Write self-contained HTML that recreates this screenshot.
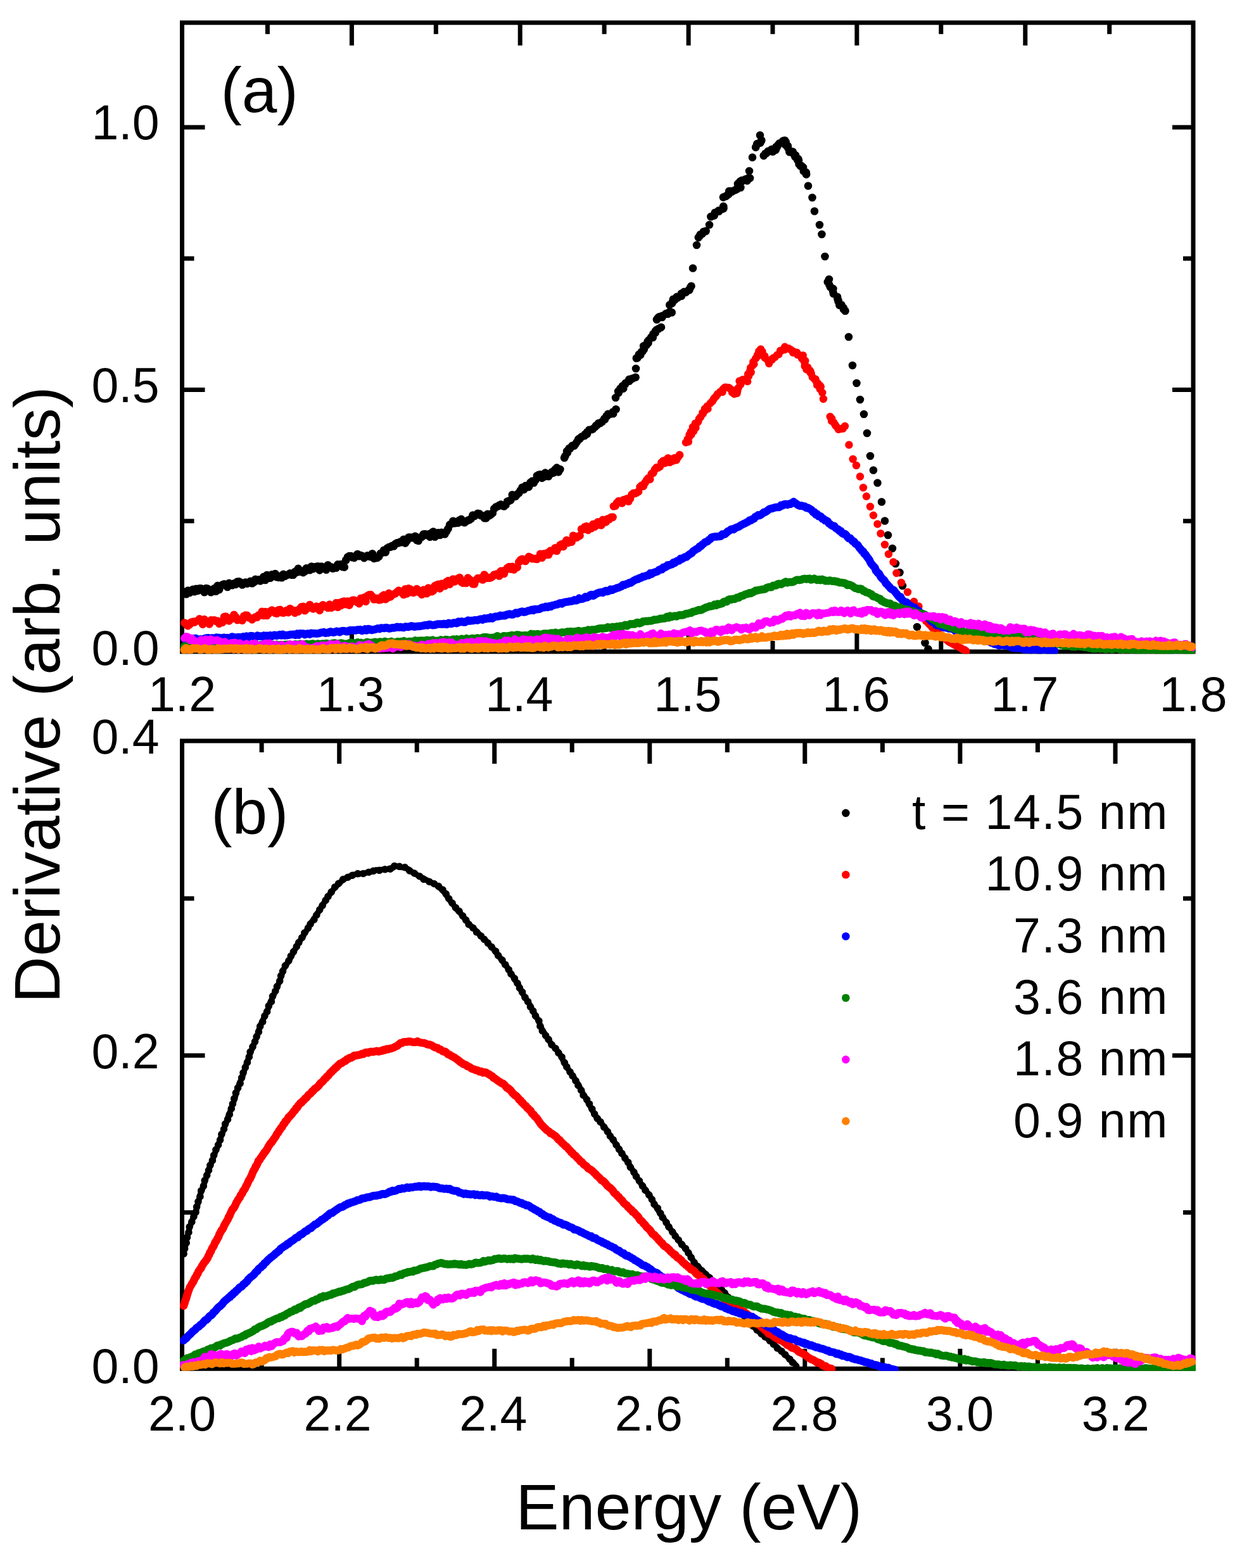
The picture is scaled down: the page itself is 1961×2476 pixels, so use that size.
<!DOCTYPE html>
<html><head><meta charset="utf-8"><title>Derivative plot</title>
<style>html,body{margin:0;padding:0;background:#fff;}svg{display:block;}</style>
</head><body>
<svg width="1961" height="2476" viewBox="0 0 1961 2476">
<rect x="0" y="0" width="1961" height="2476" fill="#ffffff"/>
<rect x="287.5" y="35.8" width="1596.5" height="993.2" fill="none" stroke="#000" stroke-width="7.0"/>
<line x1="555.4" y1="1029.0" x2="555.4" y2="997.5" stroke="#000" stroke-width="7.0"/>
<line x1="555.4" y1="35.8" x2="555.4" y2="71.8" stroke="#000" stroke-width="7.0"/>
<line x1="821.2" y1="1029.0" x2="821.2" y2="997.5" stroke="#000" stroke-width="7.0"/>
<line x1="821.2" y1="35.8" x2="821.2" y2="71.8" stroke="#000" stroke-width="7.0"/>
<line x1="1087.1" y1="1029.0" x2="1087.1" y2="997.5" stroke="#000" stroke-width="7.0"/>
<line x1="1087.1" y1="35.8" x2="1087.1" y2="71.8" stroke="#000" stroke-width="7.0"/>
<line x1="1352.9" y1="1029.0" x2="1352.9" y2="997.5" stroke="#000" stroke-width="7.0"/>
<line x1="1352.9" y1="35.8" x2="1352.9" y2="71.8" stroke="#000" stroke-width="7.0"/>
<line x1="1618.8" y1="1029.0" x2="1618.8" y2="997.5" stroke="#000" stroke-width="7.0"/>
<line x1="1618.8" y1="35.8" x2="1618.8" y2="71.8" stroke="#000" stroke-width="7.0"/>
<line x1="422.4" y1="1029.0" x2="422.4" y2="1012.0" stroke="#000" stroke-width="7.0"/>
<line x1="422.4" y1="35.8" x2="422.4" y2="53.8" stroke="#000" stroke-width="7.0"/>
<line x1="688.3" y1="1029.0" x2="688.3" y2="1012.0" stroke="#000" stroke-width="7.0"/>
<line x1="688.3" y1="35.8" x2="688.3" y2="53.8" stroke="#000" stroke-width="7.0"/>
<line x1="954.1" y1="1029.0" x2="954.1" y2="1012.0" stroke="#000" stroke-width="7.0"/>
<line x1="954.1" y1="35.8" x2="954.1" y2="53.8" stroke="#000" stroke-width="7.0"/>
<line x1="1220.0" y1="1029.0" x2="1220.0" y2="1012.0" stroke="#000" stroke-width="7.0"/>
<line x1="1220.0" y1="35.8" x2="1220.0" y2="53.8" stroke="#000" stroke-width="7.0"/>
<line x1="1485.8" y1="1029.0" x2="1485.8" y2="1012.0" stroke="#000" stroke-width="7.0"/>
<line x1="1485.8" y1="35.8" x2="1485.8" y2="53.8" stroke="#000" stroke-width="7.0"/>
<line x1="1751.7" y1="1029.0" x2="1751.7" y2="1012.0" stroke="#000" stroke-width="7.0"/>
<line x1="1751.7" y1="35.8" x2="1751.7" y2="53.8" stroke="#000" stroke-width="7.0"/>
<line x1="287.5" y1="615.5" x2="323.5" y2="615.5" stroke="#000" stroke-width="7.0"/>
<line x1="1884.0" y1="615.5" x2="1851.0" y2="615.5" stroke="#000" stroke-width="7.0"/>
<line x1="287.5" y1="201.0" x2="323.5" y2="201.0" stroke="#000" stroke-width="7.0"/>
<line x1="1884.0" y1="201.0" x2="1851.0" y2="201.0" stroke="#000" stroke-width="7.0"/>
<line x1="287.5" y1="822.8" x2="306.5" y2="822.8" stroke="#000" stroke-width="7.0"/>
<line x1="1884.0" y1="822.8" x2="1868.0" y2="822.8" stroke="#000" stroke-width="7.0"/>
<line x1="287.5" y1="408.2" x2="306.5" y2="408.2" stroke="#000" stroke-width="7.0"/>
<line x1="1884.0" y1="408.2" x2="1868.0" y2="408.2" stroke="#000" stroke-width="7.0"/>
<rect x="287.5" y="1170.0" width="1596.5" height="991.3000000000002" fill="none" stroke="#000" stroke-width="7.0"/>
<line x1="535.7" y1="2161.3" x2="535.7" y2="2129.8" stroke="#000" stroke-width="7.0"/>
<line x1="535.7" y1="1170.0" x2="535.7" y2="1206.0" stroke="#000" stroke-width="7.0"/>
<line x1="780.7" y1="2161.3" x2="780.7" y2="2129.8" stroke="#000" stroke-width="7.0"/>
<line x1="780.7" y1="1170.0" x2="780.7" y2="1206.0" stroke="#000" stroke-width="7.0"/>
<line x1="1025.8" y1="2161.3" x2="1025.8" y2="2129.8" stroke="#000" stroke-width="7.0"/>
<line x1="1025.8" y1="1170.0" x2="1025.8" y2="1206.0" stroke="#000" stroke-width="7.0"/>
<line x1="1270.8" y1="2161.3" x2="1270.8" y2="2129.8" stroke="#000" stroke-width="7.0"/>
<line x1="1270.8" y1="1170.0" x2="1270.8" y2="1206.0" stroke="#000" stroke-width="7.0"/>
<line x1="1515.9" y1="2161.3" x2="1515.9" y2="2129.8" stroke="#000" stroke-width="7.0"/>
<line x1="1515.9" y1="1170.0" x2="1515.9" y2="1206.0" stroke="#000" stroke-width="7.0"/>
<line x1="1761.0" y1="2161.3" x2="1761.0" y2="2129.8" stroke="#000" stroke-width="7.0"/>
<line x1="1761.0" y1="1170.0" x2="1761.0" y2="1206.0" stroke="#000" stroke-width="7.0"/>
<line x1="413.1" y1="2161.3" x2="413.1" y2="2144.3" stroke="#000" stroke-width="7.0"/>
<line x1="413.1" y1="1170.0" x2="413.1" y2="1188.0" stroke="#000" stroke-width="7.0"/>
<line x1="658.2" y1="2161.3" x2="658.2" y2="2144.3" stroke="#000" stroke-width="7.0"/>
<line x1="658.2" y1="1170.0" x2="658.2" y2="1188.0" stroke="#000" stroke-width="7.0"/>
<line x1="903.2" y1="2161.3" x2="903.2" y2="2144.3" stroke="#000" stroke-width="7.0"/>
<line x1="903.2" y1="1170.0" x2="903.2" y2="1188.0" stroke="#000" stroke-width="7.0"/>
<line x1="1148.3" y1="2161.3" x2="1148.3" y2="2144.3" stroke="#000" stroke-width="7.0"/>
<line x1="1148.3" y1="1170.0" x2="1148.3" y2="1188.0" stroke="#000" stroke-width="7.0"/>
<line x1="1393.4" y1="2161.3" x2="1393.4" y2="2144.3" stroke="#000" stroke-width="7.0"/>
<line x1="1393.4" y1="1170.0" x2="1393.4" y2="1188.0" stroke="#000" stroke-width="7.0"/>
<line x1="1638.4" y1="2161.3" x2="1638.4" y2="2144.3" stroke="#000" stroke-width="7.0"/>
<line x1="1638.4" y1="1170.0" x2="1638.4" y2="1188.0" stroke="#000" stroke-width="7.0"/>
<line x1="287.5" y1="1666.7" x2="323.5" y2="1666.7" stroke="#000" stroke-width="7.0"/>
<line x1="1884.0" y1="1666.7" x2="1851.0" y2="1666.7" stroke="#000" stroke-width="7.0"/>
<line x1="287.5" y1="1914.6" x2="306.5" y2="1914.6" stroke="#000" stroke-width="7.0"/>
<line x1="1884.0" y1="1914.6" x2="1868.0" y2="1914.6" stroke="#000" stroke-width="7.0"/>
<line x1="287.5" y1="1418.8" x2="306.5" y2="1418.8" stroke="#000" stroke-width="7.0"/>
<line x1="1884.0" y1="1418.8" x2="1868.0" y2="1418.8" stroke="#000" stroke-width="7.0"/>
<defs><clipPath id="ca"><rect x="284" y="32" width="1604" height="1000.5"/></clipPath><clipPath id="cb"><rect x="284" y="1166" width="1604" height="998.8"/></clipPath></defs>
<g id="pa" clip-path="url(#ca)">
<path d="M285.1,934.7a6.4,6.4 0 1,0 12.8,0a6.4,6.4 0 1,0 -12.8,0M287.7,938.2a6.4,6.4 0 1,0 12.8,0a6.4,6.4 0 1,0 -12.8,0M290.3,932.7a6.4,6.4 0 1,0 12.8,0a6.4,6.4 0 1,0 -12.8,0M292.9,935.9a6.4,6.4 0 1,0 12.8,0a6.4,6.4 0 1,0 -12.8,0M295.5,933.9a6.4,6.4 0 1,0 12.8,0a6.4,6.4 0 1,0 -12.8,0M298.1,930.8a6.4,6.4 0 1,0 12.8,0a6.4,6.4 0 1,0 -12.8,0M300.7,934.1a6.4,6.4 0 1,0 12.8,0a6.4,6.4 0 1,0 -12.8,0M303.3,929.8a6.4,6.4 0 1,0 12.8,0a6.4,6.4 0 1,0 -12.8,0M305.9,932.8a6.4,6.4 0 1,0 12.8,0a6.4,6.4 0 1,0 -12.8,0M308.5,929.5a6.4,6.4 0 1,0 12.8,0a6.4,6.4 0 1,0 -12.8,0M311.1,929.4a6.4,6.4 0 1,0 12.8,0a6.4,6.4 0 1,0 -12.8,0M313.7,932.0a6.4,6.4 0 1,0 12.8,0a6.4,6.4 0 1,0 -12.8,0M316.3,935.2a6.4,6.4 0 1,0 12.8,0a6.4,6.4 0 1,0 -12.8,0M318.9,929.1a6.4,6.4 0 1,0 12.8,0a6.4,6.4 0 1,0 -12.8,0M321.5,929.7a6.4,6.4 0 1,0 12.8,0a6.4,6.4 0 1,0 -12.8,0M324.1,932.8a6.4,6.4 0 1,0 12.8,0a6.4,6.4 0 1,0 -12.8,0M326.7,935.1a6.4,6.4 0 1,0 12.8,0a6.4,6.4 0 1,0 -12.8,0M329.3,931.5a6.4,6.4 0 1,0 12.8,0a6.4,6.4 0 1,0 -12.8,0M331.9,929.4a6.4,6.4 0 1,0 12.8,0a6.4,6.4 0 1,0 -12.8,0M334.5,933.6a6.4,6.4 0 1,0 12.8,0a6.4,6.4 0 1,0 -12.8,0M337.1,925.0a6.4,6.4 0 1,0 12.8,0a6.4,6.4 0 1,0 -12.8,0M339.7,931.0a6.4,6.4 0 1,0 12.8,0a6.4,6.4 0 1,0 -12.8,0M342.3,925.4a6.4,6.4 0 1,0 12.8,0a6.4,6.4 0 1,0 -12.8,0M344.9,923.4a6.4,6.4 0 1,0 12.8,0a6.4,6.4 0 1,0 -12.8,0M347.5,922.4a6.4,6.4 0 1,0 12.8,0a6.4,6.4 0 1,0 -12.8,0M350.1,923.3a6.4,6.4 0 1,0 12.8,0a6.4,6.4 0 1,0 -12.8,0M352.7,926.9a6.4,6.4 0 1,0 12.8,0a6.4,6.4 0 1,0 -12.8,0M355.3,921.0a6.4,6.4 0 1,0 12.8,0a6.4,6.4 0 1,0 -12.8,0M357.9,923.9a6.4,6.4 0 1,0 12.8,0a6.4,6.4 0 1,0 -12.8,0M360.5,924.0a6.4,6.4 0 1,0 12.8,0a6.4,6.4 0 1,0 -12.8,0M363.1,921.5a6.4,6.4 0 1,0 12.8,0a6.4,6.4 0 1,0 -12.8,0M365.7,922.8a6.4,6.4 0 1,0 12.8,0a6.4,6.4 0 1,0 -12.8,0M368.3,918.6a6.4,6.4 0 1,0 12.8,0a6.4,6.4 0 1,0 -12.8,0M370.9,918.4a6.4,6.4 0 1,0 12.8,0a6.4,6.4 0 1,0 -12.8,0M373.5,919.6a6.4,6.4 0 1,0 12.8,0a6.4,6.4 0 1,0 -12.8,0M376.1,923.4a6.4,6.4 0 1,0 12.8,0a6.4,6.4 0 1,0 -12.8,0M378.7,921.0a6.4,6.4 0 1,0 12.8,0a6.4,6.4 0 1,0 -12.8,0M381.3,919.7a6.4,6.4 0 1,0 12.8,0a6.4,6.4 0 1,0 -12.8,0M383.9,921.5a6.4,6.4 0 1,0 12.8,0a6.4,6.4 0 1,0 -12.8,0M386.5,919.8a6.4,6.4 0 1,0 12.8,0a6.4,6.4 0 1,0 -12.8,0M389.1,917.8a6.4,6.4 0 1,0 12.8,0a6.4,6.4 0 1,0 -12.8,0M391.7,921.2a6.4,6.4 0 1,0 12.8,0a6.4,6.4 0 1,0 -12.8,0M394.3,919.5a6.4,6.4 0 1,0 12.8,0a6.4,6.4 0 1,0 -12.8,0M396.9,914.8a6.4,6.4 0 1,0 12.8,0a6.4,6.4 0 1,0 -12.8,0M399.5,916.6a6.4,6.4 0 1,0 12.8,0a6.4,6.4 0 1,0 -12.8,0M402.1,915.3a6.4,6.4 0 1,0 12.8,0a6.4,6.4 0 1,0 -12.8,0M404.7,917.3a6.4,6.4 0 1,0 12.8,0a6.4,6.4 0 1,0 -12.8,0M407.3,915.3a6.4,6.4 0 1,0 12.8,0a6.4,6.4 0 1,0 -12.8,0M409.9,910.8a6.4,6.4 0 1,0 12.8,0a6.4,6.4 0 1,0 -12.8,0M412.5,915.9a6.4,6.4 0 1,0 12.8,0a6.4,6.4 0 1,0 -12.8,0M415.1,908.1a6.4,6.4 0 1,0 12.8,0a6.4,6.4 0 1,0 -12.8,0M417.7,910.2a6.4,6.4 0 1,0 12.8,0a6.4,6.4 0 1,0 -12.8,0M420.3,912.7a6.4,6.4 0 1,0 12.8,0a6.4,6.4 0 1,0 -12.8,0M422.9,907.4a6.4,6.4 0 1,0 12.8,0a6.4,6.4 0 1,0 -12.8,0M425.5,910.0a6.4,6.4 0 1,0 12.8,0a6.4,6.4 0 1,0 -12.8,0M428.1,906.1a6.4,6.4 0 1,0 12.8,0a6.4,6.4 0 1,0 -12.8,0M430.7,911.2a6.4,6.4 0 1,0 12.8,0a6.4,6.4 0 1,0 -12.8,0M433.3,911.8a6.4,6.4 0 1,0 12.8,0a6.4,6.4 0 1,0 -12.8,0M435.9,909.9a6.4,6.4 0 1,0 12.8,0a6.4,6.4 0 1,0 -12.8,0M438.5,912.1a6.4,6.4 0 1,0 12.8,0a6.4,6.4 0 1,0 -12.8,0M441.1,906.9a6.4,6.4 0 1,0 12.8,0a6.4,6.4 0 1,0 -12.8,0M443.7,909.6a6.4,6.4 0 1,0 12.8,0a6.4,6.4 0 1,0 -12.8,0M446.3,908.1a6.4,6.4 0 1,0 12.8,0a6.4,6.4 0 1,0 -12.8,0M448.9,907.3a6.4,6.4 0 1,0 12.8,0a6.4,6.4 0 1,0 -12.8,0M451.5,905.4a6.4,6.4 0 1,0 12.8,0a6.4,6.4 0 1,0 -12.8,0M454.1,907.8a6.4,6.4 0 1,0 12.8,0a6.4,6.4 0 1,0 -12.8,0M456.7,907.8a6.4,6.4 0 1,0 12.8,0a6.4,6.4 0 1,0 -12.8,0M459.3,903.0a6.4,6.4 0 1,0 12.8,0a6.4,6.4 0 1,0 -12.8,0M461.9,903.8a6.4,6.4 0 1,0 12.8,0a6.4,6.4 0 1,0 -12.8,0M464.5,898.0a6.4,6.4 0 1,0 12.8,0a6.4,6.4 0 1,0 -12.8,0M467.1,902.7a6.4,6.4 0 1,0 12.8,0a6.4,6.4 0 1,0 -12.8,0M469.7,901.6a6.4,6.4 0 1,0 12.8,0a6.4,6.4 0 1,0 -12.8,0M472.3,904.0a6.4,6.4 0 1,0 12.8,0a6.4,6.4 0 1,0 -12.8,0M474.9,902.2a6.4,6.4 0 1,0 12.8,0a6.4,6.4 0 1,0 -12.8,0M477.5,897.4a6.4,6.4 0 1,0 12.8,0a6.4,6.4 0 1,0 -12.8,0M480.1,898.0a6.4,6.4 0 1,0 12.8,0a6.4,6.4 0 1,0 -12.8,0M482.7,900.2a6.4,6.4 0 1,0 12.8,0a6.4,6.4 0 1,0 -12.8,0M485.3,894.6a6.4,6.4 0 1,0 12.8,0a6.4,6.4 0 1,0 -12.8,0M487.9,898.1a6.4,6.4 0 1,0 12.8,0a6.4,6.4 0 1,0 -12.8,0M490.5,895.4a6.4,6.4 0 1,0 12.8,0a6.4,6.4 0 1,0 -12.8,0M493.1,895.0a6.4,6.4 0 1,0 12.8,0a6.4,6.4 0 1,0 -12.8,0M495.7,894.5a6.4,6.4 0 1,0 12.8,0a6.4,6.4 0 1,0 -12.8,0M498.3,900.3a6.4,6.4 0 1,0 12.8,0a6.4,6.4 0 1,0 -12.8,0M500.9,894.7a6.4,6.4 0 1,0 12.8,0a6.4,6.4 0 1,0 -12.8,0M503.5,895.3a6.4,6.4 0 1,0 12.8,0a6.4,6.4 0 1,0 -12.8,0M506.1,896.1a6.4,6.4 0 1,0 12.8,0a6.4,6.4 0 1,0 -12.8,0M508.7,899.6a6.4,6.4 0 1,0 12.8,0a6.4,6.4 0 1,0 -12.8,0M511.3,892.4a6.4,6.4 0 1,0 12.8,0a6.4,6.4 0 1,0 -12.8,0M513.9,895.0a6.4,6.4 0 1,0 12.8,0a6.4,6.4 0 1,0 -12.8,0M516.5,895.3a6.4,6.4 0 1,0 12.8,0a6.4,6.4 0 1,0 -12.8,0M519.1,897.6a6.4,6.4 0 1,0 12.8,0a6.4,6.4 0 1,0 -12.8,0M521.7,896.6a6.4,6.4 0 1,0 12.8,0a6.4,6.4 0 1,0 -12.8,0M524.3,896.7a6.4,6.4 0 1,0 12.8,0a6.4,6.4 0 1,0 -12.8,0M526.9,891.5a6.4,6.4 0 1,0 12.8,0a6.4,6.4 0 1,0 -12.8,0M529.5,892.2a6.4,6.4 0 1,0 12.8,0a6.4,6.4 0 1,0 -12.8,0M532.1,891.2a6.4,6.4 0 1,0 12.8,0a6.4,6.4 0 1,0 -12.8,0M534.7,895.2a6.4,6.4 0 1,0 12.8,0a6.4,6.4 0 1,0 -12.8,0M537.3,895.5a6.4,6.4 0 1,0 12.8,0a6.4,6.4 0 1,0 -12.8,0M539.9,884.4a6.4,6.4 0 1,0 12.8,0a6.4,6.4 0 1,0 -12.8,0M542.5,879.7a6.4,6.4 0 1,0 12.8,0a6.4,6.4 0 1,0 -12.8,0M545.1,878.1a6.4,6.4 0 1,0 12.8,0a6.4,6.4 0 1,0 -12.8,0M547.7,878.1a6.4,6.4 0 1,0 12.8,0a6.4,6.4 0 1,0 -12.8,0M550.3,880.1a6.4,6.4 0 1,0 12.8,0a6.4,6.4 0 1,0 -12.8,0M552.9,880.8a6.4,6.4 0 1,0 12.8,0a6.4,6.4 0 1,0 -12.8,0M555.5,877.7a6.4,6.4 0 1,0 12.8,0a6.4,6.4 0 1,0 -12.8,0M558.1,875.1a6.4,6.4 0 1,0 12.8,0a6.4,6.4 0 1,0 -12.8,0M560.7,878.1a6.4,6.4 0 1,0 12.8,0a6.4,6.4 0 1,0 -12.8,0M563.3,877.2a6.4,6.4 0 1,0 12.8,0a6.4,6.4 0 1,0 -12.8,0M565.9,878.2a6.4,6.4 0 1,0 12.8,0a6.4,6.4 0 1,0 -12.8,0M568.5,881.0a6.4,6.4 0 1,0 12.8,0a6.4,6.4 0 1,0 -12.8,0M571.1,878.9a6.4,6.4 0 1,0 12.8,0a6.4,6.4 0 1,0 -12.8,0M573.7,877.5a6.4,6.4 0 1,0 12.8,0a6.4,6.4 0 1,0 -12.8,0M576.3,878.5a6.4,6.4 0 1,0 12.8,0a6.4,6.4 0 1,0 -12.8,0M578.9,879.2a6.4,6.4 0 1,0 12.8,0a6.4,6.4 0 1,0 -12.8,0M581.5,874.3a6.4,6.4 0 1,0 12.8,0a6.4,6.4 0 1,0 -12.8,0M584.1,881.8a6.4,6.4 0 1,0 12.8,0a6.4,6.4 0 1,0 -12.8,0M586.7,881.2a6.4,6.4 0 1,0 12.8,0a6.4,6.4 0 1,0 -12.8,0M589.3,880.6a6.4,6.4 0 1,0 12.8,0a6.4,6.4 0 1,0 -12.8,0M591.9,878.6a6.4,6.4 0 1,0 12.8,0a6.4,6.4 0 1,0 -12.8,0M594.5,874.0a6.4,6.4 0 1,0 12.8,0a6.4,6.4 0 1,0 -12.8,0M597.1,872.8a6.4,6.4 0 1,0 12.8,0a6.4,6.4 0 1,0 -12.8,0M599.7,868.9a6.4,6.4 0 1,0 12.8,0a6.4,6.4 0 1,0 -12.8,0M602.3,872.0a6.4,6.4 0 1,0 12.8,0a6.4,6.4 0 1,0 -12.8,0M604.9,865.7a6.4,6.4 0 1,0 12.8,0a6.4,6.4 0 1,0 -12.8,0M607.5,864.2a6.4,6.4 0 1,0 12.8,0a6.4,6.4 0 1,0 -12.8,0M610.1,863.7a6.4,6.4 0 1,0 12.8,0a6.4,6.4 0 1,0 -12.8,0M612.7,862.0a6.4,6.4 0 1,0 12.8,0a6.4,6.4 0 1,0 -12.8,0M615.3,862.4a6.4,6.4 0 1,0 12.8,0a6.4,6.4 0 1,0 -12.8,0M617.9,858.9a6.4,6.4 0 1,0 12.8,0a6.4,6.4 0 1,0 -12.8,0M620.5,857.3a6.4,6.4 0 1,0 12.8,0a6.4,6.4 0 1,0 -12.8,0M623.1,857.3a6.4,6.4 0 1,0 12.8,0a6.4,6.4 0 1,0 -12.8,0M625.7,855.6a6.4,6.4 0 1,0 12.8,0a6.4,6.4 0 1,0 -12.8,0M628.3,856.2a6.4,6.4 0 1,0 12.8,0a6.4,6.4 0 1,0 -12.8,0M630.9,851.9a6.4,6.4 0 1,0 12.8,0a6.4,6.4 0 1,0 -12.8,0M633.5,857.5a6.4,6.4 0 1,0 12.8,0a6.4,6.4 0 1,0 -12.8,0M636.1,854.0a6.4,6.4 0 1,0 12.8,0a6.4,6.4 0 1,0 -12.8,0M638.7,848.7a6.4,6.4 0 1,0 12.8,0a6.4,6.4 0 1,0 -12.8,0M641.3,848.6a6.4,6.4 0 1,0 12.8,0a6.4,6.4 0 1,0 -12.8,0M643.9,849.1a6.4,6.4 0 1,0 12.8,0a6.4,6.4 0 1,0 -12.8,0M646.5,849.1a6.4,6.4 0 1,0 12.8,0a6.4,6.4 0 1,0 -12.8,0M649.1,846.9a6.4,6.4 0 1,0 12.8,0a6.4,6.4 0 1,0 -12.8,0M651.7,852.9a6.4,6.4 0 1,0 12.8,0a6.4,6.4 0 1,0 -12.8,0M654.3,853.9a6.4,6.4 0 1,0 12.8,0a6.4,6.4 0 1,0 -12.8,0M656.9,848.6a6.4,6.4 0 1,0 12.8,0a6.4,6.4 0 1,0 -12.8,0M659.5,847.9a6.4,6.4 0 1,0 12.8,0a6.4,6.4 0 1,0 -12.8,0M662.1,843.7a6.4,6.4 0 1,0 12.8,0a6.4,6.4 0 1,0 -12.8,0M664.7,843.4a6.4,6.4 0 1,0 12.8,0a6.4,6.4 0 1,0 -12.8,0M667.3,844.9a6.4,6.4 0 1,0 12.8,0a6.4,6.4 0 1,0 -12.8,0M669.9,843.7a6.4,6.4 0 1,0 12.8,0a6.4,6.4 0 1,0 -12.8,0M672.5,847.8a6.4,6.4 0 1,0 12.8,0a6.4,6.4 0 1,0 -12.8,0M675.1,841.5a6.4,6.4 0 1,0 12.8,0a6.4,6.4 0 1,0 -12.8,0M677.7,839.6a6.4,6.4 0 1,0 12.8,0a6.4,6.4 0 1,0 -12.8,0M680.3,847.6a6.4,6.4 0 1,0 12.8,0a6.4,6.4 0 1,0 -12.8,0M682.9,844.3a6.4,6.4 0 1,0 12.8,0a6.4,6.4 0 1,0 -12.8,0M685.5,841.3a6.4,6.4 0 1,0 12.8,0a6.4,6.4 0 1,0 -12.8,0M688.1,844.9a6.4,6.4 0 1,0 12.8,0a6.4,6.4 0 1,0 -12.8,0M690.7,840.9a6.4,6.4 0 1,0 12.8,0a6.4,6.4 0 1,0 -12.8,0M693.3,843.0a6.4,6.4 0 1,0 12.8,0a6.4,6.4 0 1,0 -12.8,0M695.9,843.4a6.4,6.4 0 1,0 12.8,0a6.4,6.4 0 1,0 -12.8,0M698.5,839.3a6.4,6.4 0 1,0 12.8,0a6.4,6.4 0 1,0 -12.8,0M701.1,835.0a6.4,6.4 0 1,0 12.8,0a6.4,6.4 0 1,0 -12.8,0M703.7,828.7a6.4,6.4 0 1,0 12.8,0a6.4,6.4 0 1,0 -12.8,0M706.3,827.0a6.4,6.4 0 1,0 12.8,0a6.4,6.4 0 1,0 -12.8,0M708.9,822.9a6.4,6.4 0 1,0 12.8,0a6.4,6.4 0 1,0 -12.8,0M711.5,826.2a6.4,6.4 0 1,0 12.8,0a6.4,6.4 0 1,0 -12.8,0M714.1,823.9a6.4,6.4 0 1,0 12.8,0a6.4,6.4 0 1,0 -12.8,0M716.7,825.6a6.4,6.4 0 1,0 12.8,0a6.4,6.4 0 1,0 -12.8,0M719.3,821.4a6.4,6.4 0 1,0 12.8,0a6.4,6.4 0 1,0 -12.8,0M721.9,820.0a6.4,6.4 0 1,0 12.8,0a6.4,6.4 0 1,0 -12.8,0M724.5,824.3a6.4,6.4 0 1,0 12.8,0a6.4,6.4 0 1,0 -12.8,0M727.1,825.1a6.4,6.4 0 1,0 12.8,0a6.4,6.4 0 1,0 -12.8,0M729.7,823.1a6.4,6.4 0 1,0 12.8,0a6.4,6.4 0 1,0 -12.8,0M732.3,821.7a6.4,6.4 0 1,0 12.8,0a6.4,6.4 0 1,0 -12.8,0M734.9,820.8a6.4,6.4 0 1,0 12.8,0a6.4,6.4 0 1,0 -12.8,0M737.5,819.0a6.4,6.4 0 1,0 12.8,0a6.4,6.4 0 1,0 -12.8,0M740.1,813.6a6.4,6.4 0 1,0 12.8,0a6.4,6.4 0 1,0 -12.8,0M742.7,814.9a6.4,6.4 0 1,0 12.8,0a6.4,6.4 0 1,0 -12.8,0M745.3,813.3a6.4,6.4 0 1,0 12.8,0a6.4,6.4 0 1,0 -12.8,0M747.9,810.9a6.4,6.4 0 1,0 12.8,0a6.4,6.4 0 1,0 -12.8,0M750.5,811.4a6.4,6.4 0 1,0 12.8,0a6.4,6.4 0 1,0 -12.8,0M753.1,814.0a6.4,6.4 0 1,0 12.8,0a6.4,6.4 0 1,0 -12.8,0M755.7,814.4a6.4,6.4 0 1,0 12.8,0a6.4,6.4 0 1,0 -12.8,0M758.3,818.0a6.4,6.4 0 1,0 12.8,0a6.4,6.4 0 1,0 -12.8,0M760.9,818.2a6.4,6.4 0 1,0 12.8,0a6.4,6.4 0 1,0 -12.8,0M763.5,811.9a6.4,6.4 0 1,0 12.8,0a6.4,6.4 0 1,0 -12.8,0M766.1,814.1a6.4,6.4 0 1,0 12.8,0a6.4,6.4 0 1,0 -12.8,0M768.7,812.5a6.4,6.4 0 1,0 12.8,0a6.4,6.4 0 1,0 -12.8,0M771.3,810.3a6.4,6.4 0 1,0 12.8,0a6.4,6.4 0 1,0 -12.8,0M773.9,803.3a6.4,6.4 0 1,0 12.8,0a6.4,6.4 0 1,0 -12.8,0M776.5,800.7a6.4,6.4 0 1,0 12.8,0a6.4,6.4 0 1,0 -12.8,0M779.1,799.6a6.4,6.4 0 1,0 12.8,0a6.4,6.4 0 1,0 -12.8,0M781.7,798.0a6.4,6.4 0 1,0 12.8,0a6.4,6.4 0 1,0 -12.8,0M784.3,796.7a6.4,6.4 0 1,0 12.8,0a6.4,6.4 0 1,0 -12.8,0M786.9,798.7a6.4,6.4 0 1,0 12.8,0a6.4,6.4 0 1,0 -12.8,0M789.5,799.4a6.4,6.4 0 1,0 12.8,0a6.4,6.4 0 1,0 -12.8,0M792.1,797.3a6.4,6.4 0 1,0 12.8,0a6.4,6.4 0 1,0 -12.8,0M794.7,791.8a6.4,6.4 0 1,0 12.8,0a6.4,6.4 0 1,0 -12.8,0M797.3,790.9a6.4,6.4 0 1,0 12.8,0a6.4,6.4 0 1,0 -12.8,0M799.9,789.7a6.4,6.4 0 1,0 12.8,0a6.4,6.4 0 1,0 -12.8,0M802.5,781.3a6.4,6.4 0 1,0 12.8,0a6.4,6.4 0 1,0 -12.8,0M805.1,783.9a6.4,6.4 0 1,0 12.8,0a6.4,6.4 0 1,0 -12.8,0M807.7,783.8a6.4,6.4 0 1,0 12.8,0a6.4,6.4 0 1,0 -12.8,0M810.3,780.6a6.4,6.4 0 1,0 12.8,0a6.4,6.4 0 1,0 -12.8,0M812.9,778.4a6.4,6.4 0 1,0 12.8,0a6.4,6.4 0 1,0 -12.8,0M815.5,774.2a6.4,6.4 0 1,0 12.8,0a6.4,6.4 0 1,0 -12.8,0M818.1,769.8a6.4,6.4 0 1,0 12.8,0a6.4,6.4 0 1,0 -12.8,0M820.7,773.0a6.4,6.4 0 1,0 12.8,0a6.4,6.4 0 1,0 -12.8,0M823.3,767.2a6.4,6.4 0 1,0 12.8,0a6.4,6.4 0 1,0 -12.8,0M825.9,769.3a6.4,6.4 0 1,0 12.8,0a6.4,6.4 0 1,0 -12.8,0M828.5,768.8a6.4,6.4 0 1,0 12.8,0a6.4,6.4 0 1,0 -12.8,0M831.1,762.0a6.4,6.4 0 1,0 12.8,0a6.4,6.4 0 1,0 -12.8,0M833.7,760.0a6.4,6.4 0 1,0 12.8,0a6.4,6.4 0 1,0 -12.8,0M836.3,762.4a6.4,6.4 0 1,0 12.8,0a6.4,6.4 0 1,0 -12.8,0M838.9,758.3a6.4,6.4 0 1,0 12.8,0a6.4,6.4 0 1,0 -12.8,0M841.5,751.3a6.4,6.4 0 1,0 12.8,0a6.4,6.4 0 1,0 -12.8,0M844.1,749.9a6.4,6.4 0 1,0 12.8,0a6.4,6.4 0 1,0 -12.8,0M846.7,749.3a6.4,6.4 0 1,0 12.8,0a6.4,6.4 0 1,0 -12.8,0M849.3,754.8a6.4,6.4 0 1,0 12.8,0a6.4,6.4 0 1,0 -12.8,0M851.9,753.1a6.4,6.4 0 1,0 12.8,0a6.4,6.4 0 1,0 -12.8,0M854.5,746.7a6.4,6.4 0 1,0 12.8,0a6.4,6.4 0 1,0 -12.8,0M857.1,751.6a6.4,6.4 0 1,0 12.8,0a6.4,6.4 0 1,0 -12.8,0M859.7,752.1a6.4,6.4 0 1,0 12.8,0a6.4,6.4 0 1,0 -12.8,0M862.3,748.7a6.4,6.4 0 1,0 12.8,0a6.4,6.4 0 1,0 -12.8,0M864.9,745.5a6.4,6.4 0 1,0 12.8,0a6.4,6.4 0 1,0 -12.8,0M867.5,746.5a6.4,6.4 0 1,0 12.8,0a6.4,6.4 0 1,0 -12.8,0M870.1,741.3a6.4,6.4 0 1,0 12.8,0a6.4,6.4 0 1,0 -12.8,0M872.7,738.7a6.4,6.4 0 1,0 12.8,0a6.4,6.4 0 1,0 -12.8,0M875.3,745.3a6.4,6.4 0 1,0 12.8,0a6.4,6.4 0 1,0 -12.8,0M877.9,741.1a6.4,6.4 0 1,0 12.8,0a6.4,6.4 0 1,0 -12.8,0" fill="#000"/>
<path d="M884.7,722.9a6.4,6.4 0 1,0 12.8,0a6.4,6.4 0 1,0 -12.8,0M886.1,720.1a6.4,6.4 0 1,0 12.8,0a6.4,6.4 0 1,0 -12.8,0M889.5,714.7a6.4,6.4 0 1,0 12.8,0a6.4,6.4 0 1,0 -12.8,0M888.7,712.5a6.4,6.4 0 1,0 12.8,0a6.4,6.4 0 1,0 -12.8,0M890.4,711.3a6.4,6.4 0 1,0 12.8,0a6.4,6.4 0 1,0 -12.8,0M892.3,708.1a6.4,6.4 0 1,0 12.8,0a6.4,6.4 0 1,0 -12.8,0M893.8,708.1a6.4,6.4 0 1,0 12.8,0a6.4,6.4 0 1,0 -12.8,0M897.0,704.0a6.4,6.4 0 1,0 12.8,0a6.4,6.4 0 1,0 -12.8,0M900.3,703.8a6.4,6.4 0 1,0 12.8,0a6.4,6.4 0 1,0 -12.8,0M901.8,701.8a6.4,6.4 0 1,0 12.8,0a6.4,6.4 0 1,0 -12.8,0M904.4,698.0a6.4,6.4 0 1,0 12.8,0a6.4,6.4 0 1,0 -12.8,0M906.7,693.7a6.4,6.4 0 1,0 12.8,0a6.4,6.4 0 1,0 -12.8,0M908.6,692.3a6.4,6.4 0 1,0 12.8,0a6.4,6.4 0 1,0 -12.8,0M909.0,693.0a6.4,6.4 0 1,0 12.8,0a6.4,6.4 0 1,0 -12.8,0M912.0,689.6a6.4,6.4 0 1,0 12.8,0a6.4,6.4 0 1,0 -12.8,0M916.7,688.0a6.4,6.4 0 1,0 12.8,0a6.4,6.4 0 1,0 -12.8,0M917.3,685.9a6.4,6.4 0 1,0 12.8,0a6.4,6.4 0 1,0 -12.8,0M920.6,685.1a6.4,6.4 0 1,0 12.8,0a6.4,6.4 0 1,0 -12.8,0M920.9,682.1a6.4,6.4 0 1,0 12.8,0a6.4,6.4 0 1,0 -12.8,0M923.9,678.9a6.4,6.4 0 1,0 12.8,0a6.4,6.4 0 1,0 -12.8,0M928.5,678.0a6.4,6.4 0 1,0 12.8,0a6.4,6.4 0 1,0 -12.8,0M929.9,677.1a6.4,6.4 0 1,0 12.8,0a6.4,6.4 0 1,0 -12.8,0M933.7,673.8a6.4,6.4 0 1,0 12.8,0a6.4,6.4 0 1,0 -12.8,0M934.7,672.1a6.4,6.4 0 1,0 12.8,0a6.4,6.4 0 1,0 -12.8,0M936.6,671.0a6.4,6.4 0 1,0 12.8,0a6.4,6.4 0 1,0 -12.8,0M938.7,668.3a6.4,6.4 0 1,0 12.8,0a6.4,6.4 0 1,0 -12.8,0M941.1,668.1a6.4,6.4 0 1,0 12.8,0a6.4,6.4 0 1,0 -12.8,0M944.4,665.9a6.4,6.4 0 1,0 12.8,0a6.4,6.4 0 1,0 -12.8,0M947.8,661.2a6.4,6.4 0 1,0 12.8,0a6.4,6.4 0 1,0 -12.8,0M948.5,662.3a6.4,6.4 0 1,0 12.8,0a6.4,6.4 0 1,0 -12.8,0M952.1,656.9a6.4,6.4 0 1,0 12.8,0a6.4,6.4 0 1,0 -12.8,0M951.4,656.5a6.4,6.4 0 1,0 12.8,0a6.4,6.4 0 1,0 -12.8,0M953.7,653.8a6.4,6.4 0 1,0 12.8,0a6.4,6.4 0 1,0 -12.8,0M956.1,654.0a6.4,6.4 0 1,0 12.8,0a6.4,6.4 0 1,0 -12.8,0M961.7,653.2a6.4,6.4 0 1,0 12.8,0a6.4,6.4 0 1,0 -12.8,0M961.4,650.6a6.4,6.4 0 1,0 12.8,0a6.4,6.4 0 1,0 -12.8,0M966.1,646.3a6.4,6.4 0 1,0 12.8,0a6.4,6.4 0 1,0 -12.8,0" fill="#000"/>
<path d="M970.3,620.1a6.4,6.4 0 1,0 12.8,0a6.4,6.4 0 1,0 -12.8,0M969.7,618.0a6.4,6.4 0 1,0 12.8,0a6.4,6.4 0 1,0 -12.8,0M972.8,613.9a6.4,6.4 0 1,0 12.8,0a6.4,6.4 0 1,0 -12.8,0M977.7,613.5a6.4,6.4 0 1,0 12.8,0a6.4,6.4 0 1,0 -12.8,0M976.3,609.7a6.4,6.4 0 1,0 12.8,0a6.4,6.4 0 1,0 -12.8,0M980.2,607.3a6.4,6.4 0 1,0 12.8,0a6.4,6.4 0 1,0 -12.8,0M981.1,605.2a6.4,6.4 0 1,0 12.8,0a6.4,6.4 0 1,0 -12.8,0M985.7,601.9a6.4,6.4 0 1,0 12.8,0a6.4,6.4 0 1,0 -12.8,0M987.2,601.7a6.4,6.4 0 1,0 12.8,0a6.4,6.4 0 1,0 -12.8,0M987.1,599.1a6.4,6.4 0 1,0 12.8,0a6.4,6.4 0 1,0 -12.8,0M991.9,597.9a6.4,6.4 0 1,0 12.8,0a6.4,6.4 0 1,0 -12.8,0M991.7,597.9a6.4,6.4 0 1,0 12.8,0a6.4,6.4 0 1,0 -12.8,0M997.1,595.8a6.4,6.4 0 1,0 12.8,0a6.4,6.4 0 1,0 -12.8,0" fill="#000"/>
<path d="M998.5,565.6a6.4,6.4 0 1,0 12.8,0a6.4,6.4 0 1,0 -12.8,0M999.8,565.2a6.4,6.4 0 1,0 12.8,0a6.4,6.4 0 1,0 -12.8,0M1002.4,559.7a6.4,6.4 0 1,0 12.8,0a6.4,6.4 0 1,0 -12.8,0M1004.7,560.5a6.4,6.4 0 1,0 12.8,0a6.4,6.4 0 1,0 -12.8,0M1008.1,555.0a6.4,6.4 0 1,0 12.8,0a6.4,6.4 0 1,0 -12.8,0M1006.8,555.3a6.4,6.4 0 1,0 12.8,0a6.4,6.4 0 1,0 -12.8,0M1010.3,551.7a6.4,6.4 0 1,0 12.8,0a6.4,6.4 0 1,0 -12.8,0M1009.8,546.3a6.4,6.4 0 1,0 12.8,0a6.4,6.4 0 1,0 -12.8,0M1014.0,545.3a6.4,6.4 0 1,0 12.8,0a6.4,6.4 0 1,0 -12.8,0M1012.9,545.0a6.4,6.4 0 1,0 12.8,0a6.4,6.4 0 1,0 -12.8,0M1017.0,541.8a6.4,6.4 0 1,0 12.8,0a6.4,6.4 0 1,0 -12.8,0M1016.2,539.4a6.4,6.4 0 1,0 12.8,0a6.4,6.4 0 1,0 -12.8,0M1018.1,537.1a6.4,6.4 0 1,0 12.8,0a6.4,6.4 0 1,0 -12.8,0M1021.8,532.6a6.4,6.4 0 1,0 12.8,0a6.4,6.4 0 1,0 -12.8,0M1024.3,532.9a6.4,6.4 0 1,0 12.8,0a6.4,6.4 0 1,0 -12.8,0M1025.1,527.2a6.4,6.4 0 1,0 12.8,0a6.4,6.4 0 1,0 -12.8,0M1028.3,525.5a6.4,6.4 0 1,0 12.8,0a6.4,6.4 0 1,0 -12.8,0M1028.5,522.9a6.4,6.4 0 1,0 12.8,0a6.4,6.4 0 1,0 -12.8,0M1030.3,520.8a6.4,6.4 0 1,0 12.8,0a6.4,6.4 0 1,0 -12.8,0M1033.5,519.1a6.4,6.4 0 1,0 12.8,0a6.4,6.4 0 1,0 -12.8,0M1037.5,516.8a6.4,6.4 0 1,0 12.8,0a6.4,6.4 0 1,0 -12.8,0" fill="#000"/>
<path d="M1030.6,504.6a6.4,6.4 0 1,0 12.8,0a6.4,6.4 0 1,0 -12.8,0M1032.4,502.1a6.4,6.4 0 1,0 12.8,0a6.4,6.4 0 1,0 -12.8,0M1034.4,500.3a6.4,6.4 0 1,0 12.8,0a6.4,6.4 0 1,0 -12.8,0M1039.0,500.9a6.4,6.4 0 1,0 12.8,0a6.4,6.4 0 1,0 -12.8,0M1039.0,498.8a6.4,6.4 0 1,0 12.8,0a6.4,6.4 0 1,0 -12.8,0M1044.8,495.5a6.4,6.4 0 1,0 12.8,0a6.4,6.4 0 1,0 -12.8,0M1046.9,495.5a6.4,6.4 0 1,0 12.8,0a6.4,6.4 0 1,0 -12.8,0M1048.1,495.7a6.4,6.4 0 1,0 12.8,0a6.4,6.4 0 1,0 -12.8,0M1050.3,492.8a6.4,6.4 0 1,0 12.8,0a6.4,6.4 0 1,0 -12.8,0M1054.2,493.4a6.4,6.4 0 1,0 12.8,0a6.4,6.4 0 1,0 -12.8,0" fill="#000"/>
<path d="M1050.9,481.5a6.4,6.4 0 1,0 12.8,0a6.4,6.4 0 1,0 -12.8,0M1054.8,478.7a6.4,6.4 0 1,0 12.8,0a6.4,6.4 0 1,0 -12.8,0M1055.8,475.5a6.4,6.4 0 1,0 12.8,0a6.4,6.4 0 1,0 -12.8,0M1056.6,472.6a6.4,6.4 0 1,0 12.8,0a6.4,6.4 0 1,0 -12.8,0M1059.0,473.4a6.4,6.4 0 1,0 12.8,0a6.4,6.4 0 1,0 -12.8,0M1062.1,469.0a6.4,6.4 0 1,0 12.8,0a6.4,6.4 0 1,0 -12.8,0M1063.7,470.0a6.4,6.4 0 1,0 12.8,0a6.4,6.4 0 1,0 -12.8,0M1069.5,467.4a6.4,6.4 0 1,0 12.8,0a6.4,6.4 0 1,0 -12.8,0M1069.3,463.7a6.4,6.4 0 1,0 12.8,0a6.4,6.4 0 1,0 -12.8,0M1071.7,462.8a6.4,6.4 0 1,0 12.8,0a6.4,6.4 0 1,0 -12.8,0M1073.6,461.0a6.4,6.4 0 1,0 12.8,0a6.4,6.4 0 1,0 -12.8,0M1076.5,461.5a6.4,6.4 0 1,0 12.8,0a6.4,6.4 0 1,0 -12.8,0M1082.0,457.9a6.4,6.4 0 1,0 12.8,0a6.4,6.4 0 1,0 -12.8,0M1081.2,457.9a6.4,6.4 0 1,0 12.8,0a6.4,6.4 0 1,0 -12.8,0M1083.9,453.5a6.4,6.4 0 1,0 12.8,0a6.4,6.4 0 1,0 -12.8,0M1085.0,451.8a6.4,6.4 0 1,0 12.8,0a6.4,6.4 0 1,0 -12.8,0" fill="#000"/>
<path d="M1096.5,375.0a6.4,6.4 0 1,0 12.8,0a6.4,6.4 0 1,0 -12.8,0M1097.8,373.3a6.4,6.4 0 1,0 12.8,0a6.4,6.4 0 1,0 -12.8,0M1099.4,370.4a6.4,6.4 0 1,0 12.8,0a6.4,6.4 0 1,0 -12.8,0M1102.2,369.3a6.4,6.4 0 1,0 12.8,0a6.4,6.4 0 1,0 -12.8,0M1104.5,365.8a6.4,6.4 0 1,0 12.8,0a6.4,6.4 0 1,0 -12.8,0M1108.1,365.0a6.4,6.4 0 1,0 12.8,0a6.4,6.4 0 1,0 -12.8,0" fill="#000"/>
<path d="M1116.0,342.1a6.4,6.4 0 1,0 12.8,0a6.4,6.4 0 1,0 -12.8,0M1119.1,340.9a6.4,6.4 0 1,0 12.8,0a6.4,6.4 0 1,0 -12.8,0M1121.4,340.1a6.4,6.4 0 1,0 12.8,0a6.4,6.4 0 1,0 -12.8,0M1122.4,335.9a6.4,6.4 0 1,0 12.8,0a6.4,6.4 0 1,0 -12.8,0M1127.4,333.3a6.4,6.4 0 1,0 12.8,0a6.4,6.4 0 1,0 -12.8,0M1128.7,333.7a6.4,6.4 0 1,0 12.8,0a6.4,6.4 0 1,0 -12.8,0M1128.1,332.7a6.4,6.4 0 1,0 12.8,0a6.4,6.4 0 1,0 -12.8,0M1134.3,330.0a6.4,6.4 0 1,0 12.8,0a6.4,6.4 0 1,0 -12.8,0M1136.0,329.1a6.4,6.4 0 1,0 12.8,0a6.4,6.4 0 1,0 -12.8,0M1135.8,326.0a6.4,6.4 0 1,0 12.8,0a6.4,6.4 0 1,0 -12.8,0" fill="#000"/>
<path d="M1135.6,311.5a6.4,6.4 0 1,0 12.8,0a6.4,6.4 0 1,0 -12.8,0M1139.5,309.9a6.4,6.4 0 1,0 12.8,0a6.4,6.4 0 1,0 -12.8,0M1141.2,308.7a6.4,6.4 0 1,0 12.8,0a6.4,6.4 0 1,0 -12.8,0M1144.2,306.4a6.4,6.4 0 1,0 12.8,0a6.4,6.4 0 1,0 -12.8,0M1144.8,301.9a6.4,6.4 0 1,0 12.8,0a6.4,6.4 0 1,0 -12.8,0M1147.0,301.9a6.4,6.4 0 1,0 12.8,0a6.4,6.4 0 1,0 -12.8,0M1149.5,302.5a6.4,6.4 0 1,0 12.8,0a6.4,6.4 0 1,0 -12.8,0M1154.1,300.1a6.4,6.4 0 1,0 12.8,0a6.4,6.4 0 1,0 -12.8,0M1157.0,298.8a6.4,6.4 0 1,0 12.8,0a6.4,6.4 0 1,0 -12.8,0M1159.0,294.3a6.4,6.4 0 1,0 12.8,0a6.4,6.4 0 1,0 -12.8,0M1162.9,296.1a6.4,6.4 0 1,0 12.8,0a6.4,6.4 0 1,0 -12.8,0" fill="#000"/>
<path d="M1158.6,290.2a6.4,6.4 0 1,0 12.8,0a6.4,6.4 0 1,0 -12.8,0M1162.0,286.7a6.4,6.4 0 1,0 12.8,0a6.4,6.4 0 1,0 -12.8,0M1165.1,286.2a6.4,6.4 0 1,0 12.8,0a6.4,6.4 0 1,0 -12.8,0M1164.9,284.9a6.4,6.4 0 1,0 12.8,0a6.4,6.4 0 1,0 -12.8,0M1170.5,283.2a6.4,6.4 0 1,0 12.8,0a6.4,6.4 0 1,0 -12.8,0M1173.3,285.3a6.4,6.4 0 1,0 12.8,0a6.4,6.4 0 1,0 -12.8,0M1174.9,281.3a6.4,6.4 0 1,0 12.8,0a6.4,6.4 0 1,0 -12.8,0M1177.6,281.3a6.4,6.4 0 1,0 12.8,0a6.4,6.4 0 1,0 -12.8,0" fill="#000"/>
<path d="M1186.8,232.5a6.4,6.4 0 1,0 12.8,0a6.4,6.4 0 1,0 -12.8,0M1188.7,228.3a6.4,6.4 0 1,0 12.8,0a6.4,6.4 0 1,0 -12.8,0M1188.9,227.2a6.4,6.4 0 1,0 12.8,0a6.4,6.4 0 1,0 -12.8,0M1194.0,225.5a6.4,6.4 0 1,0 12.8,0a6.4,6.4 0 1,0 -12.8,0M1195.6,222.4a6.4,6.4 0 1,0 12.8,0a6.4,6.4 0 1,0 -12.8,0M1195.9,221.6a6.4,6.4 0 1,0 12.8,0a6.4,6.4 0 1,0 -12.8,0" fill="#000"/>
<path d="M1199.4,245.8a6.4,6.4 0 1,0 12.8,0a6.4,6.4 0 1,0 -12.8,0M1202.0,242.6a6.4,6.4 0 1,0 12.8,0a6.4,6.4 0 1,0 -12.8,0M1203.9,241.8a6.4,6.4 0 1,0 12.8,0a6.4,6.4 0 1,0 -12.8,0M1206.3,238.8a6.4,6.4 0 1,0 12.8,0a6.4,6.4 0 1,0 -12.8,0M1210.8,237.7a6.4,6.4 0 1,0 12.8,0a6.4,6.4 0 1,0 -12.8,0M1213.7,239.4a6.4,6.4 0 1,0 12.8,0a6.4,6.4 0 1,0 -12.8,0M1212.1,235.8a6.4,6.4 0 1,0 12.8,0a6.4,6.4 0 1,0 -12.8,0M1218.3,236.6a6.4,6.4 0 1,0 12.8,0a6.4,6.4 0 1,0 -12.8,0M1219.1,231.8a6.4,6.4 0 1,0 12.8,0a6.4,6.4 0 1,0 -12.8,0M1220.2,232.6a6.4,6.4 0 1,0 12.8,0a6.4,6.4 0 1,0 -12.8,0M1222.3,228.9a6.4,6.4 0 1,0 12.8,0a6.4,6.4 0 1,0 -12.8,0M1224.2,226.5a6.4,6.4 0 1,0 12.8,0a6.4,6.4 0 1,0 -12.8,0M1229.9,222.6a6.4,6.4 0 1,0 12.8,0a6.4,6.4 0 1,0 -12.8,0M1231.4,222.1a6.4,6.4 0 1,0 12.8,0a6.4,6.4 0 1,0 -12.8,0" fill="#000"/>
<path d="M1232.8,221.9a6.4,6.4 0 1,0 12.8,0a6.4,6.4 0 1,0 -12.8,0M1231.5,225.3a6.4,6.4 0 1,0 12.8,0a6.4,6.4 0 1,0 -12.8,0M1234.2,224.0a6.4,6.4 0 1,0 12.8,0a6.4,6.4 0 1,0 -12.8,0M1233.7,228.6a6.4,6.4 0 1,0 12.8,0a6.4,6.4 0 1,0 -12.8,0M1237.3,230.3a6.4,6.4 0 1,0 12.8,0a6.4,6.4 0 1,0 -12.8,0M1237.5,233.1a6.4,6.4 0 1,0 12.8,0a6.4,6.4 0 1,0 -12.8,0M1239.9,237.8a6.4,6.4 0 1,0 12.8,0a6.4,6.4 0 1,0 -12.8,0M1240.1,240.0a6.4,6.4 0 1,0 12.8,0a6.4,6.4 0 1,0 -12.8,0M1245.4,239.7a6.4,6.4 0 1,0 12.8,0a6.4,6.4 0 1,0 -12.8,0M1247.7,244.6a6.4,6.4 0 1,0 12.8,0a6.4,6.4 0 1,0 -12.8,0M1249.5,245.1a6.4,6.4 0 1,0 12.8,0a6.4,6.4 0 1,0 -12.8,0M1249.1,247.8a6.4,6.4 0 1,0 12.8,0a6.4,6.4 0 1,0 -12.8,0M1253.8,251.0a6.4,6.4 0 1,0 12.8,0a6.4,6.4 0 1,0 -12.8,0M1252.9,252.6a6.4,6.4 0 1,0 12.8,0a6.4,6.4 0 1,0 -12.8,0M1254.5,253.2a6.4,6.4 0 1,0 12.8,0a6.4,6.4 0 1,0 -12.8,0M1255.3,259.2a6.4,6.4 0 1,0 12.8,0a6.4,6.4 0 1,0 -12.8,0M1257.7,262.3a6.4,6.4 0 1,0 12.8,0a6.4,6.4 0 1,0 -12.8,0M1259.0,262.0a6.4,6.4 0 1,0 12.8,0a6.4,6.4 0 1,0 -12.8,0M1261.6,264.3a6.4,6.4 0 1,0 12.8,0a6.4,6.4 0 1,0 -12.8,0M1262.5,270.3a6.4,6.4 0 1,0 12.8,0a6.4,6.4 0 1,0 -12.8,0M1266.3,272.2a6.4,6.4 0 1,0 12.8,0a6.4,6.4 0 1,0 -12.8,0M1266.7,275.3a6.4,6.4 0 1,0 12.8,0a6.4,6.4 0 1,0 -12.8,0" fill="#000"/>
<path d="M1300.5,445.2a6.4,6.4 0 1,0 12.8,0a6.4,6.4 0 1,0 -12.8,0M1301.3,445.5a6.4,6.4 0 1,0 12.8,0a6.4,6.4 0 1,0 -12.8,0M1303.0,449.8a6.4,6.4 0 1,0 12.8,0a6.4,6.4 0 1,0 -12.8,0M1304.8,453.2a6.4,6.4 0 1,0 12.8,0a6.4,6.4 0 1,0 -12.8,0M1304.5,453.1a6.4,6.4 0 1,0 12.8,0a6.4,6.4 0 1,0 -12.8,0M1309.0,456.0a6.4,6.4 0 1,0 12.8,0a6.4,6.4 0 1,0 -12.8,0M1308.7,459.4a6.4,6.4 0 1,0 12.8,0a6.4,6.4 0 1,0 -12.8,0M1309.6,463.7a6.4,6.4 0 1,0 12.8,0a6.4,6.4 0 1,0 -12.8,0" fill="#000"/>
<path d="M1315.7,468.9a6.4,6.4 0 1,0 12.8,0a6.4,6.4 0 1,0 -12.8,0M1316.0,471.6a6.4,6.4 0 1,0 12.8,0a6.4,6.4 0 1,0 -12.8,0M1317.2,474.6a6.4,6.4 0 1,0 12.8,0a6.4,6.4 0 1,0 -12.8,0M1317.2,476.1a6.4,6.4 0 1,0 12.8,0a6.4,6.4 0 1,0 -12.8,0M1319.1,481.9a6.4,6.4 0 1,0 12.8,0a6.4,6.4 0 1,0 -12.8,0M1322.0,481.4a6.4,6.4 0 1,0 12.8,0a6.4,6.4 0 1,0 -12.8,0M1325.5,487.3a6.4,6.4 0 1,0 12.8,0a6.4,6.4 0 1,0 -12.8,0M1325.2,486.1a6.4,6.4 0 1,0 12.8,0a6.4,6.4 0 1,0 -12.8,0M1325.7,488.4a6.4,6.4 0 1,0 12.8,0a6.4,6.4 0 1,0 -12.8,0M1328.1,490.9a6.4,6.4 0 1,0 12.8,0a6.4,6.4 0 1,0 -12.8,0" fill="#000"/>
<path d="M965.7,628.0a6.3,6.3 0 1,0 12.6,0a6.3,6.3 0 1,0 -12.6,0M997.7,582.0a6.3,6.3 0 1,0 12.6,0a6.3,6.3 0 1,0 -12.6,0M1087.7,423.5a6.3,6.3 0 1,0 12.6,0a6.3,6.3 0 1,0 -12.6,0M1093.7,387.0a6.3,6.3 0 1,0 12.6,0a6.3,6.3 0 1,0 -12.6,0M1113.7,355.0a6.3,6.3 0 1,0 12.6,0a6.3,6.3 0 1,0 -12.6,0M1176.7,270.0a6.3,6.3 0 1,0 12.6,0a6.3,6.3 0 1,0 -12.6,0M1181.7,248.5a6.3,6.3 0 1,0 12.6,0a6.3,6.3 0 1,0 -12.6,0M1193.7,213.5a6.3,6.3 0 1,0 12.6,0a6.3,6.3 0 1,0 -12.6,0M1269.7,293.5a6.3,6.3 0 1,0 12.6,0a6.3,6.3 0 1,0 -12.6,0M1276.2,312.0a6.3,6.3 0 1,0 12.6,0a6.3,6.3 0 1,0 -12.6,0M1279.7,333.5a6.3,6.3 0 1,0 12.6,0a6.3,6.3 0 1,0 -12.6,0M1287.7,355.0a6.3,6.3 0 1,0 12.6,0a6.3,6.3 0 1,0 -12.6,0M1291.2,370.0a6.3,6.3 0 1,0 12.6,0a6.3,6.3 0 1,0 -12.6,0M1296.2,405.0a6.3,6.3 0 1,0 12.6,0a6.3,6.3 0 1,0 -12.6,0M1302.7,441.0a6.3,6.3 0 1,0 12.6,0a6.3,6.3 0 1,0 -12.6,0M1333.7,532.0a6.3,6.3 0 1,0 12.6,0a6.3,6.3 0 1,0 -12.6,0M1339.7,577.0a6.3,6.3 0 1,0 12.6,0a6.3,6.3 0 1,0 -12.6,0M1346.2,605.0a6.3,6.3 0 1,0 12.6,0a6.3,6.3 0 1,0 -12.6,0M1351.7,631.0a6.3,6.3 0 1,0 12.6,0a6.3,6.3 0 1,0 -12.6,0M1357.7,654.0a6.3,6.3 0 1,0 12.6,0a6.3,6.3 0 1,0 -12.6,0M1362.7,684.0a6.3,6.3 0 1,0 12.6,0a6.3,6.3 0 1,0 -12.6,0M1367.7,720.0a6.3,6.3 0 1,0 12.6,0a6.3,6.3 0 1,0 -12.6,0M1372.7,742.5a6.3,6.3 0 1,0 12.6,0a6.3,6.3 0 1,0 -12.6,0M1379.2,762.5a6.3,6.3 0 1,0 12.6,0a6.3,6.3 0 1,0 -12.6,0M1385.7,792.5a6.3,6.3 0 1,0 12.6,0a6.3,6.3 0 1,0 -12.6,0M1390.7,822.5a6.3,6.3 0 1,0 12.6,0a6.3,6.3 0 1,0 -12.6,0M1395.7,845.0a6.3,6.3 0 1,0 12.6,0a6.3,6.3 0 1,0 -12.6,0M1402.7,866.0a6.3,6.3 0 1,0 12.6,0a6.3,6.3 0 1,0 -12.6,0M1407.7,890.0a6.3,6.3 0 1,0 12.6,0a6.3,6.3 0 1,0 -12.6,0M1414.2,904.0a6.3,6.3 0 1,0 12.6,0a6.3,6.3 0 1,0 -12.6,0M1418.7,925.0a6.3,6.3 0 1,0 12.6,0a6.3,6.3 0 1,0 -12.6,0M1441.7,990.0a6.3,6.3 0 1,0 12.6,0a6.3,6.3 0 1,0 -12.6,0M1454.2,1015.0a6.3,6.3 0 1,0 12.6,0a6.3,6.3 0 1,0 -12.6,0M1459.2,1025.0a6.3,6.3 0 1,0 12.6,0a6.3,6.3 0 1,0 -12.6,0" fill="#000"/>
<path d="M285.1,983.6a6.4,6.4 0 1,0 12.8,0a6.4,6.4 0 1,0 -12.8,0M287.7,985.9a6.4,6.4 0 1,0 12.8,0a6.4,6.4 0 1,0 -12.8,0M290.3,988.2a6.4,6.4 0 1,0 12.8,0a6.4,6.4 0 1,0 -12.8,0M292.9,986.3a6.4,6.4 0 1,0 12.8,0a6.4,6.4 0 1,0 -12.8,0M295.5,982.6a6.4,6.4 0 1,0 12.8,0a6.4,6.4 0 1,0 -12.8,0M298.1,982.0a6.4,6.4 0 1,0 12.8,0a6.4,6.4 0 1,0 -12.8,0M300.7,982.5a6.4,6.4 0 1,0 12.8,0a6.4,6.4 0 1,0 -12.8,0M303.3,980.8a6.4,6.4 0 1,0 12.8,0a6.4,6.4 0 1,0 -12.8,0M305.9,980.2a6.4,6.4 0 1,0 12.8,0a6.4,6.4 0 1,0 -12.8,0M308.5,977.5a6.4,6.4 0 1,0 12.8,0a6.4,6.4 0 1,0 -12.8,0M311.1,979.4a6.4,6.4 0 1,0 12.8,0a6.4,6.4 0 1,0 -12.8,0M313.7,985.8a6.4,6.4 0 1,0 12.8,0a6.4,6.4 0 1,0 -12.8,0M316.3,978.2a6.4,6.4 0 1,0 12.8,0a6.4,6.4 0 1,0 -12.8,0M318.9,981.8a6.4,6.4 0 1,0 12.8,0a6.4,6.4 0 1,0 -12.8,0M321.5,983.1a6.4,6.4 0 1,0 12.8,0a6.4,6.4 0 1,0 -12.8,0M324.1,985.4a6.4,6.4 0 1,0 12.8,0a6.4,6.4 0 1,0 -12.8,0M326.7,979.5a6.4,6.4 0 1,0 12.8,0a6.4,6.4 0 1,0 -12.8,0M329.3,979.9a6.4,6.4 0 1,0 12.8,0a6.4,6.4 0 1,0 -12.8,0M331.9,979.5a6.4,6.4 0 1,0 12.8,0a6.4,6.4 0 1,0 -12.8,0M334.5,980.6a6.4,6.4 0 1,0 12.8,0a6.4,6.4 0 1,0 -12.8,0M337.1,980.7a6.4,6.4 0 1,0 12.8,0a6.4,6.4 0 1,0 -12.8,0M339.7,984.8a6.4,6.4 0 1,0 12.8,0a6.4,6.4 0 1,0 -12.8,0M342.3,983.2a6.4,6.4 0 1,0 12.8,0a6.4,6.4 0 1,0 -12.8,0M344.9,982.8a6.4,6.4 0 1,0 12.8,0a6.4,6.4 0 1,0 -12.8,0M347.5,974.2a6.4,6.4 0 1,0 12.8,0a6.4,6.4 0 1,0 -12.8,0M350.1,973.6a6.4,6.4 0 1,0 12.8,0a6.4,6.4 0 1,0 -12.8,0M352.7,979.2a6.4,6.4 0 1,0 12.8,0a6.4,6.4 0 1,0 -12.8,0M355.3,980.3a6.4,6.4 0 1,0 12.8,0a6.4,6.4 0 1,0 -12.8,0M357.9,975.8a6.4,6.4 0 1,0 12.8,0a6.4,6.4 0 1,0 -12.8,0M360.5,976.5a6.4,6.4 0 1,0 12.8,0a6.4,6.4 0 1,0 -12.8,0M363.1,970.8a6.4,6.4 0 1,0 12.8,0a6.4,6.4 0 1,0 -12.8,0M365.7,974.2a6.4,6.4 0 1,0 12.8,0a6.4,6.4 0 1,0 -12.8,0M368.3,979.0a6.4,6.4 0 1,0 12.8,0a6.4,6.4 0 1,0 -12.8,0M370.9,978.1a6.4,6.4 0 1,0 12.8,0a6.4,6.4 0 1,0 -12.8,0M373.5,978.4a6.4,6.4 0 1,0 12.8,0a6.4,6.4 0 1,0 -12.8,0M376.1,979.6a6.4,6.4 0 1,0 12.8,0a6.4,6.4 0 1,0 -12.8,0M378.7,972.9a6.4,6.4 0 1,0 12.8,0a6.4,6.4 0 1,0 -12.8,0M381.3,971.6a6.4,6.4 0 1,0 12.8,0a6.4,6.4 0 1,0 -12.8,0M383.9,972.0a6.4,6.4 0 1,0 12.8,0a6.4,6.4 0 1,0 -12.8,0M386.5,975.2a6.4,6.4 0 1,0 12.8,0a6.4,6.4 0 1,0 -12.8,0M389.1,976.3a6.4,6.4 0 1,0 12.8,0a6.4,6.4 0 1,0 -12.8,0M391.7,978.3a6.4,6.4 0 1,0 12.8,0a6.4,6.4 0 1,0 -12.8,0M394.3,975.8a6.4,6.4 0 1,0 12.8,0a6.4,6.4 0 1,0 -12.8,0M396.9,974.5a6.4,6.4 0 1,0 12.8,0a6.4,6.4 0 1,0 -12.8,0M399.5,974.8a6.4,6.4 0 1,0 12.8,0a6.4,6.4 0 1,0 -12.8,0M402.1,971.3a6.4,6.4 0 1,0 12.8,0a6.4,6.4 0 1,0 -12.8,0M404.7,971.3a6.4,6.4 0 1,0 12.8,0a6.4,6.4 0 1,0 -12.8,0M407.3,965.8a6.4,6.4 0 1,0 12.8,0a6.4,6.4 0 1,0 -12.8,0M409.9,971.9a6.4,6.4 0 1,0 12.8,0a6.4,6.4 0 1,0 -12.8,0M412.5,966.2a6.4,6.4 0 1,0 12.8,0a6.4,6.4 0 1,0 -12.8,0M415.1,971.9a6.4,6.4 0 1,0 12.8,0a6.4,6.4 0 1,0 -12.8,0M417.7,968.9a6.4,6.4 0 1,0 12.8,0a6.4,6.4 0 1,0 -12.8,0M420.3,965.4a6.4,6.4 0 1,0 12.8,0a6.4,6.4 0 1,0 -12.8,0M422.9,963.6a6.4,6.4 0 1,0 12.8,0a6.4,6.4 0 1,0 -12.8,0M425.5,964.6a6.4,6.4 0 1,0 12.8,0a6.4,6.4 0 1,0 -12.8,0M428.1,968.0a6.4,6.4 0 1,0 12.8,0a6.4,6.4 0 1,0 -12.8,0M430.7,968.6a6.4,6.4 0 1,0 12.8,0a6.4,6.4 0 1,0 -12.8,0M433.3,963.3a6.4,6.4 0 1,0 12.8,0a6.4,6.4 0 1,0 -12.8,0M435.9,963.0a6.4,6.4 0 1,0 12.8,0a6.4,6.4 0 1,0 -12.8,0M438.5,967.2a6.4,6.4 0 1,0 12.8,0a6.4,6.4 0 1,0 -12.8,0M441.1,967.7a6.4,6.4 0 1,0 12.8,0a6.4,6.4 0 1,0 -12.8,0M443.7,965.7a6.4,6.4 0 1,0 12.8,0a6.4,6.4 0 1,0 -12.8,0M446.3,963.9a6.4,6.4 0 1,0 12.8,0a6.4,6.4 0 1,0 -12.8,0M448.9,967.0a6.4,6.4 0 1,0 12.8,0a6.4,6.4 0 1,0 -12.8,0M451.5,961.1a6.4,6.4 0 1,0 12.8,0a6.4,6.4 0 1,0 -12.8,0M454.1,963.2a6.4,6.4 0 1,0 12.8,0a6.4,6.4 0 1,0 -12.8,0M456.7,964.0a6.4,6.4 0 1,0 12.8,0a6.4,6.4 0 1,0 -12.8,0M459.3,967.8a6.4,6.4 0 1,0 12.8,0a6.4,6.4 0 1,0 -12.8,0M461.9,964.2a6.4,6.4 0 1,0 12.8,0a6.4,6.4 0 1,0 -12.8,0M464.5,965.7a6.4,6.4 0 1,0 12.8,0a6.4,6.4 0 1,0 -12.8,0M467.1,961.2a6.4,6.4 0 1,0 12.8,0a6.4,6.4 0 1,0 -12.8,0M469.7,958.4a6.4,6.4 0 1,0 12.8,0a6.4,6.4 0 1,0 -12.8,0M472.3,958.0a6.4,6.4 0 1,0 12.8,0a6.4,6.4 0 1,0 -12.8,0M474.9,964.2a6.4,6.4 0 1,0 12.8,0a6.4,6.4 0 1,0 -12.8,0M477.5,961.6a6.4,6.4 0 1,0 12.8,0a6.4,6.4 0 1,0 -12.8,0M480.1,957.8a6.4,6.4 0 1,0 12.8,0a6.4,6.4 0 1,0 -12.8,0M482.7,955.1a6.4,6.4 0 1,0 12.8,0a6.4,6.4 0 1,0 -12.8,0M485.3,959.6a6.4,6.4 0 1,0 12.8,0a6.4,6.4 0 1,0 -12.8,0M487.9,961.3a6.4,6.4 0 1,0 12.8,0a6.4,6.4 0 1,0 -12.8,0M490.5,959.1a6.4,6.4 0 1,0 12.8,0a6.4,6.4 0 1,0 -12.8,0M493.1,957.7a6.4,6.4 0 1,0 12.8,0a6.4,6.4 0 1,0 -12.8,0M495.7,961.5a6.4,6.4 0 1,0 12.8,0a6.4,6.4 0 1,0 -12.8,0M498.3,963.8a6.4,6.4 0 1,0 12.8,0a6.4,6.4 0 1,0 -12.8,0M500.9,957.3a6.4,6.4 0 1,0 12.8,0a6.4,6.4 0 1,0 -12.8,0M503.5,955.3a6.4,6.4 0 1,0 12.8,0a6.4,6.4 0 1,0 -12.8,0M506.1,957.7a6.4,6.4 0 1,0 12.8,0a6.4,6.4 0 1,0 -12.8,0M508.7,958.0a6.4,6.4 0 1,0 12.8,0a6.4,6.4 0 1,0 -12.8,0M511.3,959.8a6.4,6.4 0 1,0 12.8,0a6.4,6.4 0 1,0 -12.8,0M513.9,954.7a6.4,6.4 0 1,0 12.8,0a6.4,6.4 0 1,0 -12.8,0M516.5,959.6a6.4,6.4 0 1,0 12.8,0a6.4,6.4 0 1,0 -12.8,0M519.1,958.4a6.4,6.4 0 1,0 12.8,0a6.4,6.4 0 1,0 -12.8,0M521.7,955.5a6.4,6.4 0 1,0 12.8,0a6.4,6.4 0 1,0 -12.8,0M524.3,952.2a6.4,6.4 0 1,0 12.8,0a6.4,6.4 0 1,0 -12.8,0M526.9,958.7a6.4,6.4 0 1,0 12.8,0a6.4,6.4 0 1,0 -12.8,0M529.5,952.0a6.4,6.4 0 1,0 12.8,0a6.4,6.4 0 1,0 -12.8,0M532.1,956.0a6.4,6.4 0 1,0 12.8,0a6.4,6.4 0 1,0 -12.8,0M534.7,950.1a6.4,6.4 0 1,0 12.8,0a6.4,6.4 0 1,0 -12.8,0M537.3,949.6a6.4,6.4 0 1,0 12.8,0a6.4,6.4 0 1,0 -12.8,0M539.9,954.2a6.4,6.4 0 1,0 12.8,0a6.4,6.4 0 1,0 -12.8,0M542.5,949.7a6.4,6.4 0 1,0 12.8,0a6.4,6.4 0 1,0 -12.8,0M545.1,955.5a6.4,6.4 0 1,0 12.8,0a6.4,6.4 0 1,0 -12.8,0M547.7,951.1a6.4,6.4 0 1,0 12.8,0a6.4,6.4 0 1,0 -12.8,0M550.3,947.9a6.4,6.4 0 1,0 12.8,0a6.4,6.4 0 1,0 -12.8,0M552.9,947.9a6.4,6.4 0 1,0 12.8,0a6.4,6.4 0 1,0 -12.8,0M555.5,949.3a6.4,6.4 0 1,0 12.8,0a6.4,6.4 0 1,0 -12.8,0M558.1,951.1a6.4,6.4 0 1,0 12.8,0a6.4,6.4 0 1,0 -12.8,0M560.7,953.0a6.4,6.4 0 1,0 12.8,0a6.4,6.4 0 1,0 -12.8,0M563.3,944.9a6.4,6.4 0 1,0 12.8,0a6.4,6.4 0 1,0 -12.8,0M565.9,946.3a6.4,6.4 0 1,0 12.8,0a6.4,6.4 0 1,0 -12.8,0M568.5,943.7a6.4,6.4 0 1,0 12.8,0a6.4,6.4 0 1,0 -12.8,0M571.1,949.7a6.4,6.4 0 1,0 12.8,0a6.4,6.4 0 1,0 -12.8,0M573.7,941.0a6.4,6.4 0 1,0 12.8,0a6.4,6.4 0 1,0 -12.8,0M576.3,939.5a6.4,6.4 0 1,0 12.8,0a6.4,6.4 0 1,0 -12.8,0M578.9,939.2a6.4,6.4 0 1,0 12.8,0a6.4,6.4 0 1,0 -12.8,0M581.5,942.0a6.4,6.4 0 1,0 12.8,0a6.4,6.4 0 1,0 -12.8,0M584.1,946.4a6.4,6.4 0 1,0 12.8,0a6.4,6.4 0 1,0 -12.8,0M586.7,946.1a6.4,6.4 0 1,0 12.8,0a6.4,6.4 0 1,0 -12.8,0M589.3,944.8a6.4,6.4 0 1,0 12.8,0a6.4,6.4 0 1,0 -12.8,0M591.9,947.3a6.4,6.4 0 1,0 12.8,0a6.4,6.4 0 1,0 -12.8,0M594.5,946.9a6.4,6.4 0 1,0 12.8,0a6.4,6.4 0 1,0 -12.8,0M597.1,941.5a6.4,6.4 0 1,0 12.8,0a6.4,6.4 0 1,0 -12.8,0M599.7,939.7a6.4,6.4 0 1,0 12.8,0a6.4,6.4 0 1,0 -12.8,0M602.3,946.2a6.4,6.4 0 1,0 12.8,0a6.4,6.4 0 1,0 -12.8,0M604.9,944.1a6.4,6.4 0 1,0 12.8,0a6.4,6.4 0 1,0 -12.8,0M607.5,937.0a6.4,6.4 0 1,0 12.8,0a6.4,6.4 0 1,0 -12.8,0M610.1,942.3a6.4,6.4 0 1,0 12.8,0a6.4,6.4 0 1,0 -12.8,0M612.7,939.1a6.4,6.4 0 1,0 12.8,0a6.4,6.4 0 1,0 -12.8,0M615.3,938.3a6.4,6.4 0 1,0 12.8,0a6.4,6.4 0 1,0 -12.8,0M617.9,937.1a6.4,6.4 0 1,0 12.8,0a6.4,6.4 0 1,0 -12.8,0M620.5,934.9a6.4,6.4 0 1,0 12.8,0a6.4,6.4 0 1,0 -12.8,0M623.1,932.6a6.4,6.4 0 1,0 12.8,0a6.4,6.4 0 1,0 -12.8,0M625.7,934.4a6.4,6.4 0 1,0 12.8,0a6.4,6.4 0 1,0 -12.8,0M628.3,934.2a6.4,6.4 0 1,0 12.8,0a6.4,6.4 0 1,0 -12.8,0M630.9,938.9a6.4,6.4 0 1,0 12.8,0a6.4,6.4 0 1,0 -12.8,0M633.5,930.4a6.4,6.4 0 1,0 12.8,0a6.4,6.4 0 1,0 -12.8,0M636.1,937.3a6.4,6.4 0 1,0 12.8,0a6.4,6.4 0 1,0 -12.8,0M638.7,929.5a6.4,6.4 0 1,0 12.8,0a6.4,6.4 0 1,0 -12.8,0M641.3,930.5a6.4,6.4 0 1,0 12.8,0a6.4,6.4 0 1,0 -12.8,0M643.9,935.2a6.4,6.4 0 1,0 12.8,0a6.4,6.4 0 1,0 -12.8,0M646.5,935.8a6.4,6.4 0 1,0 12.8,0a6.4,6.4 0 1,0 -12.8,0M649.1,932.9a6.4,6.4 0 1,0 12.8,0a6.4,6.4 0 1,0 -12.8,0M651.7,930.1a6.4,6.4 0 1,0 12.8,0a6.4,6.4 0 1,0 -12.8,0M654.3,934.8a6.4,6.4 0 1,0 12.8,0a6.4,6.4 0 1,0 -12.8,0M656.9,934.2a6.4,6.4 0 1,0 12.8,0a6.4,6.4 0 1,0 -12.8,0M659.5,938.8a6.4,6.4 0 1,0 12.8,0a6.4,6.4 0 1,0 -12.8,0M662.1,931.7a6.4,6.4 0 1,0 12.8,0a6.4,6.4 0 1,0 -12.8,0M664.7,932.8a6.4,6.4 0 1,0 12.8,0a6.4,6.4 0 1,0 -12.8,0M667.3,937.2a6.4,6.4 0 1,0 12.8,0a6.4,6.4 0 1,0 -12.8,0M669.9,928.6a6.4,6.4 0 1,0 12.8,0a6.4,6.4 0 1,0 -12.8,0M672.5,931.3a6.4,6.4 0 1,0 12.8,0a6.4,6.4 0 1,0 -12.8,0M675.1,934.2a6.4,6.4 0 1,0 12.8,0a6.4,6.4 0 1,0 -12.8,0M677.7,932.8a6.4,6.4 0 1,0 12.8,0a6.4,6.4 0 1,0 -12.8,0M680.3,925.1a6.4,6.4 0 1,0 12.8,0a6.4,6.4 0 1,0 -12.8,0M682.9,923.9a6.4,6.4 0 1,0 12.8,0a6.4,6.4 0 1,0 -12.8,0M685.5,922.9a6.4,6.4 0 1,0 12.8,0a6.4,6.4 0 1,0 -12.8,0M688.1,929.3a6.4,6.4 0 1,0 12.8,0a6.4,6.4 0 1,0 -12.8,0M690.7,921.9a6.4,6.4 0 1,0 12.8,0a6.4,6.4 0 1,0 -12.8,0M693.3,925.0a6.4,6.4 0 1,0 12.8,0a6.4,6.4 0 1,0 -12.8,0M695.9,925.1a6.4,6.4 0 1,0 12.8,0a6.4,6.4 0 1,0 -12.8,0M698.5,918.8a6.4,6.4 0 1,0 12.8,0a6.4,6.4 0 1,0 -12.8,0M701.1,917.2a6.4,6.4 0 1,0 12.8,0a6.4,6.4 0 1,0 -12.8,0M703.7,922.5a6.4,6.4 0 1,0 12.8,0a6.4,6.4 0 1,0 -12.8,0M706.3,918.6a6.4,6.4 0 1,0 12.8,0a6.4,6.4 0 1,0 -12.8,0M708.9,914.6a6.4,6.4 0 1,0 12.8,0a6.4,6.4 0 1,0 -12.8,0M711.5,918.3a6.4,6.4 0 1,0 12.8,0a6.4,6.4 0 1,0 -12.8,0M714.1,914.7a6.4,6.4 0 1,0 12.8,0a6.4,6.4 0 1,0 -12.8,0M716.7,914.5a6.4,6.4 0 1,0 12.8,0a6.4,6.4 0 1,0 -12.8,0M719.3,912.1a6.4,6.4 0 1,0 12.8,0a6.4,6.4 0 1,0 -12.8,0M721.9,919.0a6.4,6.4 0 1,0 12.8,0a6.4,6.4 0 1,0 -12.8,0M724.5,920.5a6.4,6.4 0 1,0 12.8,0a6.4,6.4 0 1,0 -12.8,0M727.1,917.8a6.4,6.4 0 1,0 12.8,0a6.4,6.4 0 1,0 -12.8,0M729.7,920.7a6.4,6.4 0 1,0 12.8,0a6.4,6.4 0 1,0 -12.8,0M732.3,912.7a6.4,6.4 0 1,0 12.8,0a6.4,6.4 0 1,0 -12.8,0M734.9,915.0a6.4,6.4 0 1,0 12.8,0a6.4,6.4 0 1,0 -12.8,0M737.5,917.4a6.4,6.4 0 1,0 12.8,0a6.4,6.4 0 1,0 -12.8,0M740.1,922.0a6.4,6.4 0 1,0 12.8,0a6.4,6.4 0 1,0 -12.8,0M742.7,922.1a6.4,6.4 0 1,0 12.8,0a6.4,6.4 0 1,0 -12.8,0M745.3,915.9a6.4,6.4 0 1,0 12.8,0a6.4,6.4 0 1,0 -12.8,0M747.9,913.2a6.4,6.4 0 1,0 12.8,0a6.4,6.4 0 1,0 -12.8,0M750.5,913.4a6.4,6.4 0 1,0 12.8,0a6.4,6.4 0 1,0 -12.8,0M753.1,912.6a6.4,6.4 0 1,0 12.8,0a6.4,6.4 0 1,0 -12.8,0M755.7,915.4a6.4,6.4 0 1,0 12.8,0a6.4,6.4 0 1,0 -12.8,0M758.3,907.6a6.4,6.4 0 1,0 12.8,0a6.4,6.4 0 1,0 -12.8,0M760.9,912.9a6.4,6.4 0 1,0 12.8,0a6.4,6.4 0 1,0 -12.8,0M763.5,912.0a6.4,6.4 0 1,0 12.8,0a6.4,6.4 0 1,0 -12.8,0M766.1,912.6a6.4,6.4 0 1,0 12.8,0a6.4,6.4 0 1,0 -12.8,0M768.7,912.0a6.4,6.4 0 1,0 12.8,0a6.4,6.4 0 1,0 -12.8,0M771.3,910.3a6.4,6.4 0 1,0 12.8,0a6.4,6.4 0 1,0 -12.8,0M773.9,907.6a6.4,6.4 0 1,0 12.8,0a6.4,6.4 0 1,0 -12.8,0M776.5,906.8a6.4,6.4 0 1,0 12.8,0a6.4,6.4 0 1,0 -12.8,0M779.1,906.4a6.4,6.4 0 1,0 12.8,0a6.4,6.4 0 1,0 -12.8,0M781.7,909.4a6.4,6.4 0 1,0 12.8,0a6.4,6.4 0 1,0 -12.8,0M784.3,902.0a6.4,6.4 0 1,0 12.8,0a6.4,6.4 0 1,0 -12.8,0M786.9,902.0a6.4,6.4 0 1,0 12.8,0a6.4,6.4 0 1,0 -12.8,0M789.5,905.9a6.4,6.4 0 1,0 12.8,0a6.4,6.4 0 1,0 -12.8,0M792.1,900.0a6.4,6.4 0 1,0 12.8,0a6.4,6.4 0 1,0 -12.8,0M794.7,896.9a6.4,6.4 0 1,0 12.8,0a6.4,6.4 0 1,0 -12.8,0M797.3,895.2a6.4,6.4 0 1,0 12.8,0a6.4,6.4 0 1,0 -12.8,0M799.9,898.5a6.4,6.4 0 1,0 12.8,0a6.4,6.4 0 1,0 -12.8,0M802.5,894.9a6.4,6.4 0 1,0 12.8,0a6.4,6.4 0 1,0 -12.8,0M805.1,899.4a6.4,6.4 0 1,0 12.8,0a6.4,6.4 0 1,0 -12.8,0M807.7,896.6a6.4,6.4 0 1,0 12.8,0a6.4,6.4 0 1,0 -12.8,0M810.3,895.8a6.4,6.4 0 1,0 12.8,0a6.4,6.4 0 1,0 -12.8,0M812.9,887.5a6.4,6.4 0 1,0 12.8,0a6.4,6.4 0 1,0 -12.8,0M815.5,884.2a6.4,6.4 0 1,0 12.8,0a6.4,6.4 0 1,0 -12.8,0M818.1,882.9a6.4,6.4 0 1,0 12.8,0a6.4,6.4 0 1,0 -12.8,0M820.7,885.3a6.4,6.4 0 1,0 12.8,0a6.4,6.4 0 1,0 -12.8,0M823.3,886.0a6.4,6.4 0 1,0 12.8,0a6.4,6.4 0 1,0 -12.8,0M825.9,882.4a6.4,6.4 0 1,0 12.8,0a6.4,6.4 0 1,0 -12.8,0M828.5,879.2a6.4,6.4 0 1,0 12.8,0a6.4,6.4 0 1,0 -12.8,0M831.1,880.3a6.4,6.4 0 1,0 12.8,0a6.4,6.4 0 1,0 -12.8,0M833.7,882.0a6.4,6.4 0 1,0 12.8,0a6.4,6.4 0 1,0 -12.8,0M836.3,882.2a6.4,6.4 0 1,0 12.8,0a6.4,6.4 0 1,0 -12.8,0M838.9,882.5a6.4,6.4 0 1,0 12.8,0a6.4,6.4 0 1,0 -12.8,0M841.5,882.9a6.4,6.4 0 1,0 12.8,0a6.4,6.4 0 1,0 -12.8,0M844.1,880.6a6.4,6.4 0 1,0 12.8,0a6.4,6.4 0 1,0 -12.8,0M846.7,874.9a6.4,6.4 0 1,0 12.8,0a6.4,6.4 0 1,0 -12.8,0M849.3,880.7a6.4,6.4 0 1,0 12.8,0a6.4,6.4 0 1,0 -12.8,0M851.9,874.7a6.4,6.4 0 1,0 12.8,0a6.4,6.4 0 1,0 -12.8,0M854.5,876.3a6.4,6.4 0 1,0 12.8,0a6.4,6.4 0 1,0 -12.8,0M857.1,873.5a6.4,6.4 0 1,0 12.8,0a6.4,6.4 0 1,0 -12.8,0M859.7,875.9a6.4,6.4 0 1,0 12.8,0a6.4,6.4 0 1,0 -12.8,0M862.3,870.0a6.4,6.4 0 1,0 12.8,0a6.4,6.4 0 1,0 -12.8,0M864.9,869.6a6.4,6.4 0 1,0 12.8,0a6.4,6.4 0 1,0 -12.8,0M867.5,868.5a6.4,6.4 0 1,0 12.8,0a6.4,6.4 0 1,0 -12.8,0M870.1,865.3a6.4,6.4 0 1,0 12.8,0a6.4,6.4 0 1,0 -12.8,0M872.7,869.9a6.4,6.4 0 1,0 12.8,0a6.4,6.4 0 1,0 -12.8,0M875.3,865.0a6.4,6.4 0 1,0 12.8,0a6.4,6.4 0 1,0 -12.8,0M877.9,860.7a6.4,6.4 0 1,0 12.8,0a6.4,6.4 0 1,0 -12.8,0M880.5,859.4a6.4,6.4 0 1,0 12.8,0a6.4,6.4 0 1,0 -12.8,0M883.1,863.0a6.4,6.4 0 1,0 12.8,0a6.4,6.4 0 1,0 -12.8,0M885.7,857.0a6.4,6.4 0 1,0 12.8,0a6.4,6.4 0 1,0 -12.8,0M888.3,853.1a6.4,6.4 0 1,0 12.8,0a6.4,6.4 0 1,0 -12.8,0M890.9,857.0a6.4,6.4 0 1,0 12.8,0a6.4,6.4 0 1,0 -12.8,0M893.5,854.2a6.4,6.4 0 1,0 12.8,0a6.4,6.4 0 1,0 -12.8,0M896.1,855.7a6.4,6.4 0 1,0 12.8,0a6.4,6.4 0 1,0 -12.8,0M898.7,845.9a6.4,6.4 0 1,0 12.8,0a6.4,6.4 0 1,0 -12.8,0M901.3,847.6a6.4,6.4 0 1,0 12.8,0a6.4,6.4 0 1,0 -12.8,0M903.9,848.9a6.4,6.4 0 1,0 12.8,0a6.4,6.4 0 1,0 -12.8,0M906.5,847.1a6.4,6.4 0 1,0 12.8,0a6.4,6.4 0 1,0 -12.8,0M909.1,845.7a6.4,6.4 0 1,0 12.8,0a6.4,6.4 0 1,0 -12.8,0M911.7,835.6a6.4,6.4 0 1,0 12.8,0a6.4,6.4 0 1,0 -12.8,0M914.3,835.8a6.4,6.4 0 1,0 12.8,0a6.4,6.4 0 1,0 -12.8,0M916.9,832.1a6.4,6.4 0 1,0 12.8,0a6.4,6.4 0 1,0 -12.8,0M919.5,831.2a6.4,6.4 0 1,0 12.8,0a6.4,6.4 0 1,0 -12.8,0M922.1,837.0a6.4,6.4 0 1,0 12.8,0a6.4,6.4 0 1,0 -12.8,0M924.7,832.2a6.4,6.4 0 1,0 12.8,0a6.4,6.4 0 1,0 -12.8,0M927.3,834.2a6.4,6.4 0 1,0 12.8,0a6.4,6.4 0 1,0 -12.8,0M929.9,828.0a6.4,6.4 0 1,0 12.8,0a6.4,6.4 0 1,0 -12.8,0M932.5,831.6a6.4,6.4 0 1,0 12.8,0a6.4,6.4 0 1,0 -12.8,0M935.1,826.9a6.4,6.4 0 1,0 12.8,0a6.4,6.4 0 1,0 -12.8,0M937.7,824.4a6.4,6.4 0 1,0 12.8,0a6.4,6.4 0 1,0 -12.8,0M940.3,828.5a6.4,6.4 0 1,0 12.8,0a6.4,6.4 0 1,0 -12.8,0M942.9,829.3a6.4,6.4 0 1,0 12.8,0a6.4,6.4 0 1,0 -12.8,0M945.5,820.9a6.4,6.4 0 1,0 12.8,0a6.4,6.4 0 1,0 -12.8,0M948.1,824.6a6.4,6.4 0 1,0 12.8,0a6.4,6.4 0 1,0 -12.8,0M950.7,824.0a6.4,6.4 0 1,0 12.8,0a6.4,6.4 0 1,0 -12.8,0M953.3,819.3a6.4,6.4 0 1,0 12.8,0a6.4,6.4 0 1,0 -12.8,0M955.9,819.8a6.4,6.4 0 1,0 12.8,0a6.4,6.4 0 1,0 -12.8,0M958.5,816.9a6.4,6.4 0 1,0 12.8,0a6.4,6.4 0 1,0 -12.8,0M961.1,816.6a6.4,6.4 0 1,0 12.8,0a6.4,6.4 0 1,0 -12.8,0" fill="#ff0000"/>
<path d="M962.6,799.4a6.4,6.4 0 1,0 12.8,0a6.4,6.4 0 1,0 -12.8,0M965.2,798.7a6.4,6.4 0 1,0 12.8,0a6.4,6.4 0 1,0 -12.8,0M967.8,794.0a6.4,6.4 0 1,0 12.8,0a6.4,6.4 0 1,0 -12.8,0M970.4,791.3a6.4,6.4 0 1,0 12.8,0a6.4,6.4 0 1,0 -12.8,0M973.0,792.7a6.4,6.4 0 1,0 12.8,0a6.4,6.4 0 1,0 -12.8,0M975.6,794.4a6.4,6.4 0 1,0 12.8,0a6.4,6.4 0 1,0 -12.8,0M978.2,789.4a6.4,6.4 0 1,0 12.8,0a6.4,6.4 0 1,0 -12.8,0M980.8,789.4a6.4,6.4 0 1,0 12.8,0a6.4,6.4 0 1,0 -12.8,0M983.4,787.6a6.4,6.4 0 1,0 12.8,0a6.4,6.4 0 1,0 -12.8,0M986.0,791.6a6.4,6.4 0 1,0 12.8,0a6.4,6.4 0 1,0 -12.8,0M988.6,787.3a6.4,6.4 0 1,0 12.8,0a6.4,6.4 0 1,0 -12.8,0M991.2,781.0a6.4,6.4 0 1,0 12.8,0a6.4,6.4 0 1,0 -12.8,0M993.8,779.0a6.4,6.4 0 1,0 12.8,0a6.4,6.4 0 1,0 -12.8,0M996.4,779.0a6.4,6.4 0 1,0 12.8,0a6.4,6.4 0 1,0 -12.8,0M999.0,777.9a6.4,6.4 0 1,0 12.8,0a6.4,6.4 0 1,0 -12.8,0M1001.6,776.2a6.4,6.4 0 1,0 12.8,0a6.4,6.4 0 1,0 -12.8,0M1004.2,769.0a6.4,6.4 0 1,0 12.8,0a6.4,6.4 0 1,0 -12.8,0M1006.8,766.6a6.4,6.4 0 1,0 12.8,0a6.4,6.4 0 1,0 -12.8,0M1009.4,767.8a6.4,6.4 0 1,0 12.8,0a6.4,6.4 0 1,0 -12.8,0M1012.0,762.4a6.4,6.4 0 1,0 12.8,0a6.4,6.4 0 1,0 -12.8,0M1014.6,758.2a6.4,6.4 0 1,0 12.8,0a6.4,6.4 0 1,0 -12.8,0M1017.2,755.1a6.4,6.4 0 1,0 12.8,0a6.4,6.4 0 1,0 -12.8,0M1019.8,756.8a6.4,6.4 0 1,0 12.8,0a6.4,6.4 0 1,0 -12.8,0M1022.4,748.2a6.4,6.4 0 1,0 12.8,0a6.4,6.4 0 1,0 -12.8,0M1025.0,746.6a6.4,6.4 0 1,0 12.8,0a6.4,6.4 0 1,0 -12.8,0M1027.6,741.4a6.4,6.4 0 1,0 12.8,0a6.4,6.4 0 1,0 -12.8,0M1030.2,738.3a6.4,6.4 0 1,0 12.8,0a6.4,6.4 0 1,0 -12.8,0M1032.8,738.4a6.4,6.4 0 1,0 12.8,0a6.4,6.4 0 1,0 -12.8,0M1035.4,736.7a6.4,6.4 0 1,0 12.8,0a6.4,6.4 0 1,0 -12.8,0M1038.0,730.5a6.4,6.4 0 1,0 12.8,0a6.4,6.4 0 1,0 -12.8,0M1040.6,728.0a6.4,6.4 0 1,0 12.8,0a6.4,6.4 0 1,0 -12.8,0M1043.2,731.2a6.4,6.4 0 1,0 12.8,0a6.4,6.4 0 1,0 -12.8,0M1045.8,726.0a6.4,6.4 0 1,0 12.8,0a6.4,6.4 0 1,0 -12.8,0M1048.4,723.6a6.4,6.4 0 1,0 12.8,0a6.4,6.4 0 1,0 -12.8,0M1051.0,729.9a6.4,6.4 0 1,0 12.8,0a6.4,6.4 0 1,0 -12.8,0M1053.6,725.2a6.4,6.4 0 1,0 12.8,0a6.4,6.4 0 1,0 -12.8,0M1056.2,727.5a6.4,6.4 0 1,0 12.8,0a6.4,6.4 0 1,0 -12.8,0M1058.8,723.4a6.4,6.4 0 1,0 12.8,0a6.4,6.4 0 1,0 -12.8,0M1061.4,726.3a6.4,6.4 0 1,0 12.8,0a6.4,6.4 0 1,0 -12.8,0M1064.0,721.9a6.4,6.4 0 1,0 12.8,0a6.4,6.4 0 1,0 -12.8,0M1066.6,718.5a6.4,6.4 0 1,0 12.8,0a6.4,6.4 0 1,0 -12.8,0" fill="#ff0000"/>
<path d="M1076.7,698.7a6.2,6.2 0 1,0 12.4,0a6.2,6.2 0 1,0 -12.4,0M1080.7,697.5a6.2,6.2 0 1,0 12.4,0a6.2,6.2 0 1,0 -12.4,0M1079.5,693.5a6.2,6.2 0 1,0 12.4,0a6.2,6.2 0 1,0 -12.4,0M1082.0,690.1a6.2,6.2 0 1,0 12.4,0a6.2,6.2 0 1,0 -12.4,0M1082.3,686.4a6.2,6.2 0 1,0 12.4,0a6.2,6.2 0 1,0 -12.4,0M1085.2,686.4a6.2,6.2 0 1,0 12.4,0a6.2,6.2 0 1,0 -12.4,0M1084.6,681.7a6.2,6.2 0 1,0 12.4,0a6.2,6.2 0 1,0 -12.4,0M1088.9,681.0a6.2,6.2 0 1,0 12.4,0a6.2,6.2 0 1,0 -12.4,0M1087.6,674.5a6.2,6.2 0 1,0 12.4,0a6.2,6.2 0 1,0 -12.4,0M1092.2,675.5a6.2,6.2 0 1,0 12.4,0a6.2,6.2 0 1,0 -12.4,0M1091.5,668.7a6.2,6.2 0 1,0 12.4,0a6.2,6.2 0 1,0 -12.4,0M1094.8,667.4a6.2,6.2 0 1,0 12.4,0a6.2,6.2 0 1,0 -12.4,0M1096.2,665.7a6.2,6.2 0 1,0 12.4,0a6.2,6.2 0 1,0 -12.4,0M1097.6,661.3a6.2,6.2 0 1,0 12.4,0a6.2,6.2 0 1,0 -12.4,0M1099.6,658.8a6.2,6.2 0 1,0 12.4,0a6.2,6.2 0 1,0 -12.4,0M1100.0,658.7a6.2,6.2 0 1,0 12.4,0a6.2,6.2 0 1,0 -12.4,0M1103.6,653.4a6.2,6.2 0 1,0 12.4,0a6.2,6.2 0 1,0 -12.4,0M1103.1,651.6a6.2,6.2 0 1,0 12.4,0a6.2,6.2 0 1,0 -12.4,0M1106.5,648.7a6.2,6.2 0 1,0 12.4,0a6.2,6.2 0 1,0 -12.4,0M1106.5,645.7a6.2,6.2 0 1,0 12.4,0a6.2,6.2 0 1,0 -12.4,0M1111.3,645.7a6.2,6.2 0 1,0 12.4,0a6.2,6.2 0 1,0 -12.4,0M1110.4,641.5a6.2,6.2 0 1,0 12.4,0a6.2,6.2 0 1,0 -12.4,0M1115.3,636.8a6.2,6.2 0 1,0 12.4,0a6.2,6.2 0 1,0 -12.4,0M1117.8,634.3a6.2,6.2 0 1,0 12.4,0a6.2,6.2 0 1,0 -12.4,0M1118.8,633.4a6.2,6.2 0 1,0 12.4,0a6.2,6.2 0 1,0 -12.4,0M1120.8,629.9a6.2,6.2 0 1,0 12.4,0a6.2,6.2 0 1,0 -12.4,0M1121.9,628.4a6.2,6.2 0 1,0 12.4,0a6.2,6.2 0 1,0 -12.4,0M1123.9,626.4a6.2,6.2 0 1,0 12.4,0a6.2,6.2 0 1,0 -12.4,0M1126.2,623.4a6.2,6.2 0 1,0 12.4,0a6.2,6.2 0 1,0 -12.4,0M1126.6,622.3a6.2,6.2 0 1,0 12.4,0a6.2,6.2 0 1,0 -12.4,0M1131.0,618.6a6.2,6.2 0 1,0 12.4,0a6.2,6.2 0 1,0 -12.4,0M1134.5,619.1a6.2,6.2 0 1,0 12.4,0a6.2,6.2 0 1,0 -12.4,0M1135.4,614.5a6.2,6.2 0 1,0 12.4,0a6.2,6.2 0 1,0 -12.4,0M1137.8,612.2a6.2,6.2 0 1,0 12.4,0a6.2,6.2 0 1,0 -12.4,0M1138.5,611.7a6.2,6.2 0 1,0 12.4,0a6.2,6.2 0 1,0 -12.4,0M1140.6,611.8a6.2,6.2 0 1,0 12.4,0a6.2,6.2 0 1,0 -12.4,0M1144.6,612.2a6.2,6.2 0 1,0 12.4,0a6.2,6.2 0 1,0 -12.4,0M1147.3,614.5a6.2,6.2 0 1,0 12.4,0a6.2,6.2 0 1,0 -12.4,0M1149.8,619.7a6.2,6.2 0 1,0 12.4,0a6.2,6.2 0 1,0 -12.4,0M1151.0,618.7a6.2,6.2 0 1,0 12.4,0a6.2,6.2 0 1,0 -12.4,0M1153.1,622.2a6.2,6.2 0 1,0 12.4,0a6.2,6.2 0 1,0 -12.4,0M1156.6,620.1a6.2,6.2 0 1,0 12.4,0a6.2,6.2 0 1,0 -12.4,0M1157.4,621.1a6.2,6.2 0 1,0 12.4,0a6.2,6.2 0 1,0 -12.4,0M1158.1,617.5a6.2,6.2 0 1,0 12.4,0a6.2,6.2 0 1,0 -12.4,0M1156.9,615.5a6.2,6.2 0 1,0 12.4,0a6.2,6.2 0 1,0 -12.4,0M1159.5,612.7a6.2,6.2 0 1,0 12.4,0a6.2,6.2 0 1,0 -12.4,0M1162.6,606.4a6.2,6.2 0 1,0 12.4,0a6.2,6.2 0 1,0 -12.4,0M1163.2,607.0a6.2,6.2 0 1,0 12.4,0a6.2,6.2 0 1,0 -12.4,0M1161.3,601.7a6.2,6.2 0 1,0 12.4,0a6.2,6.2 0 1,0 -12.4,0M1166.4,599.5a6.2,6.2 0 1,0 12.4,0a6.2,6.2 0 1,0 -12.4,0M1170.0,600.0a6.2,6.2 0 1,0 12.4,0a6.2,6.2 0 1,0 -12.4,0M1172.7,599.4a6.2,6.2 0 1,0 12.4,0a6.2,6.2 0 1,0 -12.4,0M1174.0,602.4a6.2,6.2 0 1,0 12.4,0a6.2,6.2 0 1,0 -12.4,0M1173.6,596.6a6.2,6.2 0 1,0 12.4,0a6.2,6.2 0 1,0 -12.4,0M1175.9,594.0a6.2,6.2 0 1,0 12.4,0a6.2,6.2 0 1,0 -12.4,0M1174.8,590.6a6.2,6.2 0 1,0 12.4,0a6.2,6.2 0 1,0 -12.4,0M1176.3,591.0a6.2,6.2 0 1,0 12.4,0a6.2,6.2 0 1,0 -12.4,0M1179.5,588.0a6.2,6.2 0 1,0 12.4,0a6.2,6.2 0 1,0 -12.4,0M1178.2,584.6a6.2,6.2 0 1,0 12.4,0a6.2,6.2 0 1,0 -12.4,0M1178.9,580.7a6.2,6.2 0 1,0 12.4,0a6.2,6.2 0 1,0 -12.4,0M1182.2,577.0a6.2,6.2 0 1,0 12.4,0a6.2,6.2 0 1,0 -12.4,0M1184.2,575.1a6.2,6.2 0 1,0 12.4,0a6.2,6.2 0 1,0 -12.4,0M1183.8,573.6a6.2,6.2 0 1,0 12.4,0a6.2,6.2 0 1,0 -12.4,0M1183.1,571.4a6.2,6.2 0 1,0 12.4,0a6.2,6.2 0 1,0 -12.4,0M1186.9,566.2a6.2,6.2 0 1,0 12.4,0a6.2,6.2 0 1,0 -12.4,0M1189.1,563.0a6.2,6.2 0 1,0 12.4,0a6.2,6.2 0 1,0 -12.4,0M1191.5,561.7a6.2,6.2 0 1,0 12.4,0a6.2,6.2 0 1,0 -12.4,0M1190.2,559.9a6.2,6.2 0 1,0 12.4,0a6.2,6.2 0 1,0 -12.4,0M1192.0,554.7a6.2,6.2 0 1,0 12.4,0a6.2,6.2 0 1,0 -12.4,0M1194.9,551.5a6.2,6.2 0 1,0 12.4,0a6.2,6.2 0 1,0 -12.4,0M1197.3,555.2a6.2,6.2 0 1,0 12.4,0a6.2,6.2 0 1,0 -12.4,0M1198.3,560.8a6.2,6.2 0 1,0 12.4,0a6.2,6.2 0 1,0 -12.4,0M1200.2,562.2a6.2,6.2 0 1,0 12.4,0a6.2,6.2 0 1,0 -12.4,0M1201.1,562.1a6.2,6.2 0 1,0 12.4,0a6.2,6.2 0 1,0 -12.4,0M1201.6,565.2a6.2,6.2 0 1,0 12.4,0a6.2,6.2 0 1,0 -12.4,0M1206.3,569.2a6.2,6.2 0 1,0 12.4,0a6.2,6.2 0 1,0 -12.4,0M1208.0,574.0a6.2,6.2 0 1,0 12.4,0a6.2,6.2 0 1,0 -12.4,0M1208.3,571.2a6.2,6.2 0 1,0 12.4,0a6.2,6.2 0 1,0 -12.4,0M1212.7,568.2a6.2,6.2 0 1,0 12.4,0a6.2,6.2 0 1,0 -12.4,0M1212.0,567.5a6.2,6.2 0 1,0 12.4,0a6.2,6.2 0 1,0 -12.4,0M1214.6,565.4a6.2,6.2 0 1,0 12.4,0a6.2,6.2 0 1,0 -12.4,0M1217.2,564.2a6.2,6.2 0 1,0 12.4,0a6.2,6.2 0 1,0 -12.4,0M1221.0,560.4a6.2,6.2 0 1,0 12.4,0a6.2,6.2 0 1,0 -12.4,0M1223.3,559.5a6.2,6.2 0 1,0 12.4,0a6.2,6.2 0 1,0 -12.4,0M1223.3,559.3a6.2,6.2 0 1,0 12.4,0a6.2,6.2 0 1,0 -12.4,0M1225.9,553.7a6.2,6.2 0 1,0 12.4,0a6.2,6.2 0 1,0 -12.4,0M1227.4,553.8a6.2,6.2 0 1,0 12.4,0a6.2,6.2 0 1,0 -12.4,0M1232.9,552.2a6.2,6.2 0 1,0 12.4,0a6.2,6.2 0 1,0 -12.4,0M1233.0,547.8a6.2,6.2 0 1,0 12.4,0a6.2,6.2 0 1,0 -12.4,0M1233.9,550.3a6.2,6.2 0 1,0 12.4,0a6.2,6.2 0 1,0 -12.4,0M1239.1,550.3a6.2,6.2 0 1,0 12.4,0a6.2,6.2 0 1,0 -12.4,0M1242.2,552.1a6.2,6.2 0 1,0 12.4,0a6.2,6.2 0 1,0 -12.4,0M1246.2,554.8a6.2,6.2 0 1,0 12.4,0a6.2,6.2 0 1,0 -12.4,0M1245.9,556.9a6.2,6.2 0 1,0 12.4,0a6.2,6.2 0 1,0 -12.4,0M1247.7,556.6a6.2,6.2 0 1,0 12.4,0a6.2,6.2 0 1,0 -12.4,0M1252.0,556.7a6.2,6.2 0 1,0 12.4,0a6.2,6.2 0 1,0 -12.4,0M1253.2,560.4a6.2,6.2 0 1,0 12.4,0a6.2,6.2 0 1,0 -12.4,0M1255.7,560.8a6.2,6.2 0 1,0 12.4,0a6.2,6.2 0 1,0 -12.4,0M1261.6,561.2a6.2,6.2 0 1,0 12.4,0a6.2,6.2 0 1,0 -12.4,0M1259.8,566.0a6.2,6.2 0 1,0 12.4,0a6.2,6.2 0 1,0 -12.4,0M1262.5,568.9a6.2,6.2 0 1,0 12.4,0a6.2,6.2 0 1,0 -12.4,0M1265.2,569.6a6.2,6.2 0 1,0 12.4,0a6.2,6.2 0 1,0 -12.4,0M1264.3,572.8a6.2,6.2 0 1,0 12.4,0a6.2,6.2 0 1,0 -12.4,0M1264.5,578.2a6.2,6.2 0 1,0 12.4,0a6.2,6.2 0 1,0 -12.4,0M1269.1,580.1a6.2,6.2 0 1,0 12.4,0a6.2,6.2 0 1,0 -12.4,0M1267.2,583.4a6.2,6.2 0 1,0 12.4,0a6.2,6.2 0 1,0 -12.4,0M1272.0,584.3a6.2,6.2 0 1,0 12.4,0a6.2,6.2 0 1,0 -12.4,0M1273.6,586.7a6.2,6.2 0 1,0 12.4,0a6.2,6.2 0 1,0 -12.4,0M1272.9,587.8a6.2,6.2 0 1,0 12.4,0a6.2,6.2 0 1,0 -12.4,0M1274.5,590.0a6.2,6.2 0 1,0 12.4,0a6.2,6.2 0 1,0 -12.4,0M1276.6,595.7a6.2,6.2 0 1,0 12.4,0a6.2,6.2 0 1,0 -12.4,0M1279.8,598.7a6.2,6.2 0 1,0 12.4,0a6.2,6.2 0 1,0 -12.4,0M1281.4,598.7a6.2,6.2 0 1,0 12.4,0a6.2,6.2 0 1,0 -12.4,0M1282.3,602.0a6.2,6.2 0 1,0 12.4,0a6.2,6.2 0 1,0 -12.4,0M1284.8,605.0a6.2,6.2 0 1,0 12.4,0a6.2,6.2 0 1,0 -12.4,0M1284.0,608.2a6.2,6.2 0 1,0 12.4,0a6.2,6.2 0 1,0 -12.4,0M1288.6,608.9a6.2,6.2 0 1,0 12.4,0a6.2,6.2 0 1,0 -12.4,0M1289.7,610.7a6.2,6.2 0 1,0 12.4,0a6.2,6.2 0 1,0 -12.4,0M1288.5,614.3a6.2,6.2 0 1,0 12.4,0a6.2,6.2 0 1,0 -12.4,0M1292.1,620.0a6.2,6.2 0 1,0 12.4,0a6.2,6.2 0 1,0 -12.4,0" fill="#ff0000"/>
<path d="M1304.5,658.0a6.2,6.2 0 1,0 12.4,0a6.2,6.2 0 1,0 -12.4,0M1307.0,660.8a6.2,6.2 0 1,0 12.4,0a6.2,6.2 0 1,0 -12.4,0M1306.9,664.9a6.2,6.2 0 1,0 12.4,0a6.2,6.2 0 1,0 -12.4,0M1310.2,667.1a6.2,6.2 0 1,0 12.4,0a6.2,6.2 0 1,0 -12.4,0M1312.4,670.7a6.2,6.2 0 1,0 12.4,0a6.2,6.2 0 1,0 -12.4,0M1313.6,672.7a6.2,6.2 0 1,0 12.4,0a6.2,6.2 0 1,0 -12.4,0M1316.4,675.6a6.2,6.2 0 1,0 12.4,0a6.2,6.2 0 1,0 -12.4,0M1317.7,678.0a6.2,6.2 0 1,0 12.4,0a6.2,6.2 0 1,0 -12.4,0M1320.5,677.3a6.2,6.2 0 1,0 12.4,0a6.2,6.2 0 1,0 -12.4,0M1322.3,677.1a6.2,6.2 0 1,0 12.4,0a6.2,6.2 0 1,0 -12.4,0M1324.7,676.8a6.2,6.2 0 1,0 12.4,0a6.2,6.2 0 1,0 -12.4,0M1327.8,673.0a6.2,6.2 0 1,0 12.4,0a6.2,6.2 0 1,0 -12.4,0" fill="#ff0000"/>
<path d="M1293.8,630.0a6.2,6.2 0 1,0 12.4,0a6.2,6.2 0 1,0 -12.4,0M1334.3,702.5a6.2,6.2 0 1,0 12.4,0a6.2,6.2 0 1,0 -12.4,0M1340.5,725.0a6.2,6.2 0 1,0 12.4,0a6.2,6.2 0 1,0 -12.4,0M1345.8,735.0a6.2,6.2 0 1,0 12.4,0a6.2,6.2 0 1,0 -12.4,0M1351.8,752.5a6.2,6.2 0 1,0 12.4,0a6.2,6.2 0 1,0 -12.4,0M1356.8,770.0a6.2,6.2 0 1,0 12.4,0a6.2,6.2 0 1,0 -12.4,0M1361.8,783.8a6.2,6.2 0 1,0 12.4,0a6.2,6.2 0 1,0 -12.4,0M1367.8,800.0a6.2,6.2 0 1,0 12.4,0a6.2,6.2 0 1,0 -12.4,0M1372.8,813.8a6.2,6.2 0 1,0 12.4,0a6.2,6.2 0 1,0 -12.4,0M1379.3,827.5a6.2,6.2 0 1,0 12.4,0a6.2,6.2 0 1,0 -12.4,0M1384.3,842.5a6.2,6.2 0 1,0 12.4,0a6.2,6.2 0 1,0 -12.4,0M1390.8,860.0a6.2,6.2 0 1,0 12.4,0a6.2,6.2 0 1,0 -12.4,0M1396.8,875.0a6.2,6.2 0 1,0 12.4,0a6.2,6.2 0 1,0 -12.4,0M1404.3,887.5a6.2,6.2 0 1,0 12.4,0a6.2,6.2 0 1,0 -12.4,0M1409.3,905.0a6.2,6.2 0 1,0 12.4,0a6.2,6.2 0 1,0 -12.4,0M1416.8,920.0a6.2,6.2 0 1,0 12.4,0a6.2,6.2 0 1,0 -12.4,0M1426.8,935.0a6.2,6.2 0 1,0 12.4,0a6.2,6.2 0 1,0 -12.4,0M1436.8,950.0a6.2,6.2 0 1,0 12.4,0a6.2,6.2 0 1,0 -12.4,0M1444.3,957.5a6.2,6.2 0 1,0 12.4,0a6.2,6.2 0 1,0 -12.4,0M1451.8,975.0a6.2,6.2 0 1,0 12.4,0a6.2,6.2 0 1,0 -12.4,0" fill="#ff0000"/>
<path d="M1462.0,980.9 L1463.3,981.5 L1464.7,983.0 L1466.0,984.2 L1467.4,986.0 L1468.8,987.5 L1470.1,988.3 L1471.5,990.5 L1472.8,992.0 L1474.2,992.6 L1475.5,995.0 L1477.1,996.2 L1478.6,996.6 L1480.2,998.8 L1481.8,1000.0 L1483.3,1001.6 L1484.9,1002.5 L1486.4,1003.8 L1488.0,1005.3 L1489.6,1006.2 L1491.1,1007.5 L1492.7,1009.1 L1494.2,1010.0 L1495.8,1011.2 L1497.4,1013.0 L1498.9,1013.8 L1500.5,1015.0 L1502.4,1015.1 L1504.3,1016.9 L1506.3,1017.9 L1508.2,1019.0 L1510.1,1019.8 L1512.0,1020.8 L1514.0,1021.5 L1515.9,1022.7 L1517.8,1023.7 L1519.7,1025.3 L1521.7,1025.6 L1523.6,1026.5 L1525.5,1028.1" fill="none" stroke="#ff0000" stroke-width="12" stroke-linecap="round" stroke-linejoin="round"/>
<path d="M291.5,1008.9 L294.0,1010.8 L296.5,1010.9 L299.0,1010.8 L301.5,1008.5 L304.0,1008.7 L306.5,1008.3 L309.0,1008.0 L311.5,1010.0 L314.0,1009.8 L316.5,1009.3 L319.0,1009.7 L321.5,1009.0 L324.0,1008.0 L326.5,1007.4 L329.0,1007.3 L331.5,1008.9 L334.0,1007.4 L336.5,1007.6 L339.0,1007.7 L341.5,1006.6 L344.0,1007.1 L346.5,1007.1 L349.0,1008.1 L351.5,1007.1 L354.0,1006.8 L356.5,1008.4 L359.0,1007.1 L361.5,1007.9 L364.0,1007.2 L366.5,1005.5 L369.0,1006.4 L371.5,1006.4 L374.0,1007.1 L376.5,1005.9 L379.0,1006.7 L381.5,1006.2 L384.0,1005.3 L386.5,1006.8 L389.0,1004.7 L391.5,1006.5 L394.0,1004.6 L396.5,1004.1 L399.0,1004.5 L401.5,1005.8 L404.0,1006.2 L406.5,1003.6 L409.0,1004.7 L411.5,1004.6 L414.0,1005.3 L416.5,1003.6 L419.0,1004.2 L421.5,1003.7 L424.0,1004.9 L426.5,1003.3 L429.0,1004.9 L431.5,1003.1 L434.0,1002.8 L436.5,1003.9 L439.0,1003.2 L441.5,1002.1 L444.0,1003.4 L446.5,1001.8 L449.0,1003.5 L451.5,1003.1 L454.0,1003.2 L456.5,1002.7 L459.0,1001.9 L461.5,1001.9 L464.0,1001.7 L466.5,1002.9 L469.0,1000.7 L471.5,1002.6 L474.0,1000.3 L476.5,1000.6 L479.0,1000.6 L481.5,1002.2 L484.0,1001.0 L486.5,1000.5 L489.0,1001.6 L491.5,999.8 L494.0,1000.2 L496.5,1000.2 L499.0,1000.6 L501.5,1000.4 L504.0,1000.0 L506.5,999.0 L509.0,998.8 L511.5,998.2 L514.0,999.8 L516.5,999.1 L519.0,999.2 L521.5,997.5 L524.0,998.0 L526.5,998.7 L529.0,998.1 L531.5,996.7 L534.0,997.4 L536.5,998.3 L539.0,996.5 L541.5,996.2 L544.0,996.3 L546.5,997.2 L549.0,997.3 L551.5,995.4 L554.0,995.2 L556.5,995.3 L559.0,995.3 L561.5,995.6 L564.0,994.5 L566.5,994.8 L569.0,994.2 L571.5,996.1 L574.0,995.3 L576.5,993.5 L579.0,995.6 L581.5,993.1 L584.0,993.7 L586.5,995.1 L589.1,994.4 L591.6,994.0 L594.2,993.1 L596.7,992.3 L599.2,993.2 L601.8,991.6 L604.3,991.7 L606.9,992.0 L609.4,990.9 L611.9,991.6 L614.5,992.5 L617.0,992.0 L619.6,991.3 L622.1,991.5 L624.6,990.9 L627.2,989.8 L629.7,990.8 L632.3,990.1 L634.8,990.8 L637.3,991.1 L639.9,989.6 L642.4,989.8 L645.0,990.1 L647.5,989.0 L650.0,988.4 L652.6,989.4 L655.1,989.7 L657.7,989.2 L660.2,988.8 L662.7,989.0 L665.3,988.4 L667.8,988.1 L670.4,987.4 L672.9,986.9 L675.4,987.5 L678.0,985.9 L680.5,986.6 L683.1,987.3 L685.6,987.0 L688.1,986.5 L690.7,985.4 L693.2,985.6 L695.8,985.5 L698.3,985.8 L700.8,985.0 L703.4,985.5 L705.9,986.0 L708.5,983.9 L711.0,984.9 L713.6,984.9 L716.1,983.5 L718.7,983.4 L721.2,984.3 L723.8,981.5 L726.3,982.5 L728.9,981.2 L731.4,982.4 L734.0,982.5 L736.6,981.0 L739.1,979.6 L741.7,980.5 L744.2,980.0 L746.8,980.1 L749.3,979.3 L751.9,979.2 L754.4,979.4 L757.0,978.2 L759.6,977.6 L762.1,978.6 L764.7,976.4 L767.2,977.2 L769.8,976.1 L772.3,976.7 L774.9,974.7 L777.4,976.6 L780.0,974.6 L782.5,973.4 L784.9,973.5 L787.4,973.3 L789.9,971.8 L792.4,972.4 L794.8,972.0 L797.3,972.2 L799.8,970.8 L802.3,970.1 L804.7,969.5 L807.2,970.4 L809.7,970.5 L812.2,968.9 L814.6,967.6 L817.1,968.7 L819.6,967.1 L822.1,966.2 L824.5,965.5 L827.0,966.7 L829.5,966.3 L832.0,965.3 L834.5,964.3 L837.0,964.1 L839.5,962.7 L842.0,964.0 L844.5,961.9 L847.0,962.2 L849.5,962.1 L852.1,961.6 L854.6,960.1 L857.1,959.1 L859.6,959.3 L862.1,957.7 L864.6,959.0 L867.1,957.2 L869.6,958.0 L872.1,955.9 L874.6,955.7 L877.1,954.7 L879.6,954.5 L882.1,953.3 L884.6,952.2 L887.0,953.4 L889.5,951.6 L892.0,950.9 L894.5,950.4 L897.0,950.3 L899.5,949.5 L902.0,949.4 L904.5,948.8 L907.0,947.4 L909.5,948.3 L911.9,947.4 L914.4,944.7 L916.9,946.1 L919.4,945.7 L921.9,944.7 L924.4,942.3 L926.9,943.4 L929.3,942.1 L931.8,939.8 L934.3,939.0 L936.8,940.8 L939.3,939.2 L941.7,937.5 L944.2,936.3 L946.7,935.7 L949.2,935.2 L951.6,935.9 L954.1,934.0 L956.6,932.8 L959.1,934.0 L961.6,933.0 L964.0,930.6 L966.5,931.8 L969.0,930.3 L971.4,929.8 L973.9,928.5 L976.3,928.1 L978.8,926.9 L981.2,926.1 L983.6,923.4 L986.1,923.8 L988.5,922.4 L990.9,922.0 L993.4,920.2 L995.8,920.4 L998.3,918.6 L1000.7,916.9 L1003.1,915.8 L1005.4,914.6 L1007.8,914.5 L1010.1,912.4 L1012.5,912.4 L1014.8,910.6 L1017.2,910.5 L1019.5,909.5 L1021.9,908.6 L1024.2,908.4 L1026.6,905.2 L1028.9,906.4 L1031.3,904.4 L1033.6,903.7 L1036.0,902.9 L1038.3,902.2 L1040.5,899.9 L1042.8,898.9 L1045.1,899.2 L1047.4,895.7 L1049.6,896.0 L1051.9,894.9 L1054.2,892.2 L1056.5,892.6 L1058.7,891.6 L1061.0,891.1 L1063.3,888.4 L1065.5,889.0 L1067.8,886.6 L1070.1,885.4 L1072.4,885.4 L1074.6,882.0 L1076.9,882.6 L1079.2,881.2 L1081.5,879.4 L1083.7,879.6 L1086.0,877.2 L1088.1,875.9 L1090.2,874.4 L1092.2,873.5 L1094.3,870.4 L1096.4,869.4 L1098.5,867.8 L1100.6,866.6 L1102.7,865.7 L1104.8,862.7 L1106.8,862.5 L1108.9,859.8 L1111.0,858.5 L1113.1,856.3 L1115.2,855.4 L1117.2,855.0 L1119.3,852.6 L1121.4,851.3 L1123.5,848.6 L1126.4,847.9 L1129.3,847.3 L1132.2,847.4 L1135.1,847.0 L1138.0,846.7 L1140.3,843.6 L1142.5,844.1 L1144.8,843.3 L1147.1,841.2 L1149.4,838.7 L1151.6,838.1 L1153.9,836.1 L1156.2,835.4 L1158.5,836.1 L1160.7,834.0 L1163.0,832.9 L1165.3,832.1 L1167.5,831.3 L1169.8,829.4 L1172.1,828.3 L1174.4,827.1 L1176.6,826.2 L1178.9,824.8 L1181.2,823.9 L1183.5,821.5 L1185.7,821.6 L1188.0,819.9 L1190.3,819.3 L1192.5,816.2 L1194.8,815.1 L1197.1,813.3 L1199.4,813.9 L1201.6,812.9 L1203.9,810.9 L1206.2,808.7 L1208.5,808.6 L1210.7,807.1 L1213.0,805.2 L1215.5,803.6 L1218.0,803.0 L1220.5,802.5 L1223.0,801.5 L1225.5,801.1 L1228.0,800.9 L1230.5,800.9 L1233.0,797.8 L1235.5,798.4 L1238.0,796.3 L1240.5,795.9 L1243.0,797.1 L1245.5,795.8 L1248.0,796.1 L1250.5,794.2 L1253.0,792.5 L1255.5,794.4 L1258.0,795.9 L1260.5,797.8 L1263.0,798.9 L1265.5,798.5 L1268.0,799.4 L1270.5,799.5 L1273.0,801.9 L1275.5,801.8 L1277.6,803.1 L1279.7,804.2 L1281.8,805.6 L1283.8,808.8 L1285.9,808.8 L1288.0,812.5 L1290.1,811.6 L1292.2,815.1 L1294.2,814.7 L1296.3,815.8 L1298.4,819.1 L1300.5,819.3 L1302.6,822.1 L1304.7,822.1 L1306.8,823.2 L1308.8,826.5 L1310.9,827.8 L1313.0,829.7 L1315.1,830.8 L1317.2,830.6 L1319.2,833.5 L1321.3,835.1 L1323.4,835.9 L1325.5,838.6 L1327.6,838.5 L1329.7,842.0 L1331.8,843.1 L1333.8,842.9 L1335.9,844.6 L1338.0,847.9 L1340.1,850.0 L1342.2,849.7 L1344.2,852.0 L1346.3,854.8 L1348.4,855.0 L1350.5,858.4 L1352.2,859.5 L1354.0,860.4 L1355.8,863.2 L1357.5,865.7 L1359.2,867.3 L1361.0,870.0 L1362.8,870.6 L1364.5,874.3 L1366.2,875.1 L1368.0,877.9 L1369.5,880.1 L1371.0,881.8 L1372.5,884.0 L1374.0,887.2 L1375.5,889.9 L1377.0,891.7 L1378.5,893.4 L1380.0,895.0 L1381.5,896.6 L1383.0,901.2 L1384.6,902.6 L1386.2,904.9 L1387.8,905.7 L1389.4,908.5 L1391.0,911.5 L1392.5,913.1 L1394.1,914.6 L1395.7,915.9 L1397.3,918.2 L1398.9,921.5 L1400.5,922.2 L1402.3,924.8 L1404.1,926.3 L1405.9,928.9 L1407.6,930.4 L1409.4,930.9 L1411.2,931.9 L1413.0,934.4 L1414.8,936.6 L1416.6,938.8 L1418.4,941.2 L1420.1,943.2 L1421.9,942.7 L1423.7,946.6 L1425.5,948.3 L1427.6,949.9 L1429.7,950.6 L1431.8,951.3 L1433.8,954.2 L1435.9,955.6 L1438.0,956.7 L1440.1,958.8 L1442.2,958.8 L1444.2,959.5 L1446.3,962.2 L1448.4,964.3 L1450.5,964.2 L1452.6,967.3 L1454.7,969.4 L1456.8,969.2 L1459.0,971.7 L1461.1,973.5 L1463.2,974.6 L1465.3,975.5 L1467.4,977.3 L1469.5,980.2 L1471.7,981.9 L1473.8,982.7 L1475.9,983.3 L1478.0,986.8 L1480.5,987.5 L1483.0,986.9 L1485.5,988.6 L1488.0,990.2 L1490.5,990.9 L1493.0,990.8 L1495.5,991.4 L1498.0,992.5 L1500.5,992.3 L1503.0,993.1 L1505.5,993.8 L1508.0,996.0 L1510.5,995.9 L1513.0,997.2 L1515.5,997.6 L1517.9,998.7 L1520.4,998.6 L1522.8,999.2 L1525.3,1002.5 L1527.8,1001.7 L1530.2,1001.9 L1532.7,1004.1 L1535.2,1005.4 L1537.6,1004.6 L1540.1,1006.6 L1542.5,1006.8 L1545.0,1008.1 L1547.5,1007.5 L1550.0,1008.4 L1552.5,1011.6 L1555.0,1012.1 L1557.5,1011.9 L1560.0,1012.9 L1562.5,1012.9 L1565.0,1015.0 L1567.5,1014.9 L1570.0,1017.0 L1572.5,1017.3 L1575.0,1018.3 L1577.5,1019.4 L1580.0,1018.4 L1582.5,1018.2 L1585.0,1019.0 L1587.5,1019.3 L1590.0,1019.4 L1592.5,1019.7 L1595.0,1021.4 L1597.5,1022.6 L1600.0,1021.9 L1602.5,1023.5 L1605.0,1023.8 L1607.5,1022.0 L1610.0,1023.8 L1612.5,1023.6 L1615.0,1023.3 L1617.5,1025.8 L1620.0,1024.4 L1622.5,1025.3 L1625.0,1025.6 L1627.5,1026.5 L1630.0,1025.9 L1632.5,1025.3 L1635.0,1025.5 L1637.5,1024.9 L1640.0,1027.1 L1642.5,1027.3 L1645.0,1025.4 L1647.5,1025.0 L1650.0,1025.7 L1652.5,1026.1 L1655.0,1027.6 L1657.5,1027.7 L1660.0,1027.7 L1662.5,1025.7 L1665.0,1027.7" fill="none" stroke="#0000ff" stroke-width="12.5" stroke-linecap="round" stroke-linejoin="round"/>
<path d="M291.0,1020.4 L293.6,1021.4 L296.1,1019.1 L298.7,1019.5 L301.3,1021.2 L303.9,1021.9 L306.4,1021.3 L309.0,1020.5 L311.5,1021.2 L314.0,1021.6 L316.5,1019.8 L319.0,1020.4 L321.5,1020.2 L324.0,1019.8 L326.5,1020.7 L329.0,1019.8 L331.5,1019.9 L334.0,1019.6 L336.5,1021.0 L339.0,1019.2 L341.5,1021.0 L344.0,1019.6 L346.5,1019.2 L349.0,1021.4 L351.5,1019.5 L354.0,1021.4 L356.5,1021.1 L359.0,1021.2 L361.5,1019.2 L364.0,1019.9 L366.5,1019.0 L369.0,1021.1 L371.5,1020.8 L374.0,1020.2 L376.5,1019.7 L379.0,1019.4 L381.5,1020.6 L384.0,1019.7 L386.5,1020.0 L389.0,1018.7 L391.5,1018.9 L394.0,1018.4 L396.5,1020.1 L399.0,1019.6 L401.5,1018.5 L404.0,1020.3 L406.5,1018.7 L409.0,1019.1 L411.5,1018.3 L414.0,1018.6 L416.5,1020.0 L419.0,1018.7 L421.5,1018.2 L424.0,1019.0 L426.5,1018.5 L429.0,1020.0 L431.5,1017.9 L434.0,1020.1 L436.5,1017.7 L439.0,1019.8 L441.5,1019.2 L444.0,1017.9 L446.5,1018.6 L449.0,1018.0 L451.5,1017.9 L454.0,1017.7 L456.5,1018.1 L459.0,1019.7 L461.5,1019.7 L464.0,1019.4 L466.5,1017.3 L469.0,1017.7 L471.5,1019.2 L474.0,1017.0 L476.5,1018.7 L479.0,1017.5 L481.5,1019.3 L484.0,1016.7 L486.5,1018.7 L489.0,1017.4 L491.6,1016.8 L494.1,1016.4 L496.6,1018.5 L499.1,1017.6 L501.7,1016.6 L504.2,1017.2 L506.7,1018.4 L509.2,1016.5 L511.7,1017.3 L514.3,1016.1 L516.8,1016.2 L519.3,1017.6 L521.8,1017.4 L524.4,1016.0 L526.9,1015.6 L529.4,1015.5 L531.9,1016.8 L534.4,1016.4 L537.0,1015.8 L539.5,1015.5 L542.0,1016.5 L544.5,1016.7 L547.1,1016.9 L549.6,1016.2 L552.1,1015.1 L554.6,1014.7 L557.1,1016.3 L559.7,1015.4 L562.2,1016.2 L564.7,1014.4 L567.2,1016.2 L569.8,1014.9 L572.3,1016.2 L574.8,1016.1 L577.3,1015.1 L579.8,1013.8 L582.4,1016.0 L584.9,1014.8 L587.4,1015.8 L589.9,1014.1 L592.5,1013.8 L595.0,1015.4 L597.5,1014.2 L600.0,1013.5 L602.5,1014.0 L605.1,1014.5 L607.6,1012.9 L610.1,1014.2 L612.6,1013.9 L615.2,1014.0 L617.7,1012.9 L620.2,1014.4 L622.7,1014.5 L625.2,1014.6 L627.8,1013.1 L630.3,1014.0 L632.8,1013.1 L635.3,1014.0 L637.9,1012.1 L640.4,1014.1 L642.9,1014.3 L645.4,1013.0 L647.9,1013.0 L650.5,1012.9 L653.0,1012.9 L655.5,1011.5 L658.0,1013.8 L660.6,1011.8 L663.1,1011.7 L665.6,1011.4 L668.1,1011.7 L670.6,1013.1 L673.2,1010.9 L675.7,1011.0 L678.2,1012.5 L680.7,1011.1 L683.3,1010.6 L685.8,1012.0 L688.3,1011.9 L690.8,1011.7 L693.3,1012.1 L695.9,1010.4 L698.4,1012.3 L700.9,1011.9 L703.4,1010.1 L706.0,1010.2 L708.5,1011.1 L711.0,1011.0 L713.6,1010.2 L716.1,1009.6 L718.7,1010.2 L721.2,1009.3 L723.8,1010.3 L726.3,1010.8 L728.9,1008.7 L731.4,1009.6 L734.0,1009.9 L736.6,1008.2 L739.1,1009.7 L741.7,1009.8 L744.2,1008.2 L746.8,1008.1 L749.3,1009.0 L751.9,1008.0 L754.4,1007.5 L757.0,1008.7 L759.6,1008.1 L762.1,1006.7 L764.7,1006.3 L767.2,1006.3 L769.8,1006.4 L772.3,1007.6 L774.9,1007.0 L777.4,1007.1 L780.0,1006.6 L782.5,1006.5 L785.1,1004.3 L787.6,1005.4 L790.2,1006.4 L792.7,1006.2 L795.3,1004.2 L797.8,1004.5 L800.3,1004.9 L802.9,1004.1 L805.4,1004.3 L808.0,1003.0 L810.5,1003.8 L813.0,1003.8 L815.6,1002.4 L818.1,1002.5 L820.7,1004.5 L823.2,1003.9 L825.8,1004.1 L828.3,1003.2 L830.8,1003.5 L833.4,1003.5 L835.9,1003.4 L838.5,1001.0 L841.0,1002.5 L843.5,1001.3 L846.1,1002.2 L848.6,1001.0 L851.2,1001.6 L853.7,1002.4 L856.3,1001.5 L858.8,1000.4 L861.4,1000.9 L864.0,1000.5 L866.6,1001.6 L869.2,999.7 L871.8,999.6 L874.5,1000.3 L877.1,998.8 L879.7,999.8 L882.3,1000.6 L884.9,999.3 L887.5,998.5 L890.1,998.8 L892.7,998.8 L895.3,997.6 L898.0,997.4 L900.6,997.2 L903.2,997.5 L905.8,997.6 L908.4,997.1 L911.0,996.8 L913.6,996.1 L916.1,997.0 L918.7,997.5 L921.2,996.5 L923.8,996.1 L926.3,996.0 L928.9,994.6 L931.4,995.6 L934.0,994.6 L936.5,994.5 L939.1,994.4 L941.6,993.7 L944.2,993.0 L946.7,992.5 L949.3,992.1 L951.8,992.6 L954.4,991.9 L956.9,992.1 L959.5,990.3 L962.0,990.9 L964.6,991.9 L967.1,990.0 L969.7,990.5 L972.2,990.0 L974.8,989.2 L977.3,990.7 L979.9,988.6 L982.4,989.5 L985.0,987.6 L987.5,986.8 L990.0,988.4 L992.5,986.8 L995.0,985.3 L997.5,985.6 L1000.0,985.2 L1002.5,985.4 L1005.0,983.3 L1007.5,983.0 L1010.0,984.4 L1012.5,983.3 L1015.0,981.3 L1017.5,981.2 L1020.0,980.7 L1022.5,981.0 L1025.0,980.4 L1027.5,980.4 L1030.0,979.8 L1032.5,978.6 L1035.1,978.7 L1037.6,978.3 L1040.2,977.9 L1042.7,976.7 L1045.3,977.0 L1047.8,976.4 L1050.4,976.4 L1052.9,973.9 L1055.5,975.4 L1058.0,972.7 L1060.5,974.2 L1063.1,973.3 L1065.6,972.6 L1068.2,973.4 L1070.7,971.9 L1073.3,971.1 L1075.8,971.6 L1078.4,971.3 L1080.9,970.2 L1083.5,969.1 L1086.0,968.9 L1088.5,968.1 L1091.0,968.0 L1093.4,966.1 L1095.9,965.6 L1098.4,965.2 L1100.9,964.0 L1103.3,963.0 L1105.8,963.5 L1108.3,962.8 L1110.8,961.1 L1113.2,960.2 L1115.7,958.8 L1118.2,958.3 L1120.7,957.1 L1123.1,957.4 L1125.6,956.6 L1128.1,954.6 L1130.6,955.9 L1133.0,953.6 L1135.5,954.2 L1138.0,953.4 L1140.4,952.9 L1142.8,950.1 L1145.1,949.8 L1147.5,950.2 L1149.9,947.1 L1152.3,946.3 L1154.7,946.8 L1157.0,945.8 L1159.4,946.1 L1161.8,944.9 L1164.2,943.4 L1166.6,943.8 L1169.0,941.7 L1171.3,940.9 L1173.7,940.5 L1176.1,938.9 L1178.5,938.0 L1180.9,937.7 L1183.2,936.3 L1185.6,937.0 L1188.0,935.5 L1190.5,934.3 L1193.0,932.5 L1195.5,932.4 L1198.0,931.7 L1200.5,931.4 L1203.0,930.7 L1205.5,930.7 L1208.0,930.2 L1210.5,928.2 L1213.0,927.3 L1215.5,927.1 L1218.0,927.3 L1220.5,924.8 L1223.0,924.6 L1225.5,924.6 L1228.0,922.1 L1230.5,921.8 L1233.0,922.7 L1235.5,921.6 L1238.0,920.0 L1240.5,918.6 L1243.0,920.2 L1245.5,919.2 L1248.0,919.2 L1250.5,919.2 L1253.0,918.5 L1255.5,916.9 L1258.0,915.8 L1260.5,915.7 L1263.0,915.9 L1265.5,915.4 L1268.0,914.2 L1270.5,913.8 L1273.0,914.5 L1275.5,914.0 L1278.0,913.6 L1280.5,915.5 L1283.0,914.9 L1285.5,913.6 L1288.0,914.8 L1290.5,916.0 L1293.0,915.0 L1295.5,916.2 L1298.0,914.7 L1300.5,915.7 L1303.0,917.4 L1305.5,917.0 L1308.0,917.4 L1310.5,916.5 L1313.0,917.5 L1315.5,917.9 L1318.0,917.4 L1320.5,918.6 L1323.0,918.6 L1325.5,920.0 L1328.0,919.9 L1330.5,920.4 L1333.0,920.5 L1335.5,921.5 L1338.0,924.0 L1340.5,923.2 L1343.0,924.1 L1345.5,925.2 L1348.0,927.1 L1350.5,928.8 L1353.0,929.1 L1355.5,930.5 L1358.0,929.5 L1360.5,930.3 L1363.0,933.2 L1365.2,933.2 L1367.4,935.4 L1369.6,935.6 L1371.8,936.3 L1374.0,937.8 L1376.2,938.5 L1378.4,941.8 L1380.6,942.1 L1382.9,942.7 L1385.1,944.1 L1387.3,945.1 L1389.5,945.5 L1391.7,948.8 L1393.9,949.2 L1396.1,951.3 L1398.3,951.2 L1400.5,952.8 L1403.0,952.7 L1405.5,953.0 L1408.0,956.1 L1410.5,956.8 L1413.0,956.2 L1415.5,958.5 L1418.0,959.2 L1420.5,958.7 L1423.0,960.3 L1425.5,962.0 L1428.0,961.7 L1430.5,963.7 L1433.0,962.7 L1435.5,963.9 L1438.0,965.6 L1440.5,965.0 L1443.0,965.9 L1445.5,968.1 L1448.0,967.8 L1450.5,969.3 L1453.0,968.5 L1455.5,969.1 L1458.0,970.2 L1460.5,970.5 L1463.0,973.2 L1465.2,972.9 L1467.4,975.0 L1469.6,975.2 L1471.8,977.7 L1474.0,978.7 L1476.2,980.1 L1478.4,980.7 L1480.6,982.2 L1482.8,985.4 L1485.0,985.6 L1487.5,986.1 L1490.0,986.7 L1492.5,987.7 L1495.0,988.3 L1497.5,988.5 L1500.0,990.9 L1502.5,990.8 L1505.0,991.1 L1507.5,993.3 L1510.0,992.4 L1512.5,993.7 L1515.0,995.9 L1517.5,994.8 L1520.0,996.4 L1522.5,998.1 L1525.0,998.8 L1527.5,997.4 L1530.0,998.2 L1532.5,999.4 L1535.0,998.8 L1537.5,1000.6 L1540.0,998.9 L1542.5,1001.1 L1545.0,1000.2 L1547.5,999.7 L1550.0,1000.6 L1552.5,1000.0 L1555.0,1001.8 L1557.5,1000.9 L1560.0,1002.9 L1562.5,1002.3 L1565.0,1002.0 L1567.5,1002.0 L1570.0,1003.2 L1572.5,1002.4 L1575.0,1004.4 L1577.5,1002.7 L1580.0,1004.0 L1582.5,1004.3 L1585.0,1003.7 L1587.5,1005.2 L1590.0,1004.3 L1592.5,1005.2 L1595.0,1005.1 L1597.5,1004.6 L1600.0,1004.9 L1602.5,1004.3 L1605.0,1004.7 L1607.5,1006.6 L1610.0,1005.3 L1612.5,1006.4 L1615.0,1005.1 L1617.5,1006.4 L1620.0,1006.0 L1622.5,1006.6 L1625.0,1006.2 L1627.5,1005.7 L1630.0,1006.5 L1632.5,1006.9 L1635.0,1007.2 L1637.5,1009.4 L1640.0,1008.8 L1642.5,1009.7 L1645.0,1011.7 L1647.5,1011.9 L1650.0,1012.8 L1652.5,1013.3 L1655.0,1012.0 L1657.5,1013.0 L1660.0,1013.0 L1662.5,1015.3 L1665.0,1015.8 L1667.5,1015.6 L1670.0,1016.4 L1672.5,1017.6 L1675.0,1018.3 L1677.5,1017.7 L1680.0,1019.9 L1682.5,1018.9 L1685.0,1019.8 L1687.5,1018.9 L1690.0,1019.0 L1692.5,1021.3 L1695.0,1021.1 L1697.5,1021.3 L1700.0,1019.8 L1702.5,1020.1 L1705.0,1020.6 L1707.5,1021.0 L1710.0,1021.5 L1712.5,1021.9 L1715.0,1021.3 L1717.5,1022.3 L1720.0,1023.4 L1722.5,1022.4 L1725.0,1024.4 L1727.5,1023.9 L1730.0,1024.6 L1732.5,1023.4 L1735.1,1023.9 L1737.6,1024.6 L1740.1,1023.8 L1742.7,1023.0 L1745.2,1025.2 L1747.7,1025.1 L1750.3,1023.8 L1752.8,1023.3 L1755.3,1025.4 L1757.9,1024.8 L1760.4,1023.4 L1762.9,1024.0 L1765.5,1023.7 L1768.0,1025.5 L1770.5,1024.0 L1773.1,1025.9 L1775.6,1025.5 L1778.1,1023.9 L1780.7,1025.5 L1783.2,1024.8 L1785.7,1025.7 L1788.3,1026.0 L1790.8,1024.6 L1793.3,1024.2 L1795.9,1026.5 L1798.4,1025.2 L1800.9,1026.5 L1803.5,1025.9 L1806.0,1026.1 L1808.5,1026.4 L1811.1,1025.9 L1813.6,1025.5 L1816.1,1024.5 L1818.7,1026.3 L1821.2,1025.6 L1823.7,1025.9 L1826.3,1027.0 L1828.8,1025.0 L1831.3,1026.7 L1833.9,1024.9 L1836.4,1026.6 L1838.9,1026.9 L1841.5,1025.6 L1844.0,1026.4 L1846.5,1027.5 L1849.1,1026.7 L1851.6,1026.5 L1854.1,1025.8 L1856.7,1025.4 L1859.2,1026.2 L1861.7,1026.4 L1864.3,1025.9 L1866.8,1026.2 L1869.3,1025.8 L1871.9,1027.3 L1874.4,1027.3 L1876.9,1026.2 L1879.5,1026.3 L1882.0,1027.0" fill="none" stroke="#008000" stroke-width="12.5" stroke-linecap="round" stroke-linejoin="round"/>
<path d="M291.0,1007.7 L294.0,1005.1 L297.0,1006.0 L300.0,1011.1 L302.5,1007.7 L305.0,1011.9 L307.5,1012.0 L310.0,1016.6 L312.5,1014.2 L315.0,1014.8 L317.5,1010.2 L320.0,1012.6 L322.5,1011.3 L325.0,1009.4 L327.5,1012.2 L330.0,1013.3 L332.5,1009.3 L335.0,1010.9 L337.5,1011.8 L340.0,1011.2 L342.5,1010.6 L345.0,1012.5 L347.5,1012.4 L350.0,1016.1 L352.5,1015.0 L355.0,1013.4 L357.5,1015.5 L360.0,1017.2 L362.7,1016.5 L365.3,1015.3 L368.0,1014.9 L370.7,1014.6 L373.3,1021.1 L376.0,1019.6 L378.7,1015.4 L381.3,1019.5 L384.0,1021.1 L386.7,1018.8 L389.3,1016.2 L392.0,1018.8 L394.7,1018.6 L397.3,1017.2 L400.0,1019.5 L402.5,1015.7 L405.0,1021.2 L407.5,1019.1 L410.0,1018.8 L412.5,1020.6 L415.0,1018.8 L417.5,1016.3 L420.0,1016.4 L422.5,1016.0 L425.0,1015.6 L427.5,1020.7 L430.0,1021.4 L432.5,1018.2 L435.0,1017.8 L437.5,1020.9 L440.0,1022.3 L442.5,1022.9 L445.0,1017.9 L447.5,1021.7 L450.0,1021.8 L452.5,1021.1 L455.0,1018.3 L457.5,1017.2 L460.0,1021.1 L462.5,1017.8 L465.0,1018.0 L467.5,1019.2 L470.0,1018.1 L472.5,1021.2 L475.0,1017.7 L477.5,1016.8 L480.0,1020.5 L482.5,1021.3 L485.0,1022.9 L487.5,1022.6 L490.0,1024.2 L492.5,1024.7 L495.0,1022.0 L497.5,1022.2 L500.0,1020.0 L502.5,1020.8 L505.0,1022.4 L507.5,1019.0 L510.0,1022.5 L512.5,1018.9 L515.0,1020.3 L517.5,1023.4 L520.0,1017.5 L522.5,1016.9 L525.0,1019.3 L527.5,1017.7 L530.0,1021.1 L532.5,1016.6 L535.0,1022.1 L537.5,1022.4 L540.0,1022.3 L542.5,1020.2 L545.0,1019.6 L547.5,1022.2 L550.0,1021.5 L552.5,1021.0 L555.0,1020.5 L557.5,1021.0 L560.0,1022.3 L562.5,1023.1 L565.0,1023.4 L567.5,1018.3 L570.0,1018.9 L572.5,1019.6 L575.0,1020.1 L577.5,1018.6 L580.0,1017.5 L582.5,1016.8 L585.0,1018.4 L587.5,1019.5 L590.0,1023.1 L592.5,1023.0 L595.0,1023.1 L597.5,1024.2 L600.0,1024.5 L602.5,1022.7 L605.0,1024.1 L607.6,1019.5 L610.1,1023.5 L612.6,1023.0 L615.1,1020.9 L617.7,1022.4 L620.2,1024.5 L622.7,1021.2 L625.2,1021.8 L627.8,1019.2 L630.3,1019.1 L632.8,1022.2 L635.3,1016.5 L637.8,1017.3 L640.4,1020.3 L642.9,1018.8 L645.4,1016.5 L647.9,1020.3 L650.5,1018.7 L653.0,1020.2 L655.5,1019.3 L658.0,1020.2 L660.5,1020.5 L663.1,1019.5 L665.6,1017.7 L668.1,1017.9 L670.6,1022.3 L673.2,1019.8 L675.7,1016.6 L678.2,1020.9 L680.7,1016.6 L683.2,1015.1 L685.8,1017.4 L688.3,1015.2 L690.8,1016.4 L693.3,1016.6 L695.9,1014.3 L698.4,1016.5 L700.9,1013.6 L703.4,1016.3 L706.0,1017.0 L708.5,1014.0 L711.0,1016.4 L713.6,1014.5 L716.1,1017.0 L718.7,1019.8 L721.2,1017.9 L723.8,1018.9 L726.3,1019.1 L728.9,1014.8 L731.4,1020.1 L734.0,1018.1 L736.6,1013.7 L739.1,1018.0 L741.7,1014.8 L744.2,1013.0 L746.8,1017.8 L749.3,1015.0 L751.9,1016.2 L754.4,1012.1 L757.0,1016.2 L759.6,1011.7 L762.1,1013.1 L764.7,1014.1 L767.2,1012.1 L769.8,1016.0 L772.3,1013.7 L774.9,1014.4 L777.4,1017.0 L780.0,1015.1 L782.5,1018.0 L785.0,1016.0 L787.6,1017.3 L790.1,1014.9 L792.6,1016.8 L795.1,1016.0 L797.6,1011.0 L800.2,1014.3 L802.7,1011.3 L805.2,1013.7 L807.7,1012.9 L810.2,1013.7 L812.8,1009.1 L815.3,1010.7 L817.8,1013.1 L820.3,1014.6 L822.8,1013.4 L825.4,1009.2 L827.9,1013.0 L830.4,1009.9 L832.9,1012.8 L835.4,1014.4 L838.0,1009.9 L840.5,1014.9 L843.0,1013.1 L845.5,1010.1 L848.0,1009.3 L850.6,1010.5 L853.1,1012.6 L855.6,1010.6 L858.1,1007.3 L860.6,1006.4 L863.2,1006.9 L865.7,1011.2 L868.2,1007.3 L870.7,1009.8 L873.2,1008.3 L875.8,1011.1 L878.3,1009.5 L880.8,1008.3 L883.3,1013.3 L885.8,1011.4 L888.4,1012.6 L890.9,1013.5 L893.4,1014.5 L895.9,1008.5 L898.4,1010.4 L901.0,1009.0 L903.5,1010.9 L906.0,1012.9 L908.5,1012.0 L911.0,1006.7 L913.5,1007.2 L916.0,1010.9 L918.5,1009.7 L921.0,1007.6 L923.5,1008.0 L926.0,1005.9 L928.5,1010.3 L931.0,1007.5 L933.5,1010.7 L936.0,1009.1 L938.5,1005.8 L941.0,1007.6 L943.5,1006.9 L946.0,1011.2 L948.5,1009.1 L951.0,1005.4 L953.5,1006.0 L956.0,1006.8 L958.5,1007.0 L961.0,1007.2 L963.5,1005.5 L966.0,1004.7 L968.5,1001.9 L971.0,1005.1 L973.5,1003.1 L976.0,1000.8 L978.5,1003.3 L981.0,1006.6 L983.5,1000.5 L986.0,1001.2 L988.5,1004.7 L991.0,1002.3 L993.5,1002.5 L996.0,1004.1 L998.5,1002.7 L1001.0,1004.8 L1003.5,1004.6 L1006.0,1007.3 L1008.5,1007.4 L1011.0,1001.1 L1013.5,1004.2 L1016.0,1005.2 L1018.5,1005.5 L1021.0,1004.4 L1023.5,1003.1 L1026.0,1002.8 L1028.5,1000.7 L1031.0,999.9 L1033.5,1003.0 L1036.0,1003.5 L1038.5,1003.9 L1041.1,1002.3 L1043.7,1000.1 L1046.2,1003.3 L1048.8,1003.3 L1051.3,1002.1 L1053.8,1003.1 L1056.4,1001.5 L1059.0,1002.8 L1061.5,1001.9 L1064.0,999.6 L1066.6,1001.1 L1069.2,1000.7 L1071.7,1004.6 L1074.2,1000.9 L1076.8,999.7 L1079.3,998.3 L1081.9,997.8 L1084.5,998.0 L1087.0,996.3 L1089.5,995.1 L1092.1,1000.4 L1094.7,997.6 L1097.2,997.5 L1099.8,998.3 L1102.3,996.6 L1104.8,995.9 L1107.4,995.4 L1110.0,997.0 L1112.5,997.1 L1115.0,999.8 L1117.6,998.6 L1120.2,1000.9 L1122.7,996.8 L1125.2,1000.2 L1127.8,997.7 L1130.3,994.0 L1132.9,994.2 L1135.5,996.3 L1138.0,998.4 L1140.5,993.8 L1143.0,995.9 L1145.5,993.3 L1148.0,995.7 L1150.5,990.4 L1153.0,992.9 L1155.5,995.5 L1158.0,991.5 L1160.5,991.4 L1163.0,990.0 L1165.5,991.0 L1168.0,991.7 L1170.5,994.5 L1173.0,991.3 L1175.5,992.3 L1178.0,990.7 L1180.5,993.0 L1183.0,994.2 L1185.5,992.3 L1188.0,988.9 L1190.5,991.2 L1193.0,991.6 L1195.5,988.2 L1198.0,983.9 L1200.5,987.6 L1203.0,987.1 L1205.5,982.9 L1208.0,980.9 L1210.5,980.6 L1213.0,982.2 L1215.5,983.8 L1218.0,981.8 L1220.5,983.1 L1223.0,978.1 L1225.5,978.2 L1228.0,980.3 L1230.5,978.9 L1233.0,976.5 L1235.5,977.4 L1238.0,974.2 L1240.5,971.9 L1243.0,973.6 L1245.5,970.7 L1248.0,973.8 L1250.5,971.3 L1253.0,971.8 L1255.5,971.9 L1258.0,969.3 L1260.5,970.3 L1263.0,967.2 L1265.5,972.9 L1268.0,970.5 L1270.5,973.2 L1273.0,967.4 L1275.5,971.0 L1278.0,971.9 L1280.5,969.4 L1283.0,968.0 L1285.5,968.4 L1288.0,968.2 L1290.5,972.0 L1293.0,967.3 L1295.5,971.5 L1298.0,968.5 L1300.5,968.7 L1303.0,968.5 L1305.5,967.7 L1308.0,967.8 L1310.5,966.9 L1313.0,964.8 L1315.5,967.1 L1318.0,963.7 L1320.5,966.4 L1323.0,966.7 L1325.5,966.7 L1328.0,963.8 L1330.5,966.9 L1333.0,968.3 L1335.5,965.0 L1338.0,963.9 L1340.5,965.9 L1343.0,969.0 L1345.5,964.1 L1348.0,963.4 L1350.5,966.5 L1353.0,967.6 L1355.5,968.3 L1358.0,965.5 L1360.5,969.4 L1363.0,964.3 L1365.5,967.5 L1368.0,963.1 L1370.5,962.7 L1373.0,963.4 L1375.5,963.0 L1378.0,966.0 L1380.5,966.6 L1383.0,964.6 L1385.5,969.8 L1388.0,966.6 L1390.5,965.6 L1393.0,966.1 L1395.5,970.0 L1398.0,971.5 L1400.5,966.8 L1403.0,966.0 L1405.5,970.8 L1408.0,967.3 L1410.5,971.9 L1413.0,968.6 L1415.5,969.3 L1418.0,967.2 L1420.5,969.9 L1423.0,967.5 L1425.5,966.5 L1428.0,970.2 L1430.5,965.2 L1433.0,969.4 L1435.5,965.4 L1438.0,969.5 L1440.6,968.6 L1443.2,972.2 L1445.9,967.8 L1448.5,971.7 L1451.1,971.4 L1453.8,975.3 L1456.4,976.0 L1459.0,974.4 L1461.6,972.2 L1464.2,972.7 L1466.9,972.9 L1469.5,974.1 L1472.1,972.8 L1474.8,972.7 L1477.4,976.3 L1480.0,975.6 L1482.5,973.8 L1485.0,978.6 L1487.5,974.1 L1490.0,977.0 L1492.5,975.0 L1495.0,980.2 L1497.5,981.0 L1500.0,978.0 L1502.5,981.9 L1505.0,983.2 L1507.5,980.5 L1510.0,981.5 L1512.5,983.1 L1515.0,986.2 L1517.5,982.0 L1520.0,985.6 L1522.5,985.3 L1525.0,984.6 L1527.5,985.5 L1530.0,987.5 L1532.5,983.3 L1535.0,987.8 L1537.5,984.6 L1540.0,987.5 L1542.5,988.4 L1545.0,984.4 L1547.5,989.2 L1550.0,990.5 L1552.5,986.7 L1555.0,985.6 L1557.5,986.9 L1560.0,993.1 L1562.5,987.7 L1565.0,994.1 L1567.5,989.9 L1570.0,994.2 L1572.5,990.6 L1575.0,991.5 L1577.5,995.1 L1580.0,991.5 L1582.5,992.9 L1585.0,996.4 L1587.5,994.9 L1590.0,995.7 L1592.5,996.2 L1595.0,990.0 L1597.5,991.3 L1600.0,994.9 L1602.5,994.4 L1605.0,990.5 L1607.5,993.8 L1610.0,992.4 L1612.5,994.1 L1615.0,992.5 L1617.5,992.4 L1620.0,999.0 L1622.5,995.1 L1625.0,999.0 L1627.5,994.3 L1630.0,996.7 L1632.5,995.2 L1635.0,997.7 L1637.5,996.6 L1640.0,1000.3 L1642.5,997.3 L1645.0,1001.5 L1647.5,1000.4 L1650.0,998.4 L1652.5,1000.4 L1655.0,1001.9 L1657.5,1004.6 L1660.0,1001.0 L1662.5,1000.3 L1665.0,1005.3 L1667.5,1005.1 L1670.0,1004.4 L1672.5,1001.8 L1675.0,1001.5 L1677.5,1002.3 L1680.0,1001.3 L1682.5,1001.2 L1685.0,1004.3 L1687.5,1003.6 L1690.0,1004.4 L1692.5,1002.9 L1695.0,1000.4 L1697.5,1004.5 L1700.0,1003.9 L1702.5,1002.9 L1705.0,1002.7 L1707.5,1003.4 L1710.0,1005.1 L1712.5,1004.4 L1715.0,1003.4 L1717.5,1001.5 L1720.0,1001.5 L1722.5,1002.6 L1725.0,1006.7 L1727.5,1003.6 L1730.0,1004.2 L1732.5,1004.9 L1735.0,1003.8 L1737.5,1009.7 L1740.0,1003.8 L1742.5,1008.0 L1745.0,1010.3 L1747.5,1006.1 L1750.0,1008.5 L1752.5,1007.0 L1755.0,1006.1 L1757.5,1005.9 L1760.0,1005.3 L1762.5,1010.0 L1765.0,1009.8 L1767.5,1010.7 L1770.0,1005.5 L1772.5,1009.9 L1775.0,1008.0 L1777.5,1010.5 L1780.0,1010.4 L1782.5,1009.5 L1785.0,1014.3 L1787.5,1008.7 L1790.0,1014.0 L1792.5,1015.1 L1795.0,1013.3 L1797.5,1014.2 L1800.0,1016.9 L1802.5,1012.2 L1805.0,1014.7 L1807.5,1015.3 L1810.0,1012.8 L1812.5,1014.7 L1815.0,1012.4 L1817.5,1013.1 L1820.0,1013.5 L1822.5,1013.8 L1825.0,1011.5 L1827.5,1013.5 L1830.0,1013.2 L1832.5,1011.4 L1835.0,1014.2 L1837.5,1012.4 L1840.0,1016.9 L1842.5,1014.6 L1845.0,1016.6 L1847.5,1015.8 L1850.0,1015.8 L1852.5,1014.5 L1855.0,1014.2 L1857.5,1019.7 L1860.1,1017.6 L1862.6,1017.9 L1865.2,1018.2 L1867.7,1020.3 L1870.3,1016.8 L1872.8,1016.7 L1875.4,1021.1 L1877.9,1019.2 L1880.5,1020.8 L1883.0,1022.5" fill="none" stroke="#ff00ff" stroke-width="12" stroke-linecap="round" stroke-linejoin="round"/>
<path d="M291.0,1026.2 L293.5,1023.5 L296.0,1024.6 L298.6,1026.1 L301.1,1026.0 L303.6,1023.8 L306.1,1023.9 L308.6,1024.2 L311.1,1023.7 L313.7,1024.5 L316.2,1026.0 L318.7,1025.1 L321.2,1024.8 L323.7,1023.7 L326.3,1024.7 L328.8,1026.6 L331.3,1025.6 L333.8,1024.8 L336.3,1024.9 L338.8,1026.0 L341.4,1025.8 L343.9,1023.9 L346.4,1025.6 L348.9,1024.6 L351.4,1025.1 L354.0,1024.2 L356.5,1024.6 L359.0,1024.5 L361.5,1024.6 L364.0,1023.5 L366.5,1024.0 L369.1,1025.2 L371.6,1023.6 L374.1,1024.0 L376.6,1025.7 L379.1,1024.3 L381.7,1024.4 L384.2,1024.2 L386.7,1026.1 L389.2,1023.7 L391.7,1025.4 L394.2,1026.1 L396.8,1024.0 L399.3,1024.8 L401.8,1025.9 L404.3,1025.4 L406.8,1024.6 L409.3,1023.5 L411.9,1024.8 L414.4,1024.6 L416.9,1025.7 L419.4,1024.3 L421.9,1024.7 L424.5,1025.5 L427.0,1026.0 L429.5,1024.5 L432.0,1024.6 L434.5,1025.3 L437.0,1026.4 L439.6,1024.0 L442.1,1026.5 L444.6,1025.7 L447.1,1024.6 L449.6,1025.5 L452.2,1024.5 L454.7,1023.6 L457.2,1025.8 L459.7,1024.6 L462.2,1025.1 L464.7,1025.0 L467.3,1026.3 L469.8,1025.8 L472.3,1023.5 L474.8,1025.3 L477.3,1024.9 L479.9,1024.9 L482.4,1026.1 L484.9,1024.7 L487.4,1024.9 L489.9,1026.2 L492.4,1024.8 L495.0,1025.0 L497.5,1025.0 L500.0,1026.0 L502.5,1025.5 L505.0,1025.7 L507.5,1024.5 L510.0,1023.3 L512.5,1025.3 L515.0,1024.9 L517.5,1025.5 L520.0,1025.4 L522.5,1023.3 L525.0,1023.6 L527.5,1023.1 L530.0,1025.4 L532.5,1023.0 L535.0,1022.9 L537.5,1025.0 L540.0,1024.4 L542.5,1022.7 L545.0,1024.6 L547.5,1024.7 L550.0,1023.9 L552.5,1022.5 L555.0,1024.5 L557.5,1023.5 L560.0,1024.0 L562.5,1025.3 L565.0,1024.6 L567.5,1024.8 L570.0,1022.4 L572.5,1022.9 L575.0,1023.5 L577.5,1021.8 L580.0,1024.9 L582.5,1022.5 L585.0,1022.5 L587.5,1022.6 L590.0,1022.3 L592.5,1024.2 L595.0,1023.2 L597.4,1022.2 L599.9,1021.0 L602.3,1019.0 L604.7,1018.9 L607.1,1019.9 L609.6,1018.8 L612.0,1018.1 L614.5,1016.3 L617.1,1016.2 L619.6,1015.8 L622.2,1017.5 L624.7,1017.1 L627.3,1017.4 L629.8,1017.6 L632.4,1018.0 L634.9,1017.4 L637.5,1018.9 L640.0,1017.0 L642.5,1020.0 L645.0,1019.4 L647.5,1018.4 L650.0,1019.9 L652.5,1021.2 L655.0,1021.5 L657.5,1022.6 L660.0,1022.4 L662.5,1022.3 L665.0,1023.9 L667.5,1022.3 L670.0,1023.7 L672.5,1024.0 L675.0,1023.3 L677.5,1022.9 L680.0,1024.4 L682.5,1022.8 L685.0,1024.2 L687.5,1021.6 L690.0,1022.8 L692.5,1023.4 L695.0,1021.6 L697.5,1024.2 L700.0,1021.6 L702.5,1023.3 L705.0,1022.0 L707.5,1024.4 L710.0,1023.2 L712.5,1024.0 L715.0,1023.0 L717.5,1023.6 L720.0,1023.6 L722.5,1022.3 L725.0,1022.1 L727.5,1024.1 L730.0,1021.9 L732.5,1024.3 L735.0,1022.1 L737.5,1021.7 L740.0,1021.7 L742.5,1023.9 L745.0,1024.4 L747.5,1022.7 L750.0,1023.5 L752.5,1022.2 L755.0,1024.3 L757.5,1023.6 L760.0,1021.9 L762.5,1021.6 L765.0,1023.6 L767.5,1021.5 L770.0,1024.1 L772.5,1022.3 L775.0,1022.1 L777.5,1023.3 L780.0,1022.4 L782.5,1023.1 L785.0,1021.8 L787.6,1024.1 L790.1,1022.2 L792.6,1023.8 L795.1,1021.5 L797.6,1023.6 L800.2,1024.1 L802.7,1022.1 L805.2,1020.9 L807.7,1022.0 L810.2,1022.8 L812.8,1021.4 L815.3,1022.3 L817.8,1020.8 L820.3,1022.0 L822.8,1022.7 L825.3,1021.7 L827.9,1022.5 L830.4,1020.6 L832.9,1022.8 L835.4,1020.5 L837.9,1023.0 L840.5,1023.2 L843.0,1023.0 L845.5,1021.6 L848.0,1020.8 L850.5,1020.9 L853.1,1022.1 L855.6,1021.3 L858.1,1022.6 L860.6,1019.9 L863.1,1021.0 L865.7,1022.2 L868.2,1021.3 L870.7,1021.1 L873.2,1019.5 L875.7,1019.7 L878.2,1020.0 L880.8,1022.0 L883.3,1021.7 L885.8,1019.7 L888.3,1021.9 L890.8,1019.0 L893.4,1020.7 L895.9,1021.8 L898.4,1019.8 L900.9,1021.7 L903.4,1020.7 L906.0,1018.7 L908.5,1019.5 L911.0,1019.8 L913.5,1019.1 L916.0,1020.5 L918.5,1018.6 L921.0,1020.4 L923.5,1018.8 L926.0,1017.9 L928.5,1019.3 L931.0,1017.7 L933.5,1019.1 L936.0,1019.7 L938.5,1019.0 L941.0,1018.4 L943.5,1016.9 L946.0,1018.4 L948.5,1016.9 L951.0,1018.5 L953.5,1016.8 L956.0,1018.1 L958.5,1017.2 L961.0,1017.2 L963.5,1018.0 L966.0,1016.3 L968.5,1016.2 L971.0,1018.5 L973.5,1016.5 L976.0,1018.0 L978.5,1018.0 L981.0,1016.6 L983.5,1015.4 L986.0,1015.1 L988.5,1017.5 L991.0,1014.9 L993.5,1016.0 L996.0,1016.0 L998.5,1014.6 L1001.0,1015.6 L1003.5,1014.5 L1006.0,1015.6 L1008.5,1015.3 L1011.0,1014.8 L1013.5,1014.1 L1016.0,1014.7 L1018.5,1013.9 L1021.0,1013.5 L1023.5,1013.8 L1026.0,1015.7 L1028.5,1014.4 L1031.0,1015.5 L1033.5,1012.6 L1036.0,1015.4 L1038.5,1013.9 L1041.1,1014.9 L1043.7,1014.1 L1046.2,1014.5 L1048.8,1012.9 L1051.3,1014.6 L1053.8,1012.6 L1056.4,1012.9 L1059.0,1012.2 L1061.5,1013.3 L1064.0,1013.6 L1066.6,1012.9 L1069.2,1014.8 L1071.7,1012.1 L1074.2,1013.7 L1076.8,1012.5 L1079.3,1013.7 L1081.9,1014.2 L1084.5,1014.0 L1087.0,1011.8 L1089.5,1012.4 L1092.1,1013.5 L1094.7,1014.7 L1097.2,1011.6 L1099.8,1013.4 L1102.3,1013.6 L1104.8,1014.0 L1107.4,1012.4 L1110.0,1013.9 L1112.5,1012.8 L1115.0,1014.2 L1117.6,1011.2 L1120.2,1014.2 L1122.7,1012.4 L1125.2,1012.4 L1127.8,1011.3 L1130.3,1011.8 L1132.9,1013.3 L1135.5,1013.1 L1138.0,1011.4 L1140.5,1011.8 L1143.0,1010.8 L1145.5,1010.8 L1148.0,1010.6 L1150.5,1010.7 L1153.0,1012.5 L1155.5,1012.3 L1158.0,1011.4 L1160.5,1010.2 L1163.0,1010.0 L1165.5,1010.6 L1168.0,1010.8 L1170.5,1010.1 L1173.0,1009.4 L1175.5,1007.8 L1178.0,1008.9 L1180.5,1009.4 L1183.0,1008.9 L1185.5,1006.4 L1188.0,1008.2 L1190.5,1006.8 L1193.0,1005.9 L1195.5,1008.2 L1198.0,1007.1 L1200.5,1007.0 L1203.0,1004.8 L1205.5,1006.8 L1208.0,1006.9 L1210.5,1006.5 L1213.0,1005.8 L1215.5,1005.8 L1218.0,1005.5 L1220.5,1004.5 L1223.0,1003.8 L1225.5,1004.8 L1228.0,1004.4 L1230.5,1004.4 L1233.0,1002.4 L1235.5,1004.2 L1238.0,1002.6 L1240.5,1003.7 L1243.0,1000.8 L1245.5,1003.3 L1248.0,1002.5 L1250.5,1000.5 L1253.0,1002.2 L1255.5,1000.0 L1258.0,999.6 L1260.5,1000.2 L1263.0,999.3 L1265.5,999.9 L1268.0,1001.0 L1270.5,1000.0 L1273.0,999.8 L1275.5,998.6 L1278.0,999.6 L1280.5,999.4 L1283.0,998.8 L1285.5,999.4 L1288.0,998.8 L1290.5,997.2 L1293.0,996.0 L1295.5,997.5 L1298.0,997.9 L1300.5,996.0 L1303.0,996.6 L1305.5,997.2 L1308.0,996.8 L1310.5,994.0 L1313.0,995.3 L1315.5,993.6 L1318.0,993.7 L1320.5,995.7 L1323.0,994.2 L1325.5,994.5 L1328.0,993.8 L1330.5,993.2 L1333.0,992.6 L1335.5,992.8 L1338.0,994.1 L1340.5,993.5 L1343.0,992.5 L1345.5,992.0 L1348.0,992.7 L1350.5,994.1 L1353.0,993.4 L1355.5,994.2 L1358.0,994.8 L1360.5,992.7 L1363.0,994.6 L1365.5,992.6 L1368.0,995.2 L1370.5,993.3 L1373.0,993.7 L1375.5,996.0 L1378.0,994.2 L1380.5,993.8 L1383.0,996.0 L1385.5,995.3 L1388.0,996.3 L1390.5,995.0 L1393.0,995.7 L1395.5,997.6 L1398.0,996.5 L1400.5,998.4 L1403.0,996.3 L1405.5,998.7 L1408.0,996.9 L1410.5,998.5 L1413.0,997.2 L1415.5,998.1 L1418.0,1000.9 L1420.5,999.7 L1423.0,1001.2 L1425.5,999.8 L1428.0,1000.5 L1430.5,1000.1 L1433.0,1001.9 L1435.5,1003.3 L1438.0,1002.5 L1440.6,1002.2 L1443.2,1004.1 L1445.9,1004.0 L1448.5,1003.4 L1451.1,1001.6 L1453.8,1003.5 L1456.4,1003.0 L1459.0,1004.7 L1461.6,1002.9 L1464.2,1004.0 L1466.9,1004.0 L1469.5,1003.2 L1472.1,1003.8 L1474.8,1004.4 L1477.4,1005.2 L1480.0,1004.0 L1482.5,1003.9 L1485.1,1006.3 L1487.6,1003.7 L1490.2,1006.6 L1492.7,1006.5 L1495.2,1006.5 L1497.8,1006.5 L1500.3,1007.9 L1502.8,1008.7 L1505.4,1008.6 L1507.9,1009.0 L1510.5,1007.1 L1513.0,1008.4 L1515.6,1008.0 L1518.2,1010.7 L1520.7,1010.7 L1523.3,1008.4 L1525.9,1010.0 L1528.5,1010.1 L1531.0,1008.5 L1533.6,1009.7 L1536.2,1011.0 L1538.8,1010.8 L1541.3,1009.8 L1543.9,1011.5 L1546.5,1010.1 L1549.1,1011.0 L1551.7,1010.8 L1554.2,1012.7 L1556.8,1011.8 L1559.4,1012.4 L1562.0,1012.1 L1564.5,1011.3 L1567.1,1013.3 L1569.7,1012.6 L1572.3,1012.7 L1574.8,1011.5 L1577.4,1011.3 L1580.0,1012.7 L1582.5,1013.6 L1585.0,1013.6 L1587.5,1012.2 L1590.0,1011.6 L1592.5,1012.9 L1595.0,1014.1 L1597.5,1011.9 L1600.0,1013.8 L1602.5,1012.0 L1605.0,1012.5 L1607.5,1011.8 L1610.0,1012.6 L1612.5,1012.9 L1615.0,1014.9 L1617.5,1014.9 L1620.0,1012.5 L1622.5,1013.0 L1625.0,1015.0 L1627.5,1012.7 L1630.0,1013.2 L1632.5,1013.6 L1635.0,1012.6 L1637.5,1013.2 L1640.0,1013.7 L1642.5,1013.7 L1645.0,1015.6 L1647.5,1013.4 L1650.0,1013.3 L1652.5,1015.6 L1655.0,1014.2 L1657.5,1015.5 L1660.0,1014.9 L1662.5,1015.5 L1665.0,1014.0 L1667.5,1013.6 L1670.0,1015.6 L1672.5,1014.7 L1675.0,1015.1 L1677.5,1015.5 L1680.0,1015.8 L1682.5,1014.3 L1685.0,1014.7 L1687.5,1016.5 L1690.0,1015.3 L1692.5,1014.6 L1695.0,1015.8 L1697.5,1014.7 L1700.0,1016.4 L1702.5,1014.1 L1705.0,1016.7 L1707.5,1015.9 L1710.0,1015.3 L1712.5,1017.2 L1715.0,1015.1 L1717.5,1015.1 L1720.0,1014.6 L1722.5,1016.2 L1725.0,1016.9 L1727.5,1016.8 L1730.0,1016.0 L1732.5,1017.3 L1735.0,1015.1 L1737.5,1015.8 L1740.0,1017.0 L1742.5,1018.1 L1745.0,1017.1 L1747.5,1017.3 L1750.0,1017.6 L1752.5,1016.5 L1755.0,1018.3 L1757.5,1017.7 L1760.0,1016.5 L1762.5,1016.7 L1765.0,1018.1 L1767.5,1016.7 L1770.0,1016.2 L1772.5,1018.5 L1775.0,1017.5 L1777.5,1017.5 L1780.0,1018.0 L1782.5,1018.8 L1785.1,1016.5 L1787.7,1017.2 L1790.2,1016.4 L1792.8,1017.5 L1795.3,1017.9 L1797.8,1019.1 L1800.4,1018.5 L1803.0,1018.3 L1805.5,1017.8 L1808.0,1018.4 L1810.6,1017.5 L1813.2,1019.4 L1815.7,1019.3 L1818.2,1019.5 L1820.8,1017.4 L1823.3,1019.1 L1825.9,1019.4 L1828.5,1018.7 L1831.0,1020.0 L1833.5,1020.1 L1836.1,1019.7 L1838.7,1020.0 L1841.2,1019.5 L1843.8,1020.3 L1846.3,1017.9 L1848.8,1019.8 L1851.4,1019.9 L1854.0,1019.7 L1856.5,1018.7 L1859.0,1018.1 L1861.6,1019.8 L1864.2,1020.6 L1866.7,1018.9 L1869.2,1018.8 L1871.8,1018.9 L1874.3,1018.5 L1876.9,1020.4 L1879.5,1021.5 L1882.0,1021.0" fill="none" stroke="#ff8000" stroke-width="13" stroke-linecap="round" stroke-linejoin="round"/>
</g>
<g id="pb" clip-path="url(#cb)">
<path d="M289.9,1979.7 L290.6,1976.1 L291.4,1974.1 L292.1,1970.5 L292.8,1967.2 L293.4,1965.2 L293.9,1961.9 L294.4,1959.3 L295.0,1956.3 L295.6,1954.0 L296.1,1951.4 L296.6,1949.0 L297.2,1945.3 L298.0,1943.8 L298.9,1940.4 L299.7,1938.0 L300.5,1936.0 L301.3,1933.1 L302.2,1930.6 L303.0,1928.4 L303.9,1925.6 L304.8,1923.9 L305.7,1920.8 L306.6,1919.2 L307.6,1916.8 L308.5,1914.1 L309.4,1911.1 L310.3,1909.6 L311.0,1906.1 L311.6,1904.1 L312.3,1901.4 L312.9,1898.4 L313.6,1896.5 L314.2,1894.0 L314.9,1891.3 L315.5,1888.5 L316.2,1886.0 L317.1,1883.7 L318.0,1881.0 L318.8,1879.4 L319.7,1877.2 L320.6,1874.6 L321.4,1872.4 L322.2,1869.2 L323.0,1867.6 L323.8,1864.1 L324.6,1862.2 L325.4,1859.4 L326.2,1857.3 L327.0,1855.2 L327.8,1852.9 L328.6,1850.1 L329.4,1847.6 L330.4,1844.8 L331.4,1842.5 L332.3,1839.7 L333.3,1837.0 L334.3,1835.1 L335.3,1832.2 L336.2,1829.5 L337.2,1826.6 L338.2,1824.6 L339.2,1821.4 L340.1,1818.9 L341.1,1816.7 L342.1,1814.2 L343.0,1812.0 L344.0,1809.1 L345.0,1806.7 L345.9,1804.1 L346.9,1801.3 L347.8,1798.7 L348.8,1795.4 L349.7,1793.0 L350.6,1790.2 L351.5,1788.6 L352.4,1785.9 L353.4,1783.2 L354.3,1780.2 L355.2,1777.8 L356.1,1775.0 L357.0,1773.0 L358.0,1770.8 L358.9,1767.5 L359.8,1764.6 L360.7,1762.2 L361.6,1759.8 L362.5,1757.9 L363.4,1755.2 L364.3,1752.3 L365.2,1749.3 L366.2,1746.7 L367.1,1744.2 L368.0,1742.4 L368.9,1739.5 L369.7,1737.5 L370.6,1734.7 L371.4,1732.0 L372.2,1729.0 L373.1,1726.8 L373.9,1723.3 L374.8,1720.7 L375.6,1718.6 L376.4,1716.1 L377.2,1713.4 L378.1,1711.1 L378.9,1708.4 L380.0,1706.7 L381.1,1703.7 L382.3,1701.2 L383.4,1698.5 L384.2,1695.4 L385.0,1693.3 L385.7,1690.4 L386.5,1688.5 L387.3,1686.1 L388.2,1682.7 L389.1,1680.0 L389.9,1677.7 L390.8,1675.6 L391.7,1672.8 L392.7,1669.5 L393.6,1667.7 L394.6,1664.9 L395.6,1661.8 L396.6,1658.8 L397.6,1657.3 L398.6,1654.5 L399.6,1651.4 L400.6,1649.3 L401.6,1647.1 L402.6,1644.8 L403.6,1641.8 L404.6,1639.4 L405.6,1636.3 L406.5,1633.7 L407.3,1631.9 L408.1,1628.6 L409.0,1625.6 L410.0,1623.4 L410.9,1620.1 L411.9,1617.4 L412.9,1614.9 L414.1,1612.5 L415.4,1609.9 L416.6,1607.4 L417.9,1604.4 L419.3,1601.2 L420.7,1599.3 L422.1,1595.8 L423.1,1593.5 L424.1,1590.6 L425.0,1588.2 L426.0,1585.4 L427.0,1582.1 L428.1,1580.1 L429.2,1577.6 L430.3,1574.9 L431.4,1572.0 L432.5,1570.4 L433.6,1567.5 L434.7,1564.4 L435.9,1562.1 L437.0,1560.5 L438.1,1557.1 L439.1,1554.8 L440.0,1552.7 L441.0,1550.2 L441.9,1547.5 L442.9,1545.1 L443.9,1541.5 L444.9,1538.8 L445.8,1537.0 L446.8,1534.0 L447.8,1530.3 L449.2,1527.9 L450.6,1525.7 L452.0,1524.1 L453.4,1520.9 L454.8,1519.1 L456.2,1517.1 L457.5,1514.4 L458.9,1512.4 L460.3,1509.3 L461.7,1506.9 L462.9,1504.4 L464.0,1503.0 L465.2,1499.9 L466.4,1498.6 L467.5,1496.0 L468.7,1493.0 L470.2,1491.5 L471.7,1488.4 L473.2,1486.6 L474.6,1483.8 L476.1,1482.3 L477.6,1480.2 L479.1,1477.9 L480.4,1474.6 L481.7,1473.4 L483.0,1470.9 L484.2,1469.0 L485.5,1466.4 L486.8,1464.3 L488.3,1462.1 L489.7,1460.2 L491.2,1457.2 L492.6,1455.0 L494.1,1453.4 L495.5,1450.9 L497.0,1448.9 L498.4,1446.1 L499.9,1444.7 L501.3,1441.6 L502.7,1440.3 L504.1,1437.9 L505.6,1435.2 L507.0,1432.5 L508.5,1430.8 L510.0,1427.8 L511.5,1425.7 L513.1,1422.9 L514.6,1421.5 L516.1,1418.6 L517.6,1415.9 L519.3,1413.4 L520.9,1412.0 L522.6,1410.0 L524.3,1407.8 L526.0,1404.8 L527.6,1402.9 L529.3,1400.7 L531.2,1399.3 L533.2,1396.6 L535.1,1395.2 L537.1,1393.7 L539.0,1391.5 L541.0,1388.6 L543.5,1387.5 L546.0,1386.4 L548.5,1385.9 L551.0,1384.6 L553.5,1383.4 L556.0,1382.1 L558.5,1380.9 L561.0,1380.8 L563.5,1380.5 L566.0,1380.5 L568.6,1379.9 L571.1,1379.6 L573.6,1379.4 L576.1,1379.0 L578.6,1378.2 L581.1,1376.7 L583.6,1376.8 L586.2,1376.4 L588.7,1375.2 L591.2,1375.1 L593.7,1373.6 L596.2,1374.4 L598.7,1373.6 L601.2,1373.7 L603.7,1373.0 L606.2,1372.9 L608.7,1372.8 L611.2,1372.6 L613.7,1371.6 L616.1,1371.3 L618.5,1371.3 L621.0,1370.2 L624.1,1367.0 L628.0,1368.3 L630.5,1368.9 L633.0,1369.6 L635.5,1369.7 L638.0,1369.6 L640.5,1370.1 L642.8,1371.7 L645.2,1372.7 L647.5,1374.3 L649.9,1376.5 L652.2,1378.0 L654.4,1378.6 L656.6,1380.4 L658.8,1381.8 L661.0,1383.2 L663.2,1384.4 L665.4,1385.4 L667.6,1386.2 L669.8,1388.4 L672.3,1388.9 L674.8,1390.5 L677.3,1391.4 L679.9,1392.7 L682.4,1394.4 L684.9,1394.6 L687.4,1396.2 L689.4,1397.9 L691.3,1399.4 L693.2,1401.4 L695.2,1402.4 L697.1,1404.5 L699.1,1405.8 L700.7,1408.4 L702.2,1409.6 L703.8,1412.0 L705.4,1414.4 L706.9,1417.4 L708.5,1418.5 L710.1,1421.1 L711.6,1423.9 L713.2,1426.5 L714.8,1427.5 L716.4,1429.7 L718.1,1432.0 L719.7,1433.9 L721.3,1435.9 L722.9,1437.9 L724.6,1439.2 L726.2,1441.2 L727.8,1442.9 L729.4,1445.6 L731.0,1447.0 L732.7,1449.0 L734.3,1451.8 L735.9,1453.4 L737.5,1455.3 L739.2,1457.3 L740.8,1459.2 L742.4,1461.2 L744.3,1462.7 L746.2,1464.3 L748.1,1466.2 L750.0,1468.0 L751.9,1470.3 L753.8,1471.9 L755.6,1473.8 L757.5,1476.1 L759.4,1478.6 L761.3,1480.1 L763.2,1481.5 L765.1,1484.0 L767.0,1485.2 L768.7,1487.0 L770.5,1489.2 L772.2,1491.2 L774.0,1493.5 L775.7,1495.1 L777.4,1497.3 L779.2,1498.5 L780.9,1501.4 L782.6,1503.0 L784.4,1505.9 L786.1,1507.3 L787.8,1510.6 L789.6,1512.2 L791.3,1515.2 L793.0,1517.5 L794.8,1519.6 L796.5,1521.5 L798.2,1523.5 L800.0,1526.0 L801.7,1529.2 L803.1,1530.6 L804.5,1533.5 L805.9,1535.8 L807.3,1538.2 L808.7,1539.9 L810.1,1542.2 L811.6,1544.4 L813.1,1547.8 L814.6,1549.4 L816.1,1552.0 L817.6,1554.3 L819.1,1556.2 L820.3,1558.3 L821.4,1560.6 L822.6,1563.9 L823.8,1565.3 L824.9,1568.6 L826.1,1570.2 L827.6,1573.0 L829.1,1574.6 L830.6,1577.7 L832.1,1579.4 L833.6,1581.8 L835.1,1584.3 L836.3,1586.2 L837.4,1588.6 L838.6,1591.6 L839.8,1593.3 L840.9,1595.7 L842.1,1598.5 L843.5,1600.2 L844.9,1602.5 L846.2,1604.8 L847.6,1607.3 L849.0,1609.6 L850.4,1612.3 L851.5,1614.8 L852.6,1618.1 L853.8,1619.9 L854.9,1623.4 L856.0,1626.4 L857.4,1627.9 L858.8,1629.8 L860.2,1632.5 L861.6,1634.3 L863.0,1637.0 L864.4,1639.5 L865.8,1640.9 L867.2,1643.1 L868.6,1645.8 L870.0,1647.6 L871.9,1649.8 L873.7,1652.2 L875.6,1654.0 L877.4,1656.1 L879.3,1658.5 L881.1,1660.8 L883.0,1663.5 L884.3,1665.4 L885.6,1667.2 L886.9,1669.8 L888.2,1672.8 L889.4,1675.0 L890.7,1677.7 L892.0,1680.2 L893.3,1682.5 L894.6,1683.9 L896.1,1687.1 L897.5,1688.8 L899.0,1690.7 L900.5,1692.8 L902.0,1695.8 L903.4,1697.2 L904.9,1699.2 L906.4,1701.6 L907.8,1704.6 L909.3,1706.3 L910.5,1708.8 L911.7,1710.2 L912.9,1712.8 L914.2,1714.9 L915.4,1716.9 L916.6,1719.7 L917.8,1721.5 L919.0,1723.4 L920.2,1726.7 L921.5,1728.3 L922.7,1730.1 L923.9,1732.1 L925.1,1735.1 L926.3,1737.1 L927.5,1738.7 L928.8,1741.4 L930.0,1743.9 L931.2,1745.9 L932.4,1747.7 L933.6,1750.2 L934.9,1752.6 L936.1,1754.8 L937.3,1756.4 L938.5,1759.4 L940.1,1761.7 L941.7,1763.6 L943.3,1765.8 L944.9,1767.4 L946.5,1770.2 L948.1,1771.4 L949.7,1773.6 L951.3,1776.2 L952.9,1778.7 L954.5,1779.9 L956.1,1782.2 L957.6,1784.1 L959.0,1786.8 L960.5,1788.6 L962.0,1790.9 L963.4,1793.8 L964.9,1795.7 L966.4,1798.4 L967.8,1799.9 L969.3,1802.4 L970.8,1803.8 L972.2,1807.1 L973.7,1808.5 L975.2,1811.0 L976.6,1813.2 L978.1,1815.9 L979.5,1817.6 L981.0,1820.4 L982.5,1822.1 L983.9,1823.9 L985.4,1826.8 L986.8,1828.2 L988.3,1831.4 L989.7,1832.9 L991.2,1834.9 L992.6,1838.0 L993.9,1839.5 L995.3,1841.8 L996.6,1844.0 L998.0,1846.6 L999.3,1848.1 L1000.7,1850.8 L1002.0,1852.8 L1003.4,1855.8 L1004.7,1857.1 L1006.1,1860.0 L1007.4,1861.9 L1008.8,1864.3 L1010.3,1866.5 L1011.7,1868.8 L1013.2,1870.2 L1014.7,1872.4 L1016.1,1874.3 L1017.6,1877.4 L1019.1,1878.5 L1020.5,1880.6 L1022.0,1883.1 L1023.5,1885.2 L1024.9,1887.7 L1026.4,1888.8 L1027.7,1891.2 L1029.1,1893.4 L1030.4,1896.2 L1031.7,1898.3 L1033.0,1900.5 L1034.4,1903.3 L1035.7,1905.3 L1037.0,1907.8 L1038.3,1910.2 L1039.7,1911.7 L1041.0,1914.7 L1042.5,1916.3 L1043.9,1918.0 L1045.4,1921.3 L1046.8,1922.5 L1048.3,1924.6 L1049.8,1927.1 L1051.2,1929.3 L1052.7,1932.3 L1054.1,1934.4 L1055.6,1936.0 L1057.2,1938.4 L1058.8,1941.1 L1060.4,1943.4 L1062.0,1945.5 L1063.7,1947.6 L1065.3,1949.4 L1066.9,1951.9 L1068.5,1954.7 L1070.1,1956.7 L1071.8,1959.0 L1073.4,1961.1 L1075.0,1963.3 L1076.6,1964.4 L1078.3,1966.3 L1079.9,1969.4 L1081.5,1971.0 L1083.1,1972.6 L1084.8,1975.3 L1086.4,1976.8 L1087.7,1979.0 L1089.0,1981.3 L1090.3,1983.7 L1091.6,1986.0 L1092.9,1987.5 L1094.2,1990.4 L1095.5,1992.5 L1096.8,1994.5 L1098.7,1996.6 L1100.6,1998.6 L1102.4,1999.5 L1104.3,2002.0 L1106.2,2004.1 L1108.1,2006.0 L1110.0,2007.8 L1111.8,2009.1 L1113.7,2011.9 L1115.6,2013.6 L1117.5,2014.8 L1119.4,2016.9 L1121.2,2019.4 L1123.1,2020.4 L1125.0,2022.5 L1127.0,2025.1 L1129.0,2026.9 L1131.0,2028.0 L1133.0,2030.5 L1135.0,2031.9 L1137.0,2034.2 L1139.0,2036.2 L1141.0,2037.4 L1142.6,2039.5 L1144.2,2041.5 L1145.8,2043.6 L1147.4,2045.3 L1149.0,2047.4 L1150.6,2049.8 L1152.2,2051.8 L1153.8,2053.4 L1155.4,2056.0 L1157.0,2058.5 L1158.6,2060.0 L1160.2,2061.8 L1161.8,2064.2 L1163.4,2065.9 L1165.0,2067.6 L1166.7,2069.8 L1168.4,2071.2 L1170.1,2073.8 L1171.8,2075.1 L1173.5,2077.2 L1175.2,2079.8 L1176.9,2081.4 L1178.6,2083.3 L1180.3,2085.0 L1182.0,2086.8 L1183.7,2088.8 L1185.4,2091.0 L1187.1,2091.9 L1188.8,2094.5 L1190.5,2095.8 L1192.5,2097.4 L1194.6,2099.8 L1196.6,2101.3 L1198.7,2103.3 L1200.7,2105.1 L1202.8,2106.5 L1204.8,2107.7 L1206.9,2109.2 L1208.9,2111.6 L1211.0,2113.5 L1213.0,2114.7 L1214.9,2116.2 L1216.8,2117.9 L1218.8,2119.8 L1220.7,2122.2 L1222.6,2123.1 L1224.5,2125.1 L1226.5,2126.8 L1228.4,2129.1 L1230.3,2131.2 L1232.2,2131.7 L1234.2,2133.6 L1236.1,2136.3 L1238.0,2138.1 L1239.8,2138.9 L1241.6,2140.9 L1243.5,2143.0 L1245.3,2144.6 L1247.1,2146.5 L1248.9,2148.4 L1250.7,2149.9 L1252.5,2151.5 L1254.4,2153.4 L1256.2,2155.3 L1258.0,2157.0" fill="none" stroke="#000" stroke-width="9.0" stroke-linecap="round" stroke-linejoin="round"/>
<path d="M284.3,1979.8a5.8,5.8 0 1,0 11.6,0a5.8,5.8 0 1,0 -11.6,0M285.8,1971.7a5.8,5.8 0 1,0 11.6,0a5.8,5.8 0 1,0 -11.6,0M288.4,1962.6a5.8,5.8 0 1,0 11.6,0a5.8,5.8 0 1,0 -11.6,0M289.7,1953.9a5.8,5.8 0 1,0 11.6,0a5.8,5.8 0 1,0 -11.6,0M292.1,1946.0a5.8,5.8 0 1,0 11.6,0a5.8,5.8 0 1,0 -11.6,0M293.3,1937.3a5.8,5.8 0 1,0 11.6,0a5.8,5.8 0 1,0 -11.6,0M297.0,1929.5a5.8,5.8 0 1,0 11.6,0a5.8,5.8 0 1,0 -11.6,0M300.1,1921.2a5.8,5.8 0 1,0 11.6,0a5.8,5.8 0 1,0 -11.6,0M303.3,1914.1a5.8,5.8 0 1,0 11.6,0a5.8,5.8 0 1,0 -11.6,0M304.8,1905.6a5.8,5.8 0 1,0 11.6,0a5.8,5.8 0 1,0 -11.6,0M307.1,1897.5a5.8,5.8 0 1,0 11.6,0a5.8,5.8 0 1,0 -11.6,0M310.1,1889.4a5.8,5.8 0 1,0 11.6,0a5.8,5.8 0 1,0 -11.6,0M311.9,1880.2a5.8,5.8 0 1,0 11.6,0a5.8,5.8 0 1,0 -11.6,0M315.5,1872.9a5.8,5.8 0 1,0 11.6,0a5.8,5.8 0 1,0 -11.6,0M317.4,1864.1a5.8,5.8 0 1,0 11.6,0a5.8,5.8 0 1,0 -11.6,0M320.9,1855.8a5.8,5.8 0 1,0 11.6,0a5.8,5.8 0 1,0 -11.6,0M323.7,1847.9a5.8,5.8 0 1,0 11.6,0a5.8,5.8 0 1,0 -11.6,0M326.1,1840.0a5.8,5.8 0 1,0 11.6,0a5.8,5.8 0 1,0 -11.6,0M329.6,1832.4a5.8,5.8 0 1,0 11.6,0a5.8,5.8 0 1,0 -11.6,0M331.8,1824.3a5.8,5.8 0 1,0 11.6,0a5.8,5.8 0 1,0 -11.6,0M335.1,1815.5a5.8,5.8 0 1,0 11.6,0a5.8,5.8 0 1,0 -11.6,0M338.8,1808.0a5.8,5.8 0 1,0 11.6,0a5.8,5.8 0 1,0 -11.6,0M341.8,1800.2a5.8,5.8 0 1,0 11.6,0a5.8,5.8 0 1,0 -11.6,0M344.1,1791.2a5.8,5.8 0 1,0 11.6,0a5.8,5.8 0 1,0 -11.6,0M347.7,1783.0a5.8,5.8 0 1,0 11.6,0a5.8,5.8 0 1,0 -11.6,0M349.8,1774.8a5.8,5.8 0 1,0 11.6,0a5.8,5.8 0 1,0 -11.6,0M353.7,1767.7a5.8,5.8 0 1,0 11.6,0a5.8,5.8 0 1,0 -11.6,0M356.5,1759.8a5.8,5.8 0 1,0 11.6,0a5.8,5.8 0 1,0 -11.6,0M359.5,1750.6a5.8,5.8 0 1,0 11.6,0a5.8,5.8 0 1,0 -11.6,0M361.6,1743.2a5.8,5.8 0 1,0 11.6,0a5.8,5.8 0 1,0 -11.6,0M363.9,1734.9a5.8,5.8 0 1,0 11.6,0a5.8,5.8 0 1,0 -11.6,0M366.6,1725.9a5.8,5.8 0 1,0 11.6,0a5.8,5.8 0 1,0 -11.6,0M369.8,1717.9a5.8,5.8 0 1,0 11.6,0a5.8,5.8 0 1,0 -11.6,0M373.3,1711.0a5.8,5.8 0 1,0 11.6,0a5.8,5.8 0 1,0 -11.6,0M375.8,1701.8a5.8,5.8 0 1,0 11.6,0a5.8,5.8 0 1,0 -11.6,0M378.2,1694.0a5.8,5.8 0 1,0 11.6,0a5.8,5.8 0 1,0 -11.6,0M381.5,1685.5a5.8,5.8 0 1,0 11.6,0a5.8,5.8 0 1,0 -11.6,0M384.6,1677.7a5.8,5.8 0 1,0 11.6,0a5.8,5.8 0 1,0 -11.6,0M387.5,1668.9a5.8,5.8 0 1,0 11.6,0a5.8,5.8 0 1,0 -11.6,0M389.3,1661.1a5.8,5.8 0 1,0 11.6,0a5.8,5.8 0 1,0 -11.6,0M393.2,1652.9a5.8,5.8 0 1,0 11.6,0a5.8,5.8 0 1,0 -11.6,0M396.7,1644.8a5.8,5.8 0 1,0 11.6,0a5.8,5.8 0 1,0 -11.6,0M399.3,1637.1a5.8,5.8 0 1,0 11.6,0a5.8,5.8 0 1,0 -11.6,0M402.6,1629.4a5.8,5.8 0 1,0 11.6,0a5.8,5.8 0 1,0 -11.6,0M404.9,1620.7a5.8,5.8 0 1,0 11.6,0a5.8,5.8 0 1,0 -11.6,0M408.9,1613.4a5.8,5.8 0 1,0 11.6,0a5.8,5.8 0 1,0 -11.6,0M412.1,1604.3a5.8,5.8 0 1,0 11.6,0a5.8,5.8 0 1,0 -11.6,0M415.8,1597.4a5.8,5.8 0 1,0 11.6,0a5.8,5.8 0 1,0 -11.6,0M418.5,1588.4a5.8,5.8 0 1,0 11.6,0a5.8,5.8 0 1,0 -11.6,0M422.6,1581.7a5.8,5.8 0 1,0 11.6,0a5.8,5.8 0 1,0 -11.6,0M424.7,1573.1a5.8,5.8 0 1,0 11.6,0a5.8,5.8 0 1,0 -11.6,0M429.0,1565.0a5.8,5.8 0 1,0 11.6,0a5.8,5.8 0 1,0 -11.6,0M431.6,1557.8a5.8,5.8 0 1,0 11.6,0a5.8,5.8 0 1,0 -11.6,0M435.9,1549.1a5.8,5.8 0 1,0 11.6,0a5.8,5.8 0 1,0 -11.6,0M437.8,1540.8a5.8,5.8 0 1,0 11.6,0a5.8,5.8 0 1,0 -11.6,0M440.7,1533.6a5.8,5.8 0 1,0 11.6,0a5.8,5.8 0 1,0 -11.6,0M444.6,1524.8a5.8,5.8 0 1,0 11.6,0a5.8,5.8 0 1,0 -11.6,0M450.1,1517.1a5.8,5.8 0 1,0 11.6,0a5.8,5.8 0 1,0 -11.6,0M453.5,1509.7a5.8,5.8 0 1,0 11.6,0a5.8,5.8 0 1,0 -11.6,0M457.6,1502.9a5.8,5.8 0 1,0 11.6,0a5.8,5.8 0 1,0 -11.6,0M462.5,1494.7a5.8,5.8 0 1,0 11.6,0a5.8,5.8 0 1,0 -11.6,0M465.9,1488.4a5.8,5.8 0 1,0 11.6,0a5.8,5.8 0 1,0 -11.6,0M471.0,1480.5a5.8,5.8 0 1,0 11.6,0a5.8,5.8 0 1,0 -11.6,0M475.0,1473.0a5.8,5.8 0 1,0 11.6,0a5.8,5.8 0 1,0 -11.6,0M480.7,1465.3a5.8,5.8 0 1,0 11.6,0a5.8,5.8 0 1,0 -11.6,0M484.3,1459.1a5.8,5.8 0 1,0 11.6,0a5.8,5.8 0 1,0 -11.6,0M490.1,1452.2a5.8,5.8 0 1,0 11.6,0a5.8,5.8 0 1,0 -11.6,0M494.1,1445.0a5.8,5.8 0 1,0 11.6,0a5.8,5.8 0 1,0 -11.6,0M498.9,1436.6a5.8,5.8 0 1,0 11.6,0a5.8,5.8 0 1,0 -11.6,0M503.3,1429.9a5.8,5.8 0 1,0 11.6,0a5.8,5.8 0 1,0 -11.6,0M508.4,1421.6a5.8,5.8 0 1,0 11.6,0a5.8,5.8 0 1,0 -11.6,0M512.2,1415.6a5.8,5.8 0 1,0 11.6,0a5.8,5.8 0 1,0 -11.6,0M517.3,1408.6a5.8,5.8 0 1,0 11.6,0a5.8,5.8 0 1,0 -11.6,0M522.9,1400.9a5.8,5.8 0 1,0 11.6,0a5.8,5.8 0 1,0 -11.6,0M528.8,1395.2a5.8,5.8 0 1,0 11.6,0a5.8,5.8 0 1,0 -11.6,0M536.0,1388.6a5.8,5.8 0 1,0 11.6,0a5.8,5.8 0 1,0 -11.6,0M543.6,1385.2a5.8,5.8 0 1,0 11.6,0a5.8,5.8 0 1,0 -11.6,0M550.3,1382.3a5.8,5.8 0 1,0 11.6,0a5.8,5.8 0 1,0 -11.6,0M559.0,1379.6a5.8,5.8 0 1,0 11.6,0a5.8,5.8 0 1,0 -11.6,0M567.7,1379.5a5.8,5.8 0 1,0 11.6,0a5.8,5.8 0 1,0 -11.6,0M576.7,1377.2a5.8,5.8 0 1,0 11.6,0a5.8,5.8 0 1,0 -11.6,0M583.7,1375.3a5.8,5.8 0 1,0 11.6,0a5.8,5.8 0 1,0 -11.6,0M593.1,1374.3a5.8,5.8 0 1,0 11.6,0a5.8,5.8 0 1,0 -11.6,0M602.1,1372.8a5.8,5.8 0 1,0 11.6,0a5.8,5.8 0 1,0 -11.6,0M610.4,1372.1a5.8,5.8 0 1,0 11.6,0a5.8,5.8 0 1,0 -11.6,0M616.9,1367.5a5.8,5.8 0 1,0 11.6,0a5.8,5.8 0 1,0 -11.6,0M625.0,1368.3a5.8,5.8 0 1,0 11.6,0a5.8,5.8 0 1,0 -11.6,0M633.5,1369.6a5.8,5.8 0 1,0 11.6,0a5.8,5.8 0 1,0 -11.6,0M640.8,1375.0a5.8,5.8 0 1,0 11.6,0a5.8,5.8 0 1,0 -11.6,0M648.5,1379.0a5.8,5.8 0 1,0 11.6,0a5.8,5.8 0 1,0 -11.6,0M656.7,1383.7a5.8,5.8 0 1,0 11.6,0a5.8,5.8 0 1,0 -11.6,0M663.2,1388.4a5.8,5.8 0 1,0 11.6,0a5.8,5.8 0 1,0 -11.6,0M671.9,1392.2a5.8,5.8 0 1,0 11.6,0a5.8,5.8 0 1,0 -11.6,0M679.6,1395.5a5.8,5.8 0 1,0 11.6,0a5.8,5.8 0 1,0 -11.6,0M686.8,1399.6a5.8,5.8 0 1,0 11.6,0a5.8,5.8 0 1,0 -11.6,0M693.2,1405.1a5.8,5.8 0 1,0 11.6,0a5.8,5.8 0 1,0 -11.6,0M698.4,1411.6a5.8,5.8 0 1,0 11.6,0a5.8,5.8 0 1,0 -11.6,0M702.9,1419.0a5.8,5.8 0 1,0 11.6,0a5.8,5.8 0 1,0 -11.6,0M708.2,1426.0a5.8,5.8 0 1,0 11.6,0a5.8,5.8 0 1,0 -11.6,0M713.7,1433.4a5.8,5.8 0 1,0 11.6,0a5.8,5.8 0 1,0 -11.6,0M719.2,1438.8a5.8,5.8 0 1,0 11.6,0a5.8,5.8 0 1,0 -11.6,0M724.8,1446.3a5.8,5.8 0 1,0 11.6,0a5.8,5.8 0 1,0 -11.6,0M729.8,1452.8a5.8,5.8 0 1,0 11.6,0a5.8,5.8 0 1,0 -11.6,0M734.3,1459.7a5.8,5.8 0 1,0 11.6,0a5.8,5.8 0 1,0 -11.6,0M741.0,1465.2a5.8,5.8 0 1,0 11.6,0a5.8,5.8 0 1,0 -11.6,0M746.7,1471.8a5.8,5.8 0 1,0 11.6,0a5.8,5.8 0 1,0 -11.6,0M753.5,1478.0a5.8,5.8 0 1,0 11.6,0a5.8,5.8 0 1,0 -11.6,0M758.6,1483.2a5.8,5.8 0 1,0 11.6,0a5.8,5.8 0 1,0 -11.6,0M764.5,1489.1a5.8,5.8 0 1,0 11.6,0a5.8,5.8 0 1,0 -11.6,0M770.4,1495.3a5.8,5.8 0 1,0 11.6,0a5.8,5.8 0 1,0 -11.6,0M776.8,1502.1a5.8,5.8 0 1,0 11.6,0a5.8,5.8 0 1,0 -11.6,0M780.8,1508.8a5.8,5.8 0 1,0 11.6,0a5.8,5.8 0 1,0 -11.6,0M787.1,1516.0a5.8,5.8 0 1,0 11.6,0a5.8,5.8 0 1,0 -11.6,0M791.9,1523.2a5.8,5.8 0 1,0 11.6,0a5.8,5.8 0 1,0 -11.6,0M797.4,1531.2a5.8,5.8 0 1,0 11.6,0a5.8,5.8 0 1,0 -11.6,0M801.1,1538.0a5.8,5.8 0 1,0 11.6,0a5.8,5.8 0 1,0 -11.6,0M806.6,1545.1a5.8,5.8 0 1,0 11.6,0a5.8,5.8 0 1,0 -11.6,0M811.2,1552.7a5.8,5.8 0 1,0 11.6,0a5.8,5.8 0 1,0 -11.6,0M814.6,1560.2a5.8,5.8 0 1,0 11.6,0a5.8,5.8 0 1,0 -11.6,0M818.8,1566.6a5.8,5.8 0 1,0 11.6,0a5.8,5.8 0 1,0 -11.6,0M823.2,1575.1a5.8,5.8 0 1,0 11.6,0a5.8,5.8 0 1,0 -11.6,0M827.7,1581.7a5.8,5.8 0 1,0 11.6,0a5.8,5.8 0 1,0 -11.6,0M831.7,1589.8a5.8,5.8 0 1,0 11.6,0a5.8,5.8 0 1,0 -11.6,0M835.9,1596.4a5.8,5.8 0 1,0 11.6,0a5.8,5.8 0 1,0 -11.6,0M839.7,1604.1a5.8,5.8 0 1,0 11.6,0a5.8,5.8 0 1,0 -11.6,0M845.1,1612.0a5.8,5.8 0 1,0 11.6,0a5.8,5.8 0 1,0 -11.6,0M847.1,1620.4a5.8,5.8 0 1,0 11.6,0a5.8,5.8 0 1,0 -11.6,0M850.5,1627.8a5.8,5.8 0 1,0 11.6,0a5.8,5.8 0 1,0 -11.6,0M855.7,1635.2a5.8,5.8 0 1,0 11.6,0a5.8,5.8 0 1,0 -11.6,0M860.3,1641.4a5.8,5.8 0 1,0 11.6,0a5.8,5.8 0 1,0 -11.6,0M865.2,1649.7a5.8,5.8 0 1,0 11.6,0a5.8,5.8 0 1,0 -11.6,0M871.3,1655.5a5.8,5.8 0 1,0 11.6,0a5.8,5.8 0 1,0 -11.6,0M876.1,1662.6a5.8,5.8 0 1,0 11.6,0a5.8,5.8 0 1,0 -11.6,0M881.3,1669.2a5.8,5.8 0 1,0 11.6,0a5.8,5.8 0 1,0 -11.6,0M885.5,1678.1a5.8,5.8 0 1,0 11.6,0a5.8,5.8 0 1,0 -11.6,0M889.0,1684.6a5.8,5.8 0 1,0 11.6,0a5.8,5.8 0 1,0 -11.6,0M894.2,1692.7a5.8,5.8 0 1,0 11.6,0a5.8,5.8 0 1,0 -11.6,0M898.2,1698.8a5.8,5.8 0 1,0 11.6,0a5.8,5.8 0 1,0 -11.6,0M903.2,1706.7a5.8,5.8 0 1,0 11.6,0a5.8,5.8 0 1,0 -11.6,0M907.1,1713.9a5.8,5.8 0 1,0 11.6,0a5.8,5.8 0 1,0 -11.6,0M911.8,1721.5a5.8,5.8 0 1,0 11.6,0a5.8,5.8 0 1,0 -11.6,0M915.3,1729.5a5.8,5.8 0 1,0 11.6,0a5.8,5.8 0 1,0 -11.6,0M920.8,1736.3a5.8,5.8 0 1,0 11.6,0a5.8,5.8 0 1,0 -11.6,0M924.7,1743.2a5.8,5.8 0 1,0 11.6,0a5.8,5.8 0 1,0 -11.6,0M929.0,1751.2a5.8,5.8 0 1,0 11.6,0a5.8,5.8 0 1,0 -11.6,0M932.9,1759.2a5.8,5.8 0 1,0 11.6,0a5.8,5.8 0 1,0 -11.6,0M937.3,1766.2a5.8,5.8 0 1,0 11.6,0a5.8,5.8 0 1,0 -11.6,0M942.2,1771.6a5.8,5.8 0 1,0 11.6,0a5.8,5.8 0 1,0 -11.6,0M947.9,1779.9a5.8,5.8 0 1,0 11.6,0a5.8,5.8 0 1,0 -11.6,0M953.5,1787.0a5.8,5.8 0 1,0 11.6,0a5.8,5.8 0 1,0 -11.6,0M957.6,1794.0a5.8,5.8 0 1,0 11.6,0a5.8,5.8 0 1,0 -11.6,0M962.4,1799.9a5.8,5.8 0 1,0 11.6,0a5.8,5.8 0 1,0 -11.6,0M967.3,1808.0a5.8,5.8 0 1,0 11.6,0a5.8,5.8 0 1,0 -11.6,0M971.7,1814.8a5.8,5.8 0 1,0 11.6,0a5.8,5.8 0 1,0 -11.6,0M976.1,1821.4a5.8,5.8 0 1,0 11.6,0a5.8,5.8 0 1,0 -11.6,0M981.1,1828.9a5.8,5.8 0 1,0 11.6,0a5.8,5.8 0 1,0 -11.6,0M985.9,1835.4a5.8,5.8 0 1,0 11.6,0a5.8,5.8 0 1,0 -11.6,0M989.5,1843.1a5.8,5.8 0 1,0 11.6,0a5.8,5.8 0 1,0 -11.6,0M995.1,1851.1a5.8,5.8 0 1,0 11.6,0a5.8,5.8 0 1,0 -11.6,0M998.7,1857.6a5.8,5.8 0 1,0 11.6,0a5.8,5.8 0 1,0 -11.6,0M1003.6,1864.7a5.8,5.8 0 1,0 11.6,0a5.8,5.8 0 1,0 -11.6,0M1008.7,1872.9a5.8,5.8 0 1,0 11.6,0a5.8,5.8 0 1,0 -11.6,0M1013.1,1879.5a5.8,5.8 0 1,0 11.6,0a5.8,5.8 0 1,0 -11.6,0M1018.9,1886.8a5.8,5.8 0 1,0 11.6,0a5.8,5.8 0 1,0 -11.6,0M1023.5,1894.0a5.8,5.8 0 1,0 11.6,0a5.8,5.8 0 1,0 -11.6,0M1027.2,1901.6a5.8,5.8 0 1,0 11.6,0a5.8,5.8 0 1,0 -11.6,0M1032.6,1907.8a5.8,5.8 0 1,0 11.6,0a5.8,5.8 0 1,0 -11.6,0M1037.0,1915.8a5.8,5.8 0 1,0 11.6,0a5.8,5.8 0 1,0 -11.6,0M1040.4,1922.4a5.8,5.8 0 1,0 11.6,0a5.8,5.8 0 1,0 -11.6,0M1046.3,1930.5a5.8,5.8 0 1,0 11.6,0a5.8,5.8 0 1,0 -11.6,0M1050.1,1937.3a5.8,5.8 0 1,0 11.6,0a5.8,5.8 0 1,0 -11.6,0M1055.9,1945.3a5.8,5.8 0 1,0 11.6,0a5.8,5.8 0 1,0 -11.6,0M1060.4,1952.0a5.8,5.8 0 1,0 11.6,0a5.8,5.8 0 1,0 -11.6,0M1065.4,1958.0a5.8,5.8 0 1,0 11.6,0a5.8,5.8 0 1,0 -11.6,0M1070.6,1965.1a5.8,5.8 0 1,0 11.6,0a5.8,5.8 0 1,0 -11.6,0M1076.7,1971.6a5.8,5.8 0 1,0 11.6,0a5.8,5.8 0 1,0 -11.6,0M1081.1,1978.4a5.8,5.8 0 1,0 11.6,0a5.8,5.8 0 1,0 -11.6,0M1085.4,1985.7a5.8,5.8 0 1,0 11.6,0a5.8,5.8 0 1,0 -11.6,0M1090.2,1993.6a5.8,5.8 0 1,0 11.6,0a5.8,5.8 0 1,0 -11.6,0M1095.8,1999.8a5.8,5.8 0 1,0 11.6,0a5.8,5.8 0 1,0 -11.6,0M1102.3,2006.6a5.8,5.8 0 1,0 11.6,0a5.8,5.8 0 1,0 -11.6,0M1108.5,2012.6a5.8,5.8 0 1,0 11.6,0a5.8,5.8 0 1,0 -11.6,0M1114.5,2017.5a5.8,5.8 0 1,0 11.6,0a5.8,5.8 0 1,0 -11.6,0M1120.8,2023.4a5.8,5.8 0 1,0 11.6,0a5.8,5.8 0 1,0 -11.6,0M1126.3,2029.2a5.8,5.8 0 1,0 11.6,0a5.8,5.8 0 1,0 -11.6,0M1133.3,2036.5a5.8,5.8 0 1,0 11.6,0a5.8,5.8 0 1,0 -11.6,0M1138.5,2041.9a5.8,5.8 0 1,0 11.6,0a5.8,5.8 0 1,0 -11.6,0M1143.8,2048.5a5.8,5.8 0 1,0 11.6,0a5.8,5.8 0 1,0 -11.6,0M1149.5,2055.3a5.8,5.8 0 1,0 11.6,0a5.8,5.8 0 1,0 -11.6,0M1154.0,2062.7a5.8,5.8 0 1,0 11.6,0a5.8,5.8 0 1,0 -11.6,0M1160.0,2068.0a5.8,5.8 0 1,0 11.6,0a5.8,5.8 0 1,0 -11.6,0M1166.2,2075.5a5.8,5.8 0 1,0 11.6,0a5.8,5.8 0 1,0 -11.6,0M1171.2,2081.6a5.8,5.8 0 1,0 11.6,0a5.8,5.8 0 1,0 -11.6,0M1177.9,2087.6a5.8,5.8 0 1,0 11.6,0a5.8,5.8 0 1,0 -11.6,0M1182.9,2093.8a5.8,5.8 0 1,0 11.6,0a5.8,5.8 0 1,0 -11.6,0M1189.4,2100.2a5.8,5.8 0 1,0 11.6,0a5.8,5.8 0 1,0 -11.6,0M1196.3,2106.2a5.8,5.8 0 1,0 11.6,0a5.8,5.8 0 1,0 -11.6,0M1202.0,2110.9a5.8,5.8 0 1,0 11.6,0a5.8,5.8 0 1,0 -11.6,0M1209.6,2117.1a5.8,5.8 0 1,0 11.6,0a5.8,5.8 0 1,0 -11.6,0M1215.6,2122.7a5.8,5.8 0 1,0 11.6,0a5.8,5.8 0 1,0 -11.6,0M1221.5,2128.8a5.8,5.8 0 1,0 11.6,0a5.8,5.8 0 1,0 -11.6,0M1228.2,2133.7a5.8,5.8 0 1,0 11.6,0a5.8,5.8 0 1,0 -11.6,0M1233.8,2139.0a5.8,5.8 0 1,0 11.6,0a5.8,5.8 0 1,0 -11.6,0M1241.1,2146.2a5.8,5.8 0 1,0 11.6,0a5.8,5.8 0 1,0 -11.6,0M1245.7,2151.5a5.8,5.8 0 1,0 11.6,0a5.8,5.8 0 1,0 -11.6,0" fill="#000"/>
<path d="M290.0,2062.0 L290.8,2059.3 L291.6,2057.8 L292.3,2054.4 L293.1,2052.3 L293.9,2050.6 L294.7,2047.6 L295.5,2044.9 L296.3,2042.2 L297.0,2039.9 L297.8,2037.8 L298.6,2035.7 L299.8,2032.6 L301.1,2030.6 L302.3,2028.4 L303.5,2026.2 L304.7,2024.9 L306.0,2022.1 L307.2,2019.4 L308.4,2017.3 L309.6,2016.0 L310.9,2012.6 L312.1,2011.3 L313.3,2007.9 L314.6,2006.1 L316.0,2003.8 L317.3,2003.0 L318.6,1999.7 L319.9,1997.7 L321.3,1995.2 L322.6,1993.5 L323.9,1992.2 L325.2,1990.1 L326.6,1988.3 L327.9,1986.2 L329.1,1983.1 L330.3,1981.4 L331.5,1977.6 L332.8,1976.7 L334.0,1973.4 L335.2,1970.6 L336.4,1969.3 L337.6,1967.1 L338.9,1963.9 L340.1,1961.0 L341.3,1960.0 L342.5,1957.5 L343.8,1954.9 L345.0,1953.3 L346.2,1949.3 L347.5,1947.0 L348.8,1944.8 L350.0,1942.3 L351.2,1941.3 L352.5,1938.8 L353.8,1935.6 L355.0,1933.4 L356.2,1931.0 L357.4,1929.3 L358.7,1927.0 L359.9,1925.1 L361.1,1921.5 L362.3,1920.2 L363.6,1916.8 L364.8,1914.2 L366.0,1911.6 L367.4,1909.1 L368.9,1908.0 L370.3,1905.6 L371.7,1902.7 L373.1,1899.3 L374.6,1896.9 L376.0,1894.4 L377.3,1892.5 L378.6,1890.9 L379.9,1887.5 L381.2,1886.1 L382.6,1884.1 L383.9,1880.7 L385.2,1879.1 L386.5,1877.5 L387.7,1874.8 L388.8,1872.3 L390.0,1870.8 L391.1,1868.0 L392.3,1865.2 L393.4,1863.0 L394.6,1861.7 L395.7,1859.2 L396.9,1857.0 L398.0,1854.1 L399.2,1851.0 L400.3,1848.8 L401.5,1846.8 L402.6,1845.1 L403.8,1841.5 L404.9,1840.7 L406.1,1838.3 L407.2,1835.5 L408.4,1832.3 L409.9,1831.6 L411.3,1828.8 L412.8,1827.1 L414.3,1824.7 L415.7,1822.9 L417.2,1820.2 L418.7,1819.0 L420.1,1816.8 L421.6,1814.7 L423.1,1811.9 L424.5,1809.3 L426.0,1807.2 L427.5,1804.9 L428.9,1803.9 L430.4,1801.5 L431.9,1799.4 L433.3,1797.3 L434.8,1795.4 L436.2,1792.8 L437.7,1789.9 L439.2,1788.6 L440.6,1785.5 L442.1,1784.0 L443.5,1781.1 L445.0,1780.2 L446.5,1777.4 L447.9,1774.8 L449.4,1773.9 L450.8,1770.2 L452.3,1769.6 L454.0,1767.2 L455.7,1764.1 L457.4,1763.2 L459.1,1760.8 L460.8,1759.4 L462.5,1756.8 L464.1,1754.5 L465.8,1753.4 L467.5,1749.8 L469.2,1749.1 L470.9,1745.8 L472.6,1744.1 L474.3,1741.8 L476.1,1741.3 L477.9,1738.7 L479.8,1737.4 L481.6,1734.7 L483.4,1733.8 L485.2,1731.8 L487.1,1729.0 L488.9,1727.8 L490.7,1726.4 L492.6,1723.7 L494.4,1722.6 L496.2,1720.1 L498.0,1718.5 L499.9,1717.6 L501.7,1715.8 L503.5,1714.1 L505.3,1711.2 L507.2,1709.5 L509.0,1708.1 L510.8,1706.1 L512.7,1703.6 L514.5,1702.5 L516.3,1699.7 L518.2,1698.8 L520.0,1696.1 L521.8,1693.6 L523.6,1692.9 L525.5,1690.0 L527.3,1689.1 L529.1,1686.2 L531.0,1686.0 L532.8,1683.4 L534.6,1681.9 L536.8,1679.5 L539.0,1679.1 L541.2,1677.3 L543.4,1675.8 L545.6,1675.5 L547.8,1672.7 L550.0,1672.2 L552.2,1670.2 L554.4,1670.3 L556.6,1669.0 L559.0,1666.8 L561.5,1666.9 L563.9,1666.3 L566.3,1666.1 L568.8,1665.4 L571.2,1664.1 L573.6,1664.5 L576.1,1662.5 L578.5,1661.7 L581.2,1662.6 L584.0,1661.0 L586.8,1660.7 L589.5,1661.0 L592.2,1660.3 L595.0,1659.6 L597.8,1660.6 L600.5,1659.5 L602.9,1659.4 L605.4,1657.8 L607.8,1658.3 L610.3,1656.4 L612.7,1657.0 L615.2,1655.8 L617.6,1655.8 L620.1,1654.8 L622.5,1653.9 L624.9,1652.3 L627.4,1651.4 L629.8,1649.2 L632.2,1647.1 L634.7,1647.1 L637.1,1645.5 L639.9,1645.2 L642.6,1645.3 L645.4,1644.4 L648.1,1644.8 L650.9,1645.5 L653.6,1645.7 L656.4,1645.7 L659.1,1644.3 L661.5,1645.9 L664.0,1646.3 L666.4,1646.7 L668.8,1646.9 L671.3,1647.5 L673.7,1648.7 L676.1,1649.4 L678.6,1649.6 L681.0,1650.5 L683.4,1651.9 L685.9,1653.5 L688.3,1654.3 L690.8,1654.7 L693.2,1657.1 L695.7,1657.3 L698.1,1659.5 L700.6,1660.7 L703.0,1660.4 L705.3,1662.7 L707.6,1665.0 L710.0,1665.5 L712.3,1667.3 L714.6,1668.5 L717.1,1669.6 L719.6,1671.5 L722.0,1673.0 L724.5,1675.0 L727.0,1677.2 L729.2,1678.3 L731.4,1680.2 L733.6,1680.9 L735.8,1681.6 L738.0,1683.8 L740.2,1684.4 L742.4,1685.5 L744.6,1687.3 L746.8,1688.1 L749.0,1688.7 L751.7,1690.0 L754.3,1690.3 L757.0,1692.3 L759.6,1691.8 L762.3,1693.9 L765.0,1693.1 L767.6,1693.8 L770.3,1695.6 L772.5,1696.4 L774.7,1698.4 L776.9,1699.1 L779.0,1701.8 L781.2,1702.9 L783.4,1704.4 L785.6,1706.2 L787.8,1707.8 L789.9,1708.9 L792.0,1710.6 L794.1,1711.0 L796.2,1712.8 L798.3,1715.1 L800.4,1717.8 L802.5,1718.3 L804.3,1720.5 L806.0,1721.3 L807.8,1723.8 L809.6,1726.5 L811.3,1727.7 L813.1,1729.9 L814.8,1730.2 L816.6,1732.3 L818.4,1734.1 L820.1,1737.0 L821.9,1737.5 L823.7,1740.8 L825.4,1741.4 L827.2,1744.3 L828.9,1745.4 L830.7,1746.8 L832.5,1749.8 L834.2,1750.5 L836.0,1752.9 L837.7,1753.7 L839.3,1757.1 L841.0,1759.4 L842.7,1759.8 L844.3,1762.9 L846.0,1764.1 L847.7,1765.9 L849.3,1768.3 L851.0,1770.8 L852.7,1773.3 L854.3,1775.4 L856.0,1777.4 L857.7,1778.7 L859.3,1780.8 L861.0,1781.9 L863.1,1784.5 L865.2,1785.8 L867.3,1787.1 L869.4,1789.7 L871.6,1790.2 L873.7,1791.6 L875.8,1793.2 L877.9,1794.8 L880.0,1797.3 L881.8,1799.5 L883.6,1800.1 L885.5,1802.6 L887.3,1804.5 L889.1,1806.3 L891.0,1807.9 L892.8,1810.0 L894.6,1810.8 L896.4,1812.7 L898.3,1815.2 L900.1,1816.7 L901.9,1819.5 L903.8,1820.4 L905.6,1823.3 L907.4,1824.1 L909.3,1825.6 L911.1,1828.2 L912.9,1829.8 L914.8,1831.6 L916.6,1834.2 L918.6,1834.9 L920.6,1837.5 L922.6,1839.5 L924.6,1840.5 L926.6,1842.3 L928.5,1844.8 L930.5,1846.0 L932.5,1846.9 L934.5,1848.5 L936.5,1850.2 L938.5,1852.4 L940.3,1853.7 L942.2,1856.4 L944.0,1857.7 L945.8,1859.2 L947.7,1861.3 L949.5,1863.7 L951.3,1864.2 L953.2,1865.7 L955.0,1867.7 L956.8,1869.5 L958.7,1872.2 L960.5,1873.6 L962.3,1875.0 L964.2,1876.5 L966.0,1878.2 L967.8,1880.3 L969.7,1883.6 L971.5,1885.2 L973.3,1886.2 L975.2,1889.0 L977.0,1890.0 L978.8,1892.7 L980.7,1894.4 L982.5,1895.9 L984.3,1898.9 L986.1,1900.7 L988.0,1902.1 L989.8,1903.3 L991.6,1906.1 L993.5,1907.5 L995.3,1909.7 L997.1,1910.5 L998.9,1913.8 L1000.8,1914.0 L1002.6,1916.3 L1004.4,1918.4 L1006.1,1920.0 L1007.8,1921.7 L1009.5,1924.7 L1011.2,1927.2 L1012.9,1927.9 L1014.6,1929.7 L1016.2,1932.3 L1017.9,1933.4 L1019.6,1935.7 L1021.3,1938.1 L1023.0,1939.5 L1024.7,1941.0 L1026.4,1942.7 L1028.1,1945.4 L1029.9,1948.0 L1031.6,1949.7 L1033.4,1950.0 L1035.1,1952.5 L1036.8,1954.3 L1038.6,1955.6 L1040.3,1958.3 L1042.0,1959.8 L1043.8,1962.1 L1045.5,1963.0 L1047.3,1966.0 L1049.0,1967.6 L1050.9,1968.6 L1052.8,1969.7 L1054.7,1972.0 L1056.6,1973.1 L1058.5,1975.8 L1060.4,1977.5 L1062.3,1978.9 L1064.2,1981.3 L1066.1,1981.3 L1067.9,1984.2 L1069.8,1986.1 L1071.7,1986.5 L1073.6,1988.6 L1075.5,1989.8 L1077.4,1992.4 L1079.3,1994.3 L1081.2,1995.4 L1083.1,1997.7 L1085.0,1998.8 L1087.0,2001.0 L1088.9,2001.8 L1090.9,2004.6 L1092.8,2005.2 L1094.8,2006.0 L1096.8,2007.8 L1098.7,2010.5 L1100.7,2012.3 L1102.6,2013.5 L1104.6,2014.2 L1106.5,2017.1 L1108.5,2018.4 L1110.4,2019.1 L1112.2,2021.4 L1114.1,2023.7 L1116.0,2024.3 L1117.8,2026.2 L1119.7,2028.6 L1121.5,2031.3 L1123.4,2033.3 L1125.3,2033.9 L1127.1,2036.8 L1129.0,2038.4 L1130.9,2040.3 L1132.7,2041.6 L1134.6,2044.1 L1136.5,2045.3 L1138.3,2047.7 L1140.2,2048.8 L1142.0,2049.9 L1143.9,2052.3 L1145.8,2054.1 L1147.6,2055.6 L1149.5,2057.5 L1151.8,2059.0 L1154.0,2060.4 L1156.3,2061.0 L1158.5,2062.3 L1160.8,2064.0 L1163.0,2065.2 L1165.3,2066.3 L1167.5,2068.0 L1169.8,2068.4 L1172.0,2070.3 L1174.3,2071.1 L1176.5,2073.2 L1178.8,2074.4 L1180.7,2076.2 L1182.6,2077.5 L1184.5,2078.7 L1186.4,2081.7 L1188.3,2082.6 L1190.2,2084.1 L1192.1,2085.7 L1194.0,2087.6 L1195.9,2089.9 L1197.8,2091.8 L1199.7,2092.9 L1201.6,2095.1 L1203.5,2095.9 L1205.4,2098.0 L1207.3,2099.6 L1209.2,2101.2 L1211.1,2103.0 L1213.0,2105.5 L1215.3,2106.8 L1217.5,2107.2 L1219.8,2108.6 L1222.1,2111.0 L1224.4,2112.1 L1226.6,2113.5 L1228.9,2114.8 L1231.2,2116.3 L1233.5,2116.9 L1235.7,2117.8 L1238.0,2119.7 L1240.3,2120.5 L1242.5,2123.6 L1244.8,2124.1 L1247.1,2125.8 L1249.4,2127.7 L1251.6,2128.7 L1253.9,2129.1 L1256.2,2130.6 L1258.5,2131.6 L1260.7,2134.2 L1263.0,2135.4 L1265.3,2136.3 L1267.5,2137.5 L1269.8,2138.7 L1272.1,2140.4 L1274.4,2142.2 L1276.6,2143.9 L1278.9,2145.2 L1281.2,2146.6 L1283.5,2147.2 L1285.7,2148.5 L1288.0,2149.7 L1290.3,2151.9 L1292.5,2151.6 L1294.8,2152.7 L1297.1,2154.0 L1299.4,2156.2 L1301.6,2157.2 L1303.9,2157.3 L1306.2,2159.4 L1308.5,2160.5 L1310.7,2160.8 L1313.0,2161.4" fill="none" stroke="#ff0000" stroke-width="12.5" stroke-linecap="round" stroke-linejoin="round"/>
<path d="M289.9,2116.9 L292.1,2114.2 L294.2,2113.4 L296.4,2110.4 L298.6,2108.1 L300.6,2106.7 L302.5,2104.4 L304.5,2102.2 L306.4,2101.1 L308.4,2099.3 L310.3,2096.9 L312.3,2095.8 L314.2,2094.7 L316.2,2092.2 L318.1,2091.1 L320.1,2089.2 L322.0,2086.7 L324.0,2084.6 L325.9,2084.1 L327.9,2082.2 L329.7,2079.8 L331.6,2077.8 L333.4,2077.1 L335.2,2075.4 L337.1,2072.4 L338.9,2071.2 L340.7,2069.3 L342.5,2067.0 L344.4,2064.7 L346.2,2063.4 L348.0,2062.1 L349.9,2060.2 L351.7,2058.2 L353.5,2055.7 L355.4,2054.0 L357.2,2052.4 L359.2,2050.8 L361.1,2048.9 L363.1,2048.2 L365.0,2045.0 L367.0,2044.8 L368.9,2041.7 L370.9,2041.1 L372.8,2038.2 L374.8,2037.1 L376.7,2034.9 L378.7,2032.6 L380.6,2032.2 L382.6,2030.5 L384.5,2027.7 L386.5,2026.9 L388.3,2024.5 L390.1,2023.6 L392.0,2020.1 L393.8,2018.9 L395.6,2016.8 L397.4,2015.6 L399.3,2014.1 L401.1,2012.4 L402.9,2010.0 L404.8,2007.9 L406.6,2006.8 L408.4,2003.7 L410.2,2002.2 L412.1,2001.2 L413.9,1998.8 L415.7,1998.0 L417.7,1994.6 L419.6,1993.5 L421.6,1991.3 L423.5,1989.2 L425.5,1987.6 L427.4,1985.8 L429.4,1984.5 L431.3,1982.9 L433.3,1981.3 L435.2,1979.1 L437.2,1978.1 L439.1,1976.0 L441.1,1975.1 L443.0,1971.9 L445.0,1970.7 L447.1,1969.2 L449.2,1967.6 L451.3,1967.0 L453.4,1964.3 L455.5,1964.1 L457.6,1961.7 L459.6,1960.2 L461.7,1959.2 L463.8,1957.7 L465.9,1955.7 L468.0,1953.9 L470.1,1954.0 L472.2,1951.5 L474.3,1949.6 L476.4,1949.1 L478.5,1947.4 L480.6,1945.6 L482.6,1944.1 L484.7,1943.6 L486.8,1941.2 L488.9,1939.9 L491.0,1939.4 L493.1,1936.9 L495.2,1935.5 L497.2,1933.6 L499.3,1933.0 L501.4,1931.6 L503.5,1929.7 L505.6,1928.1 L507.6,1926.2 L509.7,1925.7 L511.8,1923.6 L513.8,1922.7 L515.9,1920.3 L517.9,1919.5 L520.0,1916.7 L522.1,1915.6 L524.3,1915.6 L526.4,1913.7 L528.5,1912.3 L530.7,1910.7 L532.8,1909.3 L535.2,1907.6 L537.5,1906.3 L539.9,1906.0 L542.2,1904.9 L544.6,1902.9 L546.9,1902.4 L549.3,1900.3 L551.7,1900.4 L554.2,1898.7 L556.6,1898.5 L559.0,1897.3 L561.5,1896.8 L563.9,1895.2 L566.3,1895.0 L568.8,1894.4 L571.2,1892.7 L573.6,1892.2 L576.1,1892.0 L578.5,1890.9 L581.2,1890.5 L583.8,1890.2 L586.5,1889.3 L589.2,1888.2 L591.8,1888.0 L594.5,1888.2 L597.1,1887.2 L599.8,1887.0 L602.5,1885.7 L605.1,1885.3 L607.8,1885.7 L610.2,1884.7 L612.7,1883.6 L615.1,1881.8 L617.6,1881.9 L620.0,1880.0 L622.5,1880.8 L624.9,1880.1 L627.4,1878.8 L629.8,1877.2 L632.5,1877.8 L635.1,1876.2 L637.8,1877.0 L640.5,1876.0 L643.1,1874.7 L645.8,1875.9 L648.4,1874.7 L651.1,1875.0 L653.8,1874.3 L656.4,1873.7 L659.1,1873.9 L661.8,1872.8 L664.4,1874.2 L667.1,1873.3 L669.7,1872.9 L672.4,1873.6 L675.0,1873.2 L677.7,1873.4 L680.3,1874.5 L683.0,1873.7 L685.6,1874.0 L688.3,1874.3 L691.0,1874.7 L693.8,1876.2 L696.5,1876.5 L699.3,1876.8 L702.0,1877.4 L704.8,1876.8 L707.5,1877.8 L710.3,1877.2 L712.7,1879.2 L715.2,1879.8 L717.6,1880.5 L720.0,1880.4 L722.5,1880.9 L724.9,1883.2 L727.3,1883.4 L729.8,1884.3 L732.2,1885.6 L734.8,1884.5 L737.4,1885.7 L740.0,1885.5 L742.7,1886.3 L745.3,1885.9 L747.9,1885.6 L750.5,1887.2 L753.1,1886.2 L755.7,1887.3 L758.3,1887.6 L761.0,1886.8 L763.6,1887.8 L766.2,1887.5 L768.8,1887.4 L771.3,1887.8 L773.8,1889.6 L776.2,1888.9 L778.7,1889.6 L781.2,1890.0 L783.7,1889.6 L786.2,1891.3 L788.7,1891.7 L791.1,1892.3 L793.6,1891.8 L796.1,1892.0 L798.6,1892.6 L801.1,1893.7 L803.6,1894.0 L806.0,1894.0 L808.5,1894.6 L811.0,1894.4 L813.5,1896.8 L816.0,1896.9 L818.5,1898.0 L821.0,1899.5 L823.5,1899.5 L826.0,1901.4 L828.5,1901.7 L831.0,1903.6 L833.5,1903.3 L836.0,1904.6 L838.3,1906.6 L840.5,1907.7 L842.8,1908.9 L845.1,1910.6 L847.4,1911.3 L849.6,1913.1 L851.9,1913.6 L854.2,1916.4 L856.5,1916.8 L858.7,1919.2 L861.0,1920.1 L863.4,1921.3 L865.8,1922.4 L868.1,1922.6 L870.5,1924.9 L872.9,1925.1 L875.2,1927.3 L877.6,1928.2 L880.0,1929.1 L882.4,1930.5 L884.9,1930.9 L887.3,1932.4 L889.8,1934.0 L892.2,1933.7 L894.6,1934.7 L897.1,1936.3 L899.5,1937.6 L902.0,1938.1 L904.4,1939.3 L906.9,1941.6 L909.3,1941.8 L911.7,1942.5 L914.2,1943.6 L916.6,1945.4 L919.0,1945.8 L921.5,1947.5 L923.9,1948.7 L926.3,1949.6 L928.8,1950.8 L931.2,1952.5 L933.6,1952.1 L936.1,1954.9 L938.5,1954.7 L940.8,1955.5 L943.0,1957.9 L945.3,1958.7 L947.5,1959.8 L949.8,1960.3 L952.0,1962.4 L954.3,1962.7 L956.5,1964.6 L958.8,1964.8 L961.0,1966.6 L963.3,1967.8 L965.5,1968.4 L967.8,1969.8 L970.2,1970.5 L972.7,1973.0 L975.1,1974.5 L977.6,1975.0 L980.0,1977.2 L982.5,1979.0 L984.7,1979.1 L986.9,1981.7 L989.1,1983.1 L991.3,1982.8 L993.5,1984.5 L995.7,1985.4 L997.8,1987.0 L1000.0,1987.9 L1002.2,1989.9 L1004.4,1990.8 L1006.6,1992.1 L1008.8,1993.7 L1011.0,1994.8 L1013.3,1996.9 L1015.5,1998.1 L1017.8,1998.4 L1020.1,2000.0 L1022.4,2000.9 L1024.6,2002.9 L1026.9,2003.8 L1029.2,2006.3 L1031.5,2007.8 L1033.7,2009.5 L1036.0,2009.5 L1038.1,2010.6 L1040.2,2013.2 L1042.2,2014.0 L1044.3,2016.3 L1046.4,2016.8 L1048.5,2018.0 L1050.6,2019.0 L1052.7,2021.9 L1054.8,2022.5 L1056.8,2023.8 L1058.9,2025.2 L1061.0,2027.2 L1063.1,2028.7 L1065.2,2029.4 L1067.2,2030.3 L1069.3,2032.1 L1071.4,2034.3 L1073.5,2034.8 L1075.8,2036.5 L1078.1,2037.5 L1080.4,2038.5 L1082.7,2039.9 L1085.0,2040.5 L1087.3,2042.0 L1089.7,2043.5 L1092.0,2043.0 L1094.3,2044.5 L1096.7,2046.4 L1099.0,2047.5 L1101.3,2046.7 L1103.7,2048.7 L1106.0,2049.6 L1108.3,2051.0 L1110.7,2051.2 L1113.0,2051.5 L1115.3,2052.8 L1117.7,2054.4 L1120.0,2055.4 L1122.3,2055.4 L1124.7,2057.2 L1127.0,2058.2 L1129.3,2059.1 L1131.7,2058.9 L1134.0,2060.7 L1136.3,2061.4 L1138.7,2062.9 L1141.0,2063.3 L1143.3,2063.9 L1145.7,2065.9 L1148.0,2066.1 L1150.3,2068.0 L1152.7,2068.1 L1155.0,2069.5 L1157.5,2070.8 L1160.1,2070.3 L1162.6,2072.3 L1165.2,2071.9 L1167.7,2074.3 L1170.2,2073.4 L1172.8,2075.5 L1175.3,2075.7 L1177.8,2076.2 L1180.4,2077.4 L1182.9,2078.4 L1185.5,2079.0 L1188.0,2079.3 L1190.2,2081.3 L1192.3,2082.2 L1194.5,2084.8 L1196.7,2085.0 L1198.9,2086.4 L1201.0,2087.3 L1203.2,2090.0 L1205.4,2090.1 L1207.6,2092.0 L1209.7,2093.6 L1211.9,2094.2 L1214.1,2096.1 L1216.3,2096.6 L1218.4,2097.6 L1220.6,2098.7 L1222.8,2100.8 L1225.0,2102.8 L1227.1,2102.9 L1229.3,2104.7 L1231.5,2106.6 L1233.7,2107.0 L1235.8,2108.1 L1238.0,2110.0 L1240.4,2110.7 L1242.8,2112.5 L1245.1,2113.2 L1247.5,2112.9 L1249.9,2114.3 L1252.3,2114.8 L1254.7,2115.0 L1257.0,2116.6 L1259.4,2118.2 L1261.8,2118.0 L1264.2,2119.3 L1266.6,2120.4 L1269.0,2120.0 L1271.3,2122.4 L1273.7,2121.8 L1276.1,2123.0 L1278.5,2124.6 L1280.9,2124.1 L1283.2,2125.6 L1285.6,2126.0 L1288.0,2127.5 L1290.5,2127.4 L1293.0,2128.4 L1295.5,2129.3 L1298.0,2129.7 L1300.5,2130.5 L1303.0,2131.5 L1305.5,2132.8 L1308.0,2132.8 L1310.5,2134.8 L1313.0,2134.9 L1315.5,2135.3 L1318.0,2136.0 L1320.5,2137.9 L1323.0,2137.2 L1325.5,2139.2 L1328.0,2138.8 L1330.5,2141.1 L1333.0,2140.8 L1335.5,2141.9 L1338.0,2143.2 L1340.5,2142.5 L1343.0,2143.2 L1345.5,2145.1 L1348.0,2145.7 L1350.5,2146.6 L1353.0,2146.6 L1355.5,2147.7 L1358.0,2147.9 L1360.5,2149.1 L1363.0,2149.6 L1365.5,2150.9 L1368.0,2151.1 L1370.5,2151.8 L1373.0,2153.3 L1375.5,2153.0 L1378.0,2155.0 L1380.5,2155.2 L1383.0,2155.5 L1385.5,2156.1 L1388.0,2157.5 L1390.5,2158.0 L1393.0,2158.8 L1395.5,2158.6 L1398.0,2159.1 L1400.5,2160.5 L1403.0,2159.8 L1405.5,2161.5 L1408.0,2161.8 L1410.5,2162.4 L1413.0,2162.8" fill="none" stroke="#0000ff" stroke-width="12.5" stroke-linecap="round" stroke-linejoin="round"/>
<path d="M289.9,2148.5 L292.8,2146.7 L295.7,2144.4 L298.6,2144.5 L301.0,2142.8 L303.5,2142.2 L305.9,2140.7 L308.4,2138.8 L310.8,2139.4 L313.2,2137.0 L315.7,2136.2 L318.1,2135.9 L320.6,2134.1 L323.0,2133.7 L325.5,2133.2 L327.9,2131.0 L330.3,2131.1 L332.8,2129.0 L335.2,2128.8 L337.7,2128.2 L340.1,2127.3 L342.5,2125.0 L345.0,2124.3 L347.4,2124.9 L349.9,2122.7 L352.3,2121.8 L354.8,2120.7 L357.2,2120.4 L359.6,2119.5 L362.1,2118.4 L364.5,2116.9 L367.0,2116.2 L369.4,2115.2 L371.9,2113.5 L374.3,2114.1 L376.7,2113.1 L379.2,2111.8 L381.6,2111.2 L384.1,2109.2 L386.5,2109.0 L388.7,2106.5 L391.0,2106.3 L393.2,2105.0 L395.5,2104.2 L397.7,2102.8 L400.0,2101.6 L402.2,2099.2 L404.5,2099.0 L406.7,2097.1 L409.0,2095.5 L411.2,2094.4 L413.5,2094.0 L415.7,2092.9 L418.1,2091.8 L420.6,2090.4 L423.0,2088.3 L425.5,2087.1 L427.9,2086.9 L430.4,2085.1 L432.8,2084.2 L435.2,2082.7 L437.7,2081.7 L440.1,2081.7 L442.6,2079.6 L445.0,2079.8 L447.3,2077.6 L449.5,2077.5 L451.8,2075.3 L454.0,2074.1 L456.3,2073.2 L458.5,2071.3 L460.8,2071.1 L463.0,2069.8 L465.3,2067.9 L467.5,2068.5 L469.8,2066.4 L472.0,2064.5 L474.3,2065.3 L476.5,2062.7 L478.8,2061.7 L481.0,2060.1 L483.3,2059.1 L485.5,2059.2 L487.8,2057.8 L490.0,2056.5 L492.3,2054.9 L494.5,2053.9 L496.8,2054.1 L499.0,2051.8 L501.3,2051.9 L503.5,2050.6 L505.9,2048.3 L508.4,2049.0 L510.8,2046.6 L513.3,2047.3 L515.7,2046.8 L518.1,2045.8 L520.6,2044.8 L523.0,2044.6 L525.5,2042.5 L527.9,2042.5 L530.4,2041.3 L532.8,2040.8 L535.2,2039.5 L537.7,2039.7 L540.1,2038.5 L542.6,2038.0 L545.0,2036.9 L547.4,2035.9 L549.9,2035.7 L552.3,2034.6 L554.7,2033.2 L557.2,2031.8 L559.6,2032.2 L562.1,2030.2 L564.5,2028.8 L566.9,2028.3 L569.4,2028.2 L571.8,2027.8 L574.2,2026.3 L576.7,2025.5 L579.1,2025.1 L581.6,2023.9 L584.0,2022.4 L586.5,2022.2 L589.0,2022.5 L591.5,2021.4 L594.0,2020.7 L596.5,2021.5 L599.0,2021.6 L601.5,2020.2 L604.0,2020.9 L606.5,2021.0 L609.0,2019.3 L611.5,2018.5 L614.0,2018.5 L616.5,2017.4 L619.0,2017.9 L621.5,2017.2 L624.0,2015.4 L626.5,2015.3 L629.0,2014.3 L631.5,2012.6 L634.0,2013.4 L636.5,2011.1 L639.0,2010.2 L641.5,2010.2 L644.0,2008.5 L646.5,2008.7 L649.0,2007.8 L651.5,2008.2 L654.0,2006.3 L656.5,2006.4 L659.0,2005.6 L661.5,2004.5 L664.0,2003.1 L666.5,2002.6 L669.0,2002.3 L671.5,2001.5 L674.0,2001.3 L676.5,2000.3 L679.0,1999.3 L681.5,1999.2 L684.0,1999.3 L686.5,1997.1 L689.0,1996.7 L691.5,1995.4 L694.0,1994.9 L696.5,1994.1 L699.1,1995.0 L701.8,1996.0 L704.4,1995.9 L707.0,1996.6 L709.7,1996.5 L712.3,1996.2 L714.9,1996.3 L717.6,1995.4 L720.2,1996.3 L722.8,1996.2 L725.5,1997.1 L728.1,1996.1 L730.7,1997.3 L733.4,1997.1 L736.0,1997.5 L738.5,1996.8 L741.0,1995.7 L743.5,1996.5 L746.0,1996.1 L748.5,1995.2 L751.0,1993.7 L753.5,1994.2 L756.0,1994.2 L758.5,1994.0 L761.0,1993.0 L763.5,1991.1 L766.0,1992.3 L768.5,1991.3 L771.0,1990.1 L773.5,1990.8 L776.0,1990.2 L778.5,1989.8 L781.0,1988.0 L783.5,1988.2 L786.0,1987.3 L788.5,1987.1 L791.0,1988.0 L793.5,1987.7 L796.0,1987.2 L798.5,1987.6 L801.0,1988.4 L803.5,1987.6 L806.0,1988.3 L808.5,1987.6 L811.0,1988.5 L813.5,1986.6 L816.0,1987.4 L818.5,1987.6 L821.0,1988.0 L823.5,1988.4 L826.0,1987.7 L828.5,1987.5 L831.0,1987.8 L833.5,1987.6 L836.0,1987.9 L838.5,1988.8 L841.0,1987.3 L843.5,1988.3 L846.0,1989.8 L848.5,1988.5 L851.0,1990.3 L853.5,1989.2 L856.0,1990.8 L858.5,1991.5 L861.0,1990.7 L863.5,1991.4 L866.0,1991.5 L868.5,1992.8 L871.0,1992.8 L873.5,1993.3 L876.0,1993.2 L878.5,1994.0 L881.0,1995.2 L883.5,1995.2 L886.0,1995.9 L888.5,1994.7 L891.0,1995.5 L893.5,1995.5 L896.0,1995.7 L898.5,1996.9 L901.0,1995.8 L903.5,1996.9 L906.0,1997.5 L908.5,1998.1 L911.0,1996.5 L913.5,1997.3 L916.0,1998.0 L918.5,1999.1 L921.0,1997.8 L923.5,1999.4 L926.0,1998.8 L928.5,1999.3 L931.0,2000.4 L933.5,1998.9 L936.0,1999.7 L938.5,1999.8 L941.0,2000.3 L943.5,2001.1 L946.0,2002.4 L948.5,2002.7 L951.0,2002.2 L953.5,2004.1 L956.0,2004.0 L958.5,2003.8 L961.0,2005.6 L963.5,2006.1 L966.0,2005.4 L968.5,2007.4 L971.0,2007.6 L973.5,2007.0 L976.0,2007.0 L978.5,2009.2 L981.0,2009.7 L983.5,2008.7 L986.0,2010.5 L988.5,2011.0 L991.0,2011.2 L993.5,2012.1 L996.0,2012.8 L998.5,2012.0 L1001.0,2013.5 L1003.5,2014.1 L1006.0,2013.4 L1008.5,2014.6 L1011.0,2015.0 L1013.5,2015.8 L1016.0,2015.7 L1018.5,2015.6 L1021.0,2016.0 L1023.5,2017.1 L1025.9,2017.2 L1028.3,2019.5 L1030.7,2020.5 L1033.1,2020.1 L1035.5,2021.9 L1038.0,2022.8 L1040.4,2022.6 L1042.8,2024.8 L1045.2,2025.7 L1047.6,2025.7 L1050.0,2026.2 L1052.5,2027.1 L1055.0,2028.5 L1057.5,2028.4 L1060.0,2029.6 L1062.5,2028.8 L1065.0,2029.2 L1067.5,2030.2 L1070.0,2031.8 L1072.5,2030.8 L1075.0,2031.1 L1077.5,2033.0 L1080.0,2032.2 L1082.5,2033.8 L1085.0,2033.2 L1087.5,2034.2 L1090.0,2035.7 L1092.5,2036.8 L1095.0,2036.6 L1097.5,2037.4 L1100.0,2037.2 L1102.5,2038.5 L1105.0,2039.0 L1107.5,2040.8 L1110.0,2041.4 L1112.5,2042.2 L1115.0,2042.4 L1117.5,2043.4 L1120.0,2043.0 L1122.5,2044.1 L1125.0,2044.5 L1127.5,2045.0 L1130.0,2046.5 L1132.5,2046.1 L1135.0,2046.9 L1137.5,2047.4 L1140.0,2049.2 L1142.5,2049.3 L1145.0,2049.6 L1147.5,2050.0 L1150.0,2051.7 L1152.5,2052.3 L1155.0,2051.9 L1157.5,2052.9 L1160.1,2054.2 L1162.6,2053.7 L1165.1,2054.5 L1167.7,2054.9 L1170.2,2056.5 L1172.8,2057.7 L1175.3,2057.3 L1177.8,2058.6 L1180.4,2060.4 L1182.9,2060.1 L1185.4,2060.7 L1188.0,2062.3 L1190.5,2063.2 L1193.0,2062.8 L1195.5,2063.0 L1198.0,2064.7 L1200.5,2065.6 L1203.0,2066.6 L1205.5,2066.7 L1208.0,2066.7 L1210.6,2067.8 L1213.1,2068.0 L1215.6,2069.0 L1218.1,2069.7 L1220.6,2071.3 L1223.1,2071.9 L1225.6,2072.7 L1228.1,2072.4 L1230.6,2074.0 L1233.1,2073.0 L1235.6,2075.2 L1238.1,2075.2 L1240.6,2076.3 L1243.1,2076.0 L1245.6,2077.8 L1248.1,2076.5 L1250.6,2078.8 L1253.1,2079.3 L1255.6,2079.1 L1258.0,2080.6 L1260.5,2080.0 L1263.0,2081.7 L1265.5,2081.8 L1268.0,2082.3 L1270.5,2082.5 L1273.0,2084.3 L1275.5,2084.8 L1278.0,2084.2 L1280.5,2086.6 L1283.0,2085.7 L1285.5,2086.6 L1288.0,2087.3 L1290.5,2088.3 L1293.0,2089.5 L1295.5,2090.3 L1298.0,2090.3 L1300.5,2090.4 L1303.0,2090.5 L1305.5,2091.0 L1308.0,2092.5 L1310.5,2093.3 L1313.0,2093.6 L1315.5,2095.3 L1318.0,2094.8 L1320.5,2095.3 L1323.0,2096.1 L1325.5,2096.2 L1328.0,2098.4 L1330.5,2098.3 L1333.0,2098.8 L1335.5,2099.2 L1338.0,2099.5 L1340.5,2100.4 L1343.0,2101.5 L1345.5,2102.1 L1348.0,2104.0 L1350.5,2103.9 L1353.0,2103.9 L1355.5,2104.4 L1358.0,2105.3 L1360.5,2106.4 L1363.0,2108.1 L1365.5,2109.0 L1368.0,2108.5 L1370.5,2110.3 L1373.0,2110.4 L1375.5,2111.3 L1378.0,2112.1 L1380.5,2111.8 L1383.0,2112.6 L1385.5,2114.6 L1388.0,2115.4 L1390.5,2115.5 L1393.0,2117.3 L1395.5,2117.9 L1398.0,2117.6 L1400.5,2117.9 L1403.0,2119.6 L1405.5,2120.6 L1408.0,2120.4 L1410.5,2120.8 L1413.0,2122.5 L1415.5,2122.3 L1418.0,2124.5 L1420.5,2125.0 L1423.0,2125.1 L1425.5,2126.1 L1428.0,2126.5 L1430.5,2127.1 L1433.0,2127.9 L1435.5,2129.9 L1438.0,2129.9 L1440.5,2130.9 L1443.0,2130.7 L1445.5,2132.1 L1448.0,2132.2 L1450.5,2132.8 L1453.0,2132.8 L1455.5,2133.6 L1458.0,2133.4 L1460.5,2135.4 L1463.0,2135.3 L1465.5,2135.6 L1468.0,2136.3 L1470.5,2135.7 L1473.0,2136.7 L1475.5,2137.0 L1478.0,2138.7 L1480.5,2137.5 L1483.0,2138.9 L1485.5,2140.2 L1488.0,2140.6 L1490.5,2140.9 L1493.0,2140.6 L1495.5,2141.0 L1498.0,2142.4 L1500.5,2142.1 L1503.0,2143.4 L1505.5,2143.2 L1508.0,2144.5 L1510.5,2144.6 L1513.0,2145.6 L1515.5,2146.5 L1518.0,2145.8 L1520.5,2147.5 L1523.0,2146.0 L1525.5,2148.3 L1528.0,2147.1 L1530.5,2148.6 L1533.0,2148.8 L1535.5,2150.0 L1538.0,2149.6 L1540.6,2149.7 L1543.2,2151.2 L1545.9,2151.0 L1548.5,2151.8 L1551.1,2151.5 L1553.8,2150.9 L1556.4,2152.7 L1559.0,2151.9 L1561.6,2152.8 L1564.2,2152.1 L1566.9,2153.0 L1569.5,2154.1 L1572.1,2154.6 L1574.8,2154.6 L1577.4,2154.6 L1580.0,2155.5 L1582.5,2155.5 L1585.0,2154.8 L1587.5,2155.7 L1590.0,2156.0 L1592.5,2156.5 L1595.0,2155.6 L1597.5,2156.0 L1600.0,2156.3 L1602.5,2156.0 L1605.0,2156.7 L1607.5,2157.7 L1610.0,2157.6 L1612.5,2156.9 L1615.0,2158.3 L1617.5,2157.2 L1620.0,2158.7 L1622.5,2157.7 L1625.0,2157.8 L1627.5,2158.3 L1630.0,2159.0 L1632.5,2158.6 L1635.0,2159.9 L1637.5,2160.1 L1640.0,2158.9 L1642.5,2159.9 L1645.0,2159.8 L1647.5,2159.6 L1650.0,2159.1 L1652.5,2160.5 L1655.0,2160.6 L1657.5,2158.8 L1660.0,2159.5 L1662.5,2159.6 L1665.0,2159.4 L1667.5,2159.9 L1670.0,2160.9 L1672.5,2159.3 L1675.0,2161.0 L1677.5,2160.0 L1680.0,2159.5 L1682.5,2161.3 L1685.0,2160.1 L1687.5,2160.1 L1690.0,2159.9 L1692.5,2160.5 L1695.0,2160.1 L1697.5,2160.3 L1700.0,2160.5 L1702.5,2161.2 L1705.0,2160.9 L1707.6,2160.6 L1710.1,2161.1 L1712.6,2161.5 L1715.1,2161.4 L1717.6,2160.7 L1720.2,2161.8 L1722.7,2161.6 L1725.2,2161.1 L1727.7,2161.0 L1730.2,2160.7 L1732.8,2160.3 L1735.3,2161.8 L1737.8,2161.2 L1740.3,2160.2 L1742.8,2161.9 L1745.4,2161.8 L1747.9,2160.1 L1750.4,2161.4 L1752.9,2160.5 L1755.5,2161.1 L1758.0,2161.7 L1760.5,2160.7 L1763.0,2161.0 L1765.5,2161.3 L1768.1,2160.4 L1770.6,2161.3 L1773.1,2160.9 L1775.6,2162.0 L1778.1,2160.4 L1780.7,2161.4 L1783.2,2160.1 L1785.7,2160.5 L1788.2,2160.2 L1790.7,2160.3 L1793.3,2161.1 L1795.8,2160.3 L1798.3,2161.6 L1800.8,2160.2 L1803.3,2161.2 L1805.9,2161.7 L1808.4,2160.3 L1810.9,2160.4 L1813.4,2161.5 L1815.9,2160.9 L1818.5,2161.9 L1821.0,2160.7 L1823.5,2160.8 L1826.0,2161.9 L1828.5,2160.7 L1831.1,2161.9 L1833.6,2161.8 L1836.1,2160.4 L1838.6,2161.1 L1841.2,2161.9 L1843.7,2160.2 L1846.2,2161.7 L1848.7,2161.5 L1851.2,2161.5 L1853.8,2161.2 L1856.3,2160.2 L1858.8,2161.9 L1861.3,2160.2 L1863.8,2161.6 L1866.4,2161.4 L1868.9,2160.6 L1871.4,2161.4 L1873.9,2160.8 L1876.4,2161.5 L1879.0,2160.1 L1881.5,2161.9 L1884.0,2160.8" fill="none" stroke="#008000" stroke-width="12.5" stroke-linecap="round" stroke-linejoin="round"/>
<path d="M289.0,2155.5 L292.2,2157.1 L295.4,2154.3 L298.6,2155.4 L301.0,2152.0 L303.5,2153.6 L305.9,2150.7 L308.4,2153.8 L310.8,2151.8 L313.2,2149.3 L315.7,2151.0 L318.1,2149.5 L320.6,2148.3 L323.0,2142.4 L325.5,2144.3 L327.9,2143.2 L330.6,2141.9 L333.2,2138.3 L335.9,2142.6 L338.6,2139.8 L341.2,2140.5 L343.9,2141.7 L346.5,2138.9 L349.2,2137.8 L351.9,2142.6 L354.5,2139.3 L357.2,2138.2 L359.9,2138.6 L362.5,2142.9 L365.2,2141.3 L367.9,2138.1 L370.5,2137.2 L373.2,2140.5 L375.8,2138.5 L378.5,2137.3 L381.2,2134.1 L383.8,2134.7 L386.5,2136.8 L388.9,2130.9 L391.4,2132.2 L393.8,2129.5 L396.2,2133.7 L398.7,2128.5 L401.1,2132.4 L403.5,2131.3 L406.0,2130.3 L408.4,2126.3 L410.8,2129.3 L413.3,2127.8 L415.7,2127.2 L418.4,2124.9 L421.0,2126.3 L423.7,2127.1 L426.4,2122.8 L429.0,2125.7 L431.7,2122.4 L434.3,2120.5 L437.0,2119.3 L439.7,2119.4 L442.3,2119.5 L445.0,2118.2 L446.8,2117.9 L448.6,2114.0 L450.5,2112.2 L452.3,2112.9 L454.1,2107.2 L456.0,2104.5 L457.8,2104.5 L459.6,2102.9 L462.5,2103.0 L465.5,2105.7 L468.4,2104.8 L471.4,2110.4 L474.3,2109.0 L476.5,2109.9 L478.7,2107.8 L480.9,2106.6 L483.1,2105.4 L485.2,2101.5 L487.4,2102.2 L489.6,2097.9 L491.8,2098.2 L494.0,2096.8 L496.2,2096.2 L498.6,2094.7 L501.1,2097.4 L503.5,2101.7 L505.9,2100.9 L508.4,2101.2 L510.9,2096.2 L513.3,2096.3 L515.8,2095.4 L518.2,2098.3 L520.6,2097.9 L523.1,2096.8 L525.5,2096.9 L527.9,2094.9 L530.4,2094.3 L532.8,2095.3 L535.1,2092.5 L537.4,2091.1 L539.6,2089.1 L541.9,2086.9 L544.2,2086.5 L546.5,2083.8 L549.0,2081.2 L551.5,2082.5 L554.0,2082.3 L556.5,2082.2 L559.0,2082.8 L561.5,2081.8 L564.0,2082.2 L566.5,2082.6 L569.0,2082.7 L571.5,2086.3 L573.3,2079.8 L575.1,2077.5 L576.9,2079.2 L578.6,2075.6 L580.4,2074.0 L582.2,2072.8 L584.0,2069.7 L586.1,2070.8 L588.2,2071.4 L590.2,2077.6 L592.3,2079.6 L594.4,2077.7 L596.5,2080.1 L599.0,2078.1 L601.5,2075.4 L604.0,2078.3 L606.5,2076.6 L609.0,2072.2 L611.5,2071.0 L614.0,2072.0 L616.5,2071.5 L619.0,2068.8 L621.5,2067.5 L623.3,2065.1 L625.1,2066.4 L626.9,2065.2 L628.6,2063.7 L630.4,2058.4 L632.2,2059.5 L634.0,2060.1 L636.5,2059.0 L639.0,2057.8 L641.5,2056.4 L644.0,2056.0 L646.5,2059.4 L649.0,2055.7 L651.5,2059.3 L654.0,2058.1 L656.5,2056.6 L659.0,2058.2 L661.5,2056.6 L664.0,2053.0 L666.5,2048.5 L669.0,2049.2 L671.5,2046.6 L673.3,2047.4 L675.1,2052.7 L676.9,2053.4 L678.6,2052.1 L680.4,2054.6 L682.2,2057.1 L684.0,2060.3 L685.8,2057.4 L687.6,2056.4 L689.4,2056.8 L691.1,2052.0 L692.9,2053.3 L694.7,2049.7 L696.5,2051.2 L699.4,2052.0 L702.3,2049.3 L705.2,2051.1 L708.1,2048.8 L711.0,2050.4 L713.5,2050.6 L716.0,2049.7 L718.5,2047.2 L721.0,2044.6 L723.5,2044.1 L726.0,2045.5 L728.5,2042.7 L731.0,2042.7 L733.5,2043.8 L736.0,2044.9 L738.5,2042.2 L741.0,2040.3 L743.5,2041.6 L746.0,2039.6 L748.5,2041.8 L751.0,2038.1 L753.5,2038.2 L756.0,2038.6 L758.5,2040.4 L761.0,2035.8 L763.5,2035.1 L766.0,2033.8 L768.5,2033.2 L771.0,2032.7 L773.5,2031.9 L776.0,2033.0 L778.5,2030.3 L781.0,2029.9 L783.5,2028.9 L786.0,2030.2 L788.5,2030.4 L791.0,2027.6 L793.5,2029.9 L796.0,2026.3 L798.5,2030.0 L801.0,2027.6 L803.5,2028.3 L806.0,2026.7 L808.5,2026.1 L811.0,2025.2 L813.5,2029.3 L816.0,2026.7 L818.5,2028.4 L821.0,2027.0 L823.5,2027.1 L826.0,2025.1 L828.5,2024.5 L831.0,2024.9 L833.5,2026.2 L836.0,2025.0 L838.5,2021.8 L841.0,2025.2 L843.5,2023.5 L846.0,2021.5 L848.5,2022.5 L851.0,2022.7 L853.5,2026.4 L856.0,2025.5 L858.5,2025.0 L861.0,2025.3 L863.5,2026.1 L866.0,2026.7 L868.5,2027.5 L871.0,2030.3 L873.5,2030.6 L876.0,2030.4 L878.5,2031.5 L881.0,2030.3 L883.5,2027.4 L886.0,2027.0 L888.5,2026.7 L891.0,2026.3 L893.5,2026.9 L896.0,2027.6 L898.5,2025.7 L901.0,2024.4 L903.5,2023.0 L906.0,2026.5 L908.5,2025.2 L911.0,2022.9 L913.5,2021.6 L916.0,2026.7 L918.5,2023.2 L921.0,2026.5 L923.5,2022.9 L926.0,2025.7 L928.5,2024.2 L931.0,2026.8 L933.5,2023.4 L936.0,2022.1 L938.5,2022.1 L941.0,2024.7 L943.5,2025.0 L946.0,2022.7 L948.5,2022.3 L951.0,2019.7 L953.5,2019.1 L956.0,2017.8 L958.5,2022.2 L961.0,2017.1 L963.5,2020.7 L966.0,2020.1 L968.5,2020.1 L971.0,2022.2 L973.5,2025.7 L976.0,2023.0 L978.5,2023.3 L981.0,2026.4 L983.5,2027.2 L986.0,2026.9 L988.5,2024.7 L991.0,2027.7 L993.5,2023.0 L996.0,2022.6 L998.5,2022.1 L1001.0,2022.6 L1003.5,2021.5 L1006.0,2021.1 L1008.5,2021.2 L1011.0,2021.4 L1013.5,2018.6 L1016.0,2016.0 L1018.5,2019.7 L1021.0,2015.3 L1023.5,2016.7 L1026.0,2015.8 L1028.5,2018.2 L1031.0,2019.1 L1033.5,2015.8 L1036.0,2016.6 L1038.6,2020.0 L1041.2,2019.5 L1043.7,2016.8 L1046.3,2020.0 L1048.9,2020.6 L1051.5,2018.6 L1054.1,2017.1 L1056.6,2019.6 L1059.2,2017.7 L1061.8,2016.7 L1064.4,2016.8 L1066.9,2018.1 L1069.5,2016.8 L1072.1,2018.4 L1074.7,2019.7 L1077.3,2020.2 L1079.8,2020.0 L1082.4,2022.7 L1085.0,2019.7 L1087.5,2021.8 L1090.0,2025.7 L1092.5,2026.1 L1095.0,2027.0 L1097.5,2026.7 L1100.0,2025.9 L1102.5,2027.5 L1105.0,2026.6 L1107.5,2024.2 L1110.0,2024.9 L1112.5,2024.0 L1115.0,2027.9 L1117.5,2024.9 L1120.0,2025.3 L1122.6,2025.5 L1125.3,2022.8 L1127.9,2025.7 L1130.5,2026.0 L1133.2,2026.0 L1135.8,2026.5 L1138.4,2023.8 L1141.1,2023.1 L1143.7,2026.5 L1146.2,2026.5 L1148.7,2025.2 L1151.2,2025.3 L1153.7,2024.4 L1156.2,2028.0 L1158.7,2026.0 L1161.2,2027.7 L1163.8,2025.0 L1166.3,2024.6 L1168.8,2025.2 L1171.3,2026.0 L1173.8,2026.4 L1176.3,2023.4 L1178.8,2024.9 L1181.4,2023.4 L1184.0,2025.8 L1186.5,2025.5 L1189.1,2024.8 L1191.7,2024.2 L1194.3,2024.3 L1196.8,2028.1 L1199.4,2028.3 L1202.0,2026.4 L1204.4,2026.5 L1206.8,2028.3 L1209.2,2033.5 L1211.6,2029.7 L1214.0,2034.7 L1216.4,2034.0 L1218.8,2034.9 L1221.2,2035.5 L1223.6,2035.4 L1226.0,2036.7 L1228.4,2034.8 L1230.8,2039.6 L1233.2,2036.0 L1235.6,2036.8 L1238.0,2040.3 L1240.5,2040.1 L1243.0,2041.0 L1245.5,2040.6 L1248.0,2042.1 L1250.5,2037.8 L1253.0,2038.0 L1255.5,2039.5 L1258.0,2042.7 L1260.5,2039.8 L1263.0,2042.0 L1265.5,2043.5 L1268.0,2040.3 L1270.5,2042.2 L1273.0,2043.9 L1275.5,2042.8 L1278.0,2040.6 L1280.5,2040.6 L1283.0,2039.0 L1285.5,2042.1 L1288.0,2040.6 L1290.5,2040.4 L1293.0,2038.7 L1295.5,2041.4 L1298.0,2040.6 L1300.5,2042.9 L1303.0,2041.4 L1305.5,2045.0 L1308.0,2044.9 L1310.5,2044.7 L1313.0,2046.4 L1315.5,2048.7 L1318.0,2048.2 L1320.5,2051.4 L1323.0,2047.3 L1325.5,2052.7 L1327.8,2052.7 L1330.2,2052.3 L1332.5,2054.9 L1334.9,2052.0 L1337.2,2053.6 L1339.6,2056.2 L1341.9,2057.4 L1344.2,2055.7 L1346.6,2059.6 L1348.9,2058.6 L1351.3,2056.3 L1353.6,2057.6 L1356.0,2058.4 L1358.3,2062.2 L1360.7,2062.1 L1363.0,2063.1 L1365.5,2064.8 L1368.0,2063.6 L1370.5,2068.7 L1373.0,2069.1 L1375.5,2068.3 L1378.0,2068.2 L1380.5,2068.0 L1383.0,2069.8 L1385.5,2068.7 L1388.0,2072.1 L1390.5,2072.5 L1393.0,2071.7 L1395.5,2072.5 L1398.0,2068.9 L1400.5,2069.5 L1403.0,2071.0 L1405.5,2070.3 L1408.0,2072.4 L1410.5,2075.9 L1413.0,2075.9 L1415.5,2076.7 L1418.0,2073.2 L1420.5,2073.6 L1423.0,2073.0 L1425.5,2074.7 L1428.0,2074.0 L1430.5,2076.9 L1433.0,2076.0 L1435.5,2078.2 L1438.0,2077.7 L1440.5,2078.0 L1443.0,2076.3 L1445.5,2078.4 L1448.0,2077.9 L1450.5,2077.7 L1453.0,2076.1 L1455.5,2075.7 L1458.0,2074.5 L1460.5,2073.0 L1463.0,2075.1 L1465.8,2075.7 L1468.7,2073.5 L1471.5,2077.2 L1474.3,2077.6 L1477.2,2077.9 L1480.0,2078.2 L1482.5,2077.2 L1485.0,2076.3 L1487.5,2077.5 L1490.0,2080.5 L1492.5,2082.3 L1495.0,2078.2 L1497.5,2078.0 L1500.0,2080.0 L1502.5,2080.1 L1505.0,2081.4 L1506.8,2080.4 L1508.6,2085.8 L1510.4,2084.7 L1512.1,2089.2 L1513.9,2087.8 L1515.7,2089.3 L1517.5,2090.2 L1520.0,2094.5 L1522.5,2092.8 L1525.0,2094.5 L1527.5,2091.0 L1530.0,2094.1 L1532.5,2095.7 L1535.0,2097.8 L1537.5,2098.3 L1540.0,2094.7 L1542.5,2096.8 L1545.0,2100.7 L1547.5,2098.8 L1550.0,2101.5 L1552.5,2098.1 L1555.0,2097.1 L1557.3,2103.1 L1559.5,2100.6 L1561.8,2103.1 L1564.1,2103.0 L1566.4,2105.0 L1568.6,2107.8 L1570.9,2108.8 L1573.2,2109.4 L1575.5,2107.2 L1577.7,2111.2 L1580.0,2108.3 L1582.3,2111.4 L1584.5,2115.4 L1586.8,2113.0 L1589.1,2115.0 L1591.4,2117.5 L1593.6,2117.1 L1595.9,2121.0 L1598.2,2122.2 L1600.5,2120.7 L1602.7,2126.4 L1605.0,2123.3 L1607.5,2125.9 L1610.0,2123.3 L1612.5,2121.4 L1615.0,2120.1 L1617.5,2123.8 L1620.0,2121.7 L1622.5,2118.8 L1625.0,2119.4 L1627.5,2119.3 L1630.0,2118.0 L1632.3,2117.2 L1634.5,2117.2 L1636.8,2119.8 L1639.1,2123.7 L1641.4,2124.0 L1643.6,2125.3 L1645.9,2128.0 L1648.2,2127.5 L1650.5,2130.1 L1652.7,2133.5 L1655.0,2131.9 L1657.5,2135.3 L1660.0,2130.8 L1662.5,2133.2 L1665.0,2133.0 L1667.5,2130.3 L1670.0,2133.8 L1672.5,2130.5 L1675.0,2128.4 L1677.5,2128.7 L1680.0,2128.8 L1682.5,2127.0 L1685.0,2123.9 L1687.5,2123.6 L1690.0,2126.1 L1692.5,2122.4 L1694.8,2124.1 L1697.2,2128.1 L1699.5,2129.7 L1701.9,2131.1 L1704.2,2128.8 L1706.6,2129.3 L1708.9,2134.6 L1711.2,2135.1 L1713.6,2135.3 L1715.9,2134.7 L1718.3,2138.1 L1720.6,2138.2 L1723.0,2141.0 L1725.3,2143.9 L1727.7,2140.7 L1730.0,2140.8 L1732.5,2143.6 L1735.0,2140.0 L1737.5,2140.1 L1740.0,2140.8 L1742.5,2143.3 L1745.0,2139.5 L1747.5,2139.2 L1750.0,2140.0 L1752.5,2138.4 L1755.0,2139.8 L1757.5,2142.3 L1760.0,2141.4 L1762.5,2144.9 L1765.0,2142.8 L1767.5,2143.5 L1770.0,2147.4 L1772.5,2147.5 L1775.0,2150.8 L1777.5,2147.4 L1780.0,2151.5 L1782.5,2151.7 L1785.0,2150.7 L1787.5,2149.9 L1790.0,2152.8 L1792.5,2153.9 L1795.0,2151.1 L1797.5,2149.8 L1800.0,2149.7 L1802.5,2148.1 L1805.0,2146.1 L1807.5,2144.0 L1810.0,2144.6 L1812.5,2144.3 L1815.0,2145.4 L1817.5,2145.4 L1820.0,2143.9 L1822.5,2143.5 L1825.0,2143.6 L1827.5,2146.4 L1830.0,2147.6 L1832.5,2145.5 L1835.0,2148.2 L1837.5,2150.0 L1840.0,2147.0 L1842.5,2149.8 L1845.0,2147.1 L1847.5,2148.1 L1850.0,2149.1 L1852.5,2145.5 L1855.0,2146.1 L1857.7,2149.0 L1860.4,2143.9 L1863.1,2145.0 L1865.8,2145.9 L1868.5,2147.3 L1871.2,2146.9 L1873.9,2148.8 L1876.6,2147.8 L1879.3,2144.7 L1882.0,2145.4" fill="none" stroke="#ff00ff" stroke-width="12.5" stroke-linecap="round" stroke-linejoin="round"/>
<path d="M291.3,2159.4 L294.1,2157.7 L296.8,2158.6 L299.6,2158.3 L302.3,2156.6 L305.1,2157.8 L307.8,2156.1 L310.6,2157.0 L313.3,2154.8 L316.0,2155.3 L318.6,2154.8 L321.3,2153.7 L323.9,2154.9 L326.6,2152.4 L329.2,2152.9 L331.9,2152.8 L334.5,2154.1 L337.2,2152.7 L339.8,2151.2 L342.5,2151.6 L345.2,2152.5 L347.8,2153.1 L350.5,2151.1 L353.2,2153.0 L355.8,2151.9 L358.5,2152.3 L361.1,2152.0 L363.8,2152.0 L366.5,2153.6 L369.1,2153.4 L371.8,2153.4 L374.5,2153.0 L377.1,2153.0 L379.8,2151.6 L382.5,2151.4 L385.1,2153.8 L387.8,2153.5 L390.4,2153.5 L393.1,2152.8 L395.8,2152.8 L398.4,2154.7 L401.1,2153.8 L403.5,2151.4 L406.0,2151.3 L408.4,2150.4 L410.8,2148.6 L413.3,2150.2 L415.7,2149.0 L418.1,2147.8 L420.6,2144.5 L423.0,2144.7 L425.5,2142.9 L427.9,2143.6 L430.4,2142.9 L432.8,2142.2 L435.3,2141.6 L437.7,2139.1 L440.1,2138.2 L442.6,2137.8 L445.0,2139.3 L447.4,2138.7 L449.9,2137.2 L452.3,2135.8 L454.7,2136.9 L457.2,2134.2 L459.6,2134.2 L462.3,2133.2 L464.9,2135.8 L467.6,2134.1 L470.3,2134.9 L472.9,2134.9 L475.6,2134.1 L478.2,2135.1 L480.9,2134.4 L483.6,2134.7 L486.2,2134.6 L488.9,2132.0 L491.5,2133.8 L494.1,2132.3 L496.6,2132.5 L499.2,2132.4 L501.8,2134.2 L504.4,2131.5 L507.0,2132.4 L509.6,2131.5 L512.1,2133.9 L514.7,2132.4 L517.3,2132.9 L519.9,2132.3 L522.5,2132.9 L525.1,2131.6 L527.6,2131.7 L530.2,2132.6 L532.8,2132.4 L535.3,2132.3 L537.8,2130.1 L540.2,2131.0 L542.7,2130.1 L545.2,2129.0 L547.7,2127.9 L550.1,2127.8 L552.6,2125.8 L555.1,2125.3 L557.6,2125.3 L560.0,2124.1 L562.5,2123.3 L565.0,2124.6 L567.4,2123.3 L569.8,2121.6 L572.1,2119.1 L574.5,2119.1 L576.9,2118.0 L579.2,2116.1 L581.6,2113.6 L584.0,2113.2 L586.5,2112.7 L589.0,2112.3 L591.5,2111.9 L594.0,2113.9 L596.5,2113.2 L599.0,2114.1 L601.5,2111.9 L604.0,2112.1 L606.5,2112.8 L609.0,2111.5 L611.5,2112.2 L614.0,2112.8 L616.5,2112.6 L619.0,2113.8 L621.5,2112.8 L624.0,2113.0 L626.5,2112.8 L629.0,2113.3 L631.5,2112.2 L634.0,2111.1 L636.5,2113.3 L639.0,2112.3 L641.5,2110.0 L644.0,2109.4 L646.5,2109.2 L649.0,2109.9 L651.5,2108.0 L654.0,2107.2 L656.5,2108.0 L659.0,2106.1 L661.5,2106.3 L664.0,2106.2 L666.5,2105.2 L669.0,2104.1 L671.5,2104.3 L674.1,2104.6 L676.8,2105.2 L679.4,2105.8 L682.0,2105.9 L684.7,2106.2 L687.3,2105.7 L689.9,2108.3 L692.6,2108.3 L695.2,2108.0 L697.8,2106.9 L700.5,2107.9 L703.1,2110.1 L705.7,2109.2 L708.4,2108.8 L711.0,2110.9 L713.5,2110.6 L716.0,2107.9 L718.5,2108.5 L721.0,2108.2 L723.5,2106.4 L726.0,2106.5 L728.5,2106.8 L731.0,2106.5 L733.5,2105.9 L736.0,2105.3 L738.5,2104.2 L741.0,2102.8 L743.5,2102.1 L746.0,2103.9 L748.5,2103.5 L751.0,2103.1 L753.5,2100.3 L756.0,2101.8 L758.5,2099.6 L761.0,2099.6 L763.5,2099.3 L766.0,2101.3 L768.5,2101.3 L771.0,2101.4 L773.5,2100.3 L776.0,2102.0 L778.5,2100.2 L781.0,2101.2 L783.5,2101.6 L786.0,2100.5 L788.5,2101.0 L791.0,2100.4 L793.5,2102.5 L796.0,2100.9 L798.5,2100.9 L801.0,2101.4 L803.5,2102.5 L806.0,2102.6 L808.5,2102.4 L811.0,2103.5 L813.5,2103.0 L816.0,2101.2 L818.5,2101.8 L821.0,2100.6 L823.5,2100.5 L826.0,2100.0 L828.5,2099.6 L831.0,2100.1 L833.5,2101.3 L836.0,2100.4 L838.5,2098.2 L841.0,2098.0 L843.5,2098.5 L846.0,2097.7 L848.5,2095.7 L851.0,2095.3 L853.5,2096.0 L856.0,2095.5 L858.5,2093.4 L861.0,2094.8 L863.5,2092.7 L866.0,2093.0 L868.5,2092.3 L871.0,2091.2 L873.5,2092.2 L876.0,2090.1 L878.5,2089.6 L881.0,2089.3 L883.5,2089.6 L886.0,2089.4 L888.5,2088.2 L891.0,2086.9 L893.5,2086.8 L896.0,2086.0 L898.5,2086.3 L901.0,2086.3 L903.5,2085.7 L906.0,2084.2 L908.5,2085.2 L911.0,2084.8 L913.5,2084.2 L916.0,2085.8 L918.5,2084.2 L921.0,2085.6 L923.5,2085.0 L926.0,2084.8 L928.5,2085.6 L931.0,2085.6 L933.5,2086.4 L936.0,2086.4 L938.5,2086.7 L941.0,2086.0 L943.5,2088.0 L946.0,2088.3 L948.5,2090.4 L951.0,2089.9 L953.5,2090.4 L956.0,2090.3 L958.5,2092.4 L961.0,2093.4 L963.5,2093.6 L966.0,2093.9 L968.5,2095.8 L971.0,2095.5 L973.5,2096.6 L976.0,2097.0 L978.5,2096.4 L981.0,2096.5 L983.5,2096.3 L986.0,2095.5 L988.5,2094.5 L991.0,2093.8 L993.5,2095.0 L996.0,2095.8 L998.5,2093.6 L1001.0,2093.4 L1003.5,2093.0 L1006.0,2093.8 L1008.5,2092.8 L1011.0,2093.3 L1013.5,2090.4 L1016.0,2090.1 L1018.5,2089.7 L1021.0,2089.5 L1023.5,2088.9 L1026.0,2088.2 L1028.5,2089.1 L1031.0,2087.0 L1033.5,2086.7 L1036.0,2087.1 L1038.5,2085.6 L1041.0,2084.8 L1043.5,2084.8 L1046.0,2082.7 L1048.5,2081.2 L1051.0,2083.9 L1053.5,2082.8 L1056.0,2083.0 L1058.5,2081.7 L1061.0,2083.7 L1063.5,2082.7 L1066.0,2083.6 L1068.5,2082.7 L1071.0,2084.6 L1073.5,2083.1 L1076.0,2083.0 L1078.5,2084.8 L1081.0,2083.0 L1083.5,2083.3 L1086.0,2084.0 L1088.6,2085.4 L1091.2,2083.0 L1093.8,2083.3 L1096.4,2085.0 L1099.0,2083.1 L1101.6,2084.1 L1104.2,2085.1 L1106.8,2085.0 L1109.4,2085.3 L1112.0,2083.4 L1114.6,2085.6 L1117.2,2084.2 L1119.8,2085.5 L1122.4,2084.6 L1125.0,2085.8 L1127.6,2084.7 L1130.2,2084.2 L1132.8,2083.9 L1135.4,2084.9 L1138.0,2083.7 L1140.5,2084.3 L1143.0,2086.5 L1145.5,2086.0 L1148.0,2087.0 L1150.5,2085.3 L1153.0,2086.4 L1155.5,2086.7 L1158.0,2085.9 L1160.5,2086.6 L1163.0,2088.7 L1165.5,2088.4 L1168.0,2088.0 L1170.5,2088.6 L1173.0,2089.5 L1175.5,2090.0 L1178.0,2089.3 L1180.5,2088.0 L1183.0,2090.5 L1185.5,2088.8 L1188.0,2089.3 L1190.5,2088.9 L1193.0,2089.8 L1195.5,2089.9 L1198.0,2089.4 L1200.5,2089.3 L1203.0,2088.2 L1205.5,2089.7 L1208.0,2089.1 L1210.5,2088.3 L1213.0,2089.7 L1215.5,2089.9 L1218.0,2089.7 L1220.5,2089.7 L1223.0,2087.0 L1225.5,2087.8 L1228.0,2087.9 L1230.5,2087.2 L1233.0,2088.4 L1235.5,2088.8 L1238.0,2086.5 L1240.5,2087.5 L1243.0,2088.8 L1245.5,2088.6 L1248.0,2087.4 L1250.5,2086.4 L1253.0,2087.4 L1255.5,2087.5 L1258.0,2088.3 L1260.5,2086.6 L1263.0,2086.9 L1265.5,2088.9 L1268.0,2086.1 L1270.5,2087.8 L1273.0,2086.4 L1275.5,2088.2 L1278.0,2087.3 L1280.5,2088.7 L1283.0,2086.7 L1285.5,2088.6 L1288.0,2086.7 L1290.5,2086.9 L1293.0,2087.6 L1295.5,2088.2 L1298.0,2089.7 L1300.5,2091.9 L1303.0,2090.8 L1305.5,2092.5 L1308.0,2091.2 L1310.5,2093.2 L1313.0,2093.9 L1315.5,2093.2 L1318.0,2095.2 L1320.5,2095.5 L1323.0,2095.8 L1325.5,2097.8 L1328.0,2098.0 L1330.5,2097.1 L1333.0,2097.6 L1335.5,2098.1 L1338.0,2099.3 L1340.5,2100.8 L1343.0,2102.1 L1345.5,2102.4 L1348.0,2102.5 L1350.5,2100.8 L1353.0,2103.1 L1355.5,2103.4 L1358.0,2102.9 L1360.5,2104.8 L1363.0,2104.0 L1365.5,2103.1 L1368.0,2103.7 L1370.5,2103.8 L1373.0,2105.6 L1375.5,2106.0 L1378.0,2107.0 L1380.5,2105.0 L1383.0,2105.4 L1385.5,2108.4 L1388.0,2106.8 L1390.5,2106.8 L1393.0,2108.5 L1395.5,2106.4 L1398.0,2108.3 L1400.5,2108.6 L1403.0,2107.7 L1405.5,2107.8 L1408.0,2106.1 L1410.5,2107.8 L1413.0,2107.8 L1415.5,2108.3 L1418.0,2107.5 L1420.5,2106.4 L1423.0,2106.7 L1425.5,2107.9 L1428.0,2106.3 L1430.5,2106.4 L1433.0,2106.8 L1435.5,2108.3 L1438.0,2107.6 L1440.5,2106.7 L1443.0,2108.0 L1445.5,2106.6 L1448.0,2105.3 L1450.5,2105.8 L1453.0,2106.2 L1455.5,2104.5 L1458.0,2104.3 L1460.5,2104.3 L1463.0,2105.1 L1465.5,2103.8 L1468.0,2102.1 L1470.5,2102.9 L1473.0,2101.7 L1475.5,2101.8 L1478.0,2102.1 L1480.5,2099.8 L1483.0,2100.8 L1485.5,2099.9 L1488.0,2100.3 L1490.5,2101.4 L1493.0,2100.9 L1495.5,2101.9 L1498.0,2101.4 L1500.5,2101.8 L1503.0,2103.0 L1505.5,2103.6 L1508.0,2103.2 L1510.5,2105.2 L1513.0,2105.0 L1515.5,2105.1 L1518.0,2105.3 L1520.5,2107.4 L1523.0,2108.1 L1525.5,2108.7 L1528.0,2107.3 L1530.5,2107.3 L1533.0,2109.4 L1535.5,2108.2 L1538.0,2111.0 L1540.5,2111.4 L1542.9,2111.4 L1545.4,2112.6 L1547.8,2114.1 L1550.3,2113.6 L1552.7,2115.1 L1555.2,2117.2 L1557.6,2117.8 L1560.1,2118.4 L1562.5,2118.0 L1565.0,2119.2 L1567.5,2120.2 L1570.0,2120.4 L1572.5,2122.9 L1575.0,2123.5 L1577.5,2125.4 L1580.0,2125.2 L1582.5,2126.9 L1585.0,2126.4 L1587.5,2127.3 L1590.0,2127.4 L1592.5,2128.6 L1595.0,2130.7 L1597.5,2130.2 L1600.0,2129.6 L1602.5,2131.3 L1605.0,2131.7 L1607.5,2133.6 L1610.0,2134.0 L1612.5,2134.7 L1615.0,2136.7 L1617.5,2137.0 L1620.0,2135.8 L1622.5,2136.4 L1625.0,2139.1 L1627.5,2139.5 L1630.0,2140.4 L1632.5,2140.3 L1635.0,2139.2 L1637.5,2140.6 L1640.0,2141.9 L1642.5,2141.5 L1645.0,2140.2 L1647.5,2140.7 L1650.0,2143.1 L1652.5,2142.4 L1655.0,2141.6 L1657.5,2143.3 L1660.0,2144.2 L1662.5,2144.3 L1665.0,2143.9 L1667.5,2144.6 L1670.0,2142.8 L1672.5,2144.1 L1675.0,2145.4 L1677.5,2144.3 L1680.0,2144.0 L1682.5,2145.6 L1685.0,2144.8 L1687.5,2142.4 L1690.0,2142.2 L1692.5,2143.2 L1695.0,2143.9 L1697.5,2142.5 L1700.0,2142.9 L1702.5,2140.3 L1705.0,2141.2 L1707.5,2139.7 L1710.0,2139.7 L1712.5,2138.8 L1715.0,2139.3 L1717.5,2137.7 L1720.0,2139.0 L1722.5,2138.6 L1725.0,2138.9 L1727.5,2138.2 L1730.0,2135.8 L1732.5,2137.6 L1735.0,2136.3 L1737.5,2137.0 L1740.0,2135.4 L1742.5,2133.8 L1745.0,2135.7 L1747.5,2134.4 L1750.0,2136.9 L1752.5,2135.8 L1755.0,2137.0 L1757.5,2136.0 L1760.0,2135.7 L1762.5,2136.8 L1765.0,2137.1 L1767.5,2136.6 L1770.0,2136.2 L1772.5,2136.8 L1775.0,2137.8 L1777.5,2136.6 L1780.0,2136.5 L1782.5,2138.1 L1785.0,2139.3 L1787.5,2138.3 L1790.0,2139.5 L1792.5,2142.2 L1795.0,2140.8 L1797.5,2142.9 L1800.0,2142.3 L1802.5,2142.3 L1805.0,2144.1 L1807.5,2145.9 L1810.0,2146.3 L1812.5,2144.9 L1815.0,2147.4 L1817.5,2147.8 L1820.0,2148.1 L1822.5,2149.3 L1825.0,2149.6 L1827.5,2149.3 L1830.0,2151.4 L1832.5,2150.5 L1835.0,2151.6 L1837.5,2153.8 L1840.0,2153.7 L1842.5,2154.2 L1845.0,2155.4 L1847.5,2155.5 L1850.0,2155.8 L1852.5,2157.0 L1855.0,2156.2 L1857.5,2156.4 L1859.9,2154.8 L1862.4,2156.8 L1864.8,2155.9 L1867.3,2154.5 L1869.7,2152.5 L1872.2,2153.7 L1874.6,2151.4 L1877.1,2152.2 L1879.5,2151.1 L1882.0,2150.3" fill="none" stroke="#ff8000" stroke-width="12.5" stroke-linecap="round" stroke-linejoin="round"/>
</g>
<text x="287.5" y="1123.0" font-family="'Liberation Sans', Arial, Helvetica, sans-serif" font-size="77" text-anchor="middle" fill="#000" >1.2</text>
<text x="553.6" y="1123.0" font-family="'Liberation Sans', Arial, Helvetica, sans-serif" font-size="77" text-anchor="middle" fill="#000" >1.3</text>
<text x="819.7" y="1123.0" font-family="'Liberation Sans', Arial, Helvetica, sans-serif" font-size="77" text-anchor="middle" fill="#000" >1.4</text>
<text x="1085.8" y="1123.0" font-family="'Liberation Sans', Arial, Helvetica, sans-serif" font-size="77" text-anchor="middle" fill="#000" >1.5</text>
<text x="1351.8" y="1123.0" font-family="'Liberation Sans', Arial, Helvetica, sans-serif" font-size="77" text-anchor="middle" fill="#000" >1.6</text>
<text x="1617.9" y="1123.0" font-family="'Liberation Sans', Arial, Helvetica, sans-serif" font-size="77" text-anchor="middle" fill="#000" >1.7</text>
<text x="1884.0" y="1123.0" font-family="'Liberation Sans', Arial, Helvetica, sans-serif" font-size="77" text-anchor="middle" fill="#000" >1.8</text>
<text x="287.5" y="2258.5" font-family="'Liberation Sans', Arial, Helvetica, sans-serif" font-size="77" text-anchor="middle" fill="#000" >2.0</text>
<text x="533.1" y="2258.5" font-family="'Liberation Sans', Arial, Helvetica, sans-serif" font-size="77" text-anchor="middle" fill="#000" >2.2</text>
<text x="778.7" y="2258.5" font-family="'Liberation Sans', Arial, Helvetica, sans-serif" font-size="77" text-anchor="middle" fill="#000" >2.4</text>
<text x="1024.3" y="2258.5" font-family="'Liberation Sans', Arial, Helvetica, sans-serif" font-size="77" text-anchor="middle" fill="#000" >2.6</text>
<text x="1270.0" y="2258.5" font-family="'Liberation Sans', Arial, Helvetica, sans-serif" font-size="77" text-anchor="middle" fill="#000" >2.8</text>
<text x="1515.6" y="2258.5" font-family="'Liberation Sans', Arial, Helvetica, sans-serif" font-size="77" text-anchor="middle" fill="#000" >3.0</text>
<text x="1761.2" y="2258.5" font-family="'Liberation Sans', Arial, Helvetica, sans-serif" font-size="77" text-anchor="middle" fill="#000" >3.2</text>
<text x="251.5" y="1050.0" font-family="'Liberation Sans', Arial, Helvetica, sans-serif" font-size="77" text-anchor="end" fill="#000" >0.0</text>
<text x="251.5" y="634.7" font-family="'Liberation Sans', Arial, Helvetica, sans-serif" font-size="77" text-anchor="end" fill="#000" >0.5</text>
<text x="251.5" y="220.1" font-family="'Liberation Sans', Arial, Helvetica, sans-serif" font-size="77" text-anchor="end" fill="#000" >1.0</text>
<text x="251.5" y="2183.8" font-family="'Liberation Sans', Arial, Helvetica, sans-serif" font-size="77" text-anchor="end" fill="#000" >0.0</text>
<text x="251.5" y="1686.5" font-family="'Liberation Sans', Arial, Helvetica, sans-serif" font-size="77" text-anchor="end" fill="#000" >0.2</text>
<text x="251.5" y="1189.8" font-family="'Liberation Sans', Arial, Helvetica, sans-serif" font-size="77" text-anchor="end" fill="#000" >0.4</text>
<text x="348.5" y="177.0" font-family="'Liberation Sans', Arial, Helvetica, sans-serif" font-size="100" text-anchor="start" fill="#000" >(a)</text>
<text x="333.2" y="1317.0" font-family="'Liberation Sans', Arial, Helvetica, sans-serif" font-size="100" text-anchor="start" fill="#000" >(b)</text>
<text x="1845.0" y="1309.0" font-family="'Liberation Sans', Arial, Helvetica, sans-serif" font-size="77" text-anchor="end" fill="#000" letter-spacing="1.6">t = 14.5 nm</text>
<circle cx="1335.4" cy="1283.9" r="6.3" fill="#000"/>
<text x="1845.0" y="1406.3" font-family="'Liberation Sans', Arial, Helvetica, sans-serif" font-size="77" text-anchor="end" fill="#000" letter-spacing="1.6">10.9 nm</text>
<circle cx="1335.4" cy="1381.2" r="6.3" fill="#ff0000"/>
<text x="1845.0" y="1503.6" font-family="'Liberation Sans', Arial, Helvetica, sans-serif" font-size="77" text-anchor="end" fill="#000" letter-spacing="1.6">7.3 nm</text>
<circle cx="1335.4" cy="1478.5" r="6.3" fill="#0000ff"/>
<text x="1845.0" y="1600.9" font-family="'Liberation Sans', Arial, Helvetica, sans-serif" font-size="77" text-anchor="end" fill="#000" letter-spacing="1.6">3.6 nm</text>
<circle cx="1335.4" cy="1575.8" r="6.3" fill="#008000"/>
<text x="1845.0" y="1698.2" font-family="'Liberation Sans', Arial, Helvetica, sans-serif" font-size="77" text-anchor="end" fill="#000" letter-spacing="1.6">1.8 nm</text>
<circle cx="1335.4" cy="1673.1" r="6.3" fill="#ff00ff"/>
<text x="1845.0" y="1795.5" font-family="'Liberation Sans', Arial, Helvetica, sans-serif" font-size="77" text-anchor="end" fill="#000" letter-spacing="1.6">0.9 nm</text>
<circle cx="1335.4" cy="1770.4" r="6.3" fill="#ff8000"/>
<text x="1087.6" y="2414.8" font-family="'Liberation Sans', Arial, Helvetica, sans-serif" font-size="102.5" text-anchor="middle" fill="#000" >Energy (eV)</text>
<text x="0" y="0" font-family="'Liberation Sans', Arial, Helvetica, sans-serif" font-size="102.5" text-anchor="middle" fill="#000" transform="translate(93.5,1097.1) rotate(-90)">Derivative (arb. units)</text>
</svg>
</body></html>
